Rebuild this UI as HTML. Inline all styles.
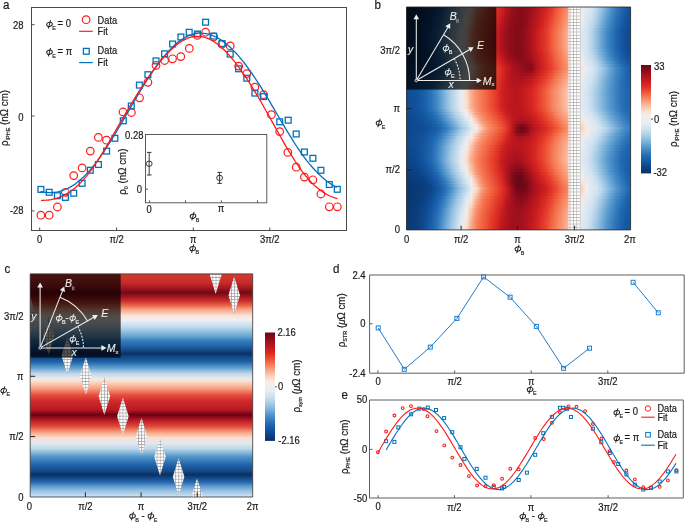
<!DOCTYPE html>
<html><head><meta charset="utf-8"><title>figure</title>
<style>html,body{margin:0;padding:0;background:#fff;overflow:hidden}svg{display:block;transform:translateZ(0)}text{font-family:"Liberation Sans",sans-serif;stroke:#1a1a1a;stroke-width:0.2px}text.w,.w text{stroke:#eeeeee;stroke-width:0.1px}text.s{stroke-width:0.15px}</style>
</head><body>
<svg width="685" height="522" viewBox="0 0 685 522" font-family="Liberation Sans, sans-serif" fill="#1a1a1a">
<defs>
<g id="phi" fill="none" stroke="currentColor" stroke-width="0.95"><ellipse cx="3.3" cy="-2.6" rx="2.85" ry="2.1" transform="rotate(-15 3.3 -2.6)"/><path d="M4.35 -6.9L2.15 1.7"/></g>
<pattern id="hatch" patternUnits="userSpaceOnUse" width="3.4" height="3.2" x="1.8" y="2.8"><rect width="3.4" height="3.2" fill="#fff"/><path d="M0 0.4H3.4M0.4 0V3.2" stroke="#a0a0a0" stroke-width="0.6"/></pattern>
<pattern id="hatchc" patternUnits="userSpaceOnUse" width="3.1" height="3.15" x="1.7" y="3.1"><rect width="3.1" height="3.15" fill="#fff"/><path d="M0 0.4H3.1M0.4 0V3.15" stroke="#9a9a9a" stroke-width="0.65"/></pattern>
</defs>
<text transform="translate(3.0,8.9) scale(0.95,1)" font-size="12.2">a</text>
<g fill="none" stroke="#ff1a1a" stroke-width="1.2"><circle cx="40.9" cy="215.2" r="3.8"/><circle cx="49.2" cy="215.2" r="3.8"/><circle cx="57.4" cy="207.0" r="3.8"/><circle cx="65.4" cy="192.3" r="3.8"/><circle cx="73.7" cy="175.6" r="3.8"/><circle cx="82.1" cy="167.9" r="3.8"/><circle cx="90.3" cy="151.1" r="3.8"/><circle cx="98.4" cy="137.4" r="3.8"/><circle cx="106.5" cy="140.2" r="3.8"/><circle cx="123.0" cy="112.0" r="3.8"/><circle cx="131.4" cy="112.5" r="3.8"/><circle cx="139.5" cy="97.8" r="3.8"/><circle cx="147.9" cy="82.3" r="3.8"/><circle cx="156.0" cy="65.5" r="3.8"/><circle cx="164.6" cy="60.5" r="3.8"/><circle cx="172.5" cy="58.8" r="3.8"/><circle cx="180.8" cy="56.6" r="3.8"/><circle cx="189.3" cy="48.4" r="3.8"/><circle cx="197.4" cy="35.4" r="3.8"/><circle cx="205.6" cy="32.2" r="3.8"/><circle cx="213.7" cy="37.0" r="3.8"/><circle cx="222" cy="44.2" r="3.8"/><circle cx="230.2" cy="45.9" r="3.8"/><circle cx="238.7" cy="66.1" r="3.8"/><circle cx="246.8" cy="73.6" r="3.8"/><circle cx="254.9" cy="87.1" r="3.8"/><circle cx="263.6" cy="94.7" r="3.8"/><circle cx="271.4" cy="114.7" r="3.8"/><circle cx="279.7" cy="131.6" r="3.8"/><circle cx="287.8" cy="152.4" r="3.8"/><circle cx="296.2" cy="167.2" r="3.8"/><circle cx="304.4" cy="177.1" r="3.8"/><circle cx="312.9" cy="179.8" r="3.8"/><circle cx="320.9" cy="194.0" r="3.8"/><circle cx="329.3" cy="206.8" r="3.8"/><circle cx="337.3" cy="206.8" r="3.8"/></g>
<g fill="none" stroke="#0072bd" stroke-width="1.3"><rect x="38.0" y="186.5" width="5.8" height="5.8"/><rect x="46.3" y="189.4" width="5.8" height="5.8"/><rect x="54.5" y="192.8" width="5.8" height="5.8"/><rect x="62.5" y="194.5" width="5.8" height="5.8"/><rect x="70.8" y="190.3" width="5.8" height="5.8"/><rect x="79.2" y="180.4" width="5.8" height="5.8"/><rect x="87.4" y="167.3" width="5.8" height="5.8"/><rect x="95.5" y="161.6" width="5.8" height="5.8"/><rect x="103.7" y="148.2" width="5.8" height="5.8"/><rect x="112.0" y="135.4" width="5.8" height="5.8"/><rect x="120.4" y="117.9" width="5.8" height="5.8"/><rect x="128.4" y="103.1" width="5.8" height="5.8"/><rect x="136.5" y="82.2" width="5.8" height="5.8"/><rect x="145.0" y="71.8" width="5.8" height="5.8"/><rect x="153.1" y="58.0" width="5.8" height="5.8"/><rect x="161.7" y="50.9" width="5.8" height="5.8"/><rect x="169.7" y="41.1" width="5.8" height="5.8"/><rect x="178.0" y="34.1" width="5.8" height="5.8"/><rect x="186.3" y="29.4" width="5.8" height="5.8"/><rect x="194.5" y="31.1" width="5.8" height="5.8"/><rect x="202.7" y="19.3" width="5.8" height="5.8"/><rect x="210.8" y="33.2" width="5.8" height="5.8"/><rect x="219.1" y="40.7" width="5.8" height="5.8"/><rect x="227.3" y="51.2" width="5.8" height="5.8"/><rect x="235.6" y="65.9" width="5.8" height="5.8"/><rect x="243.9" y="75.3" width="5.8" height="5.8"/><rect x="252.0" y="90.2" width="5.8" height="5.8"/><rect x="260.7" y="93.7" width="5.8" height="5.8"/><rect x="276.8" y="118.9" width="5.8" height="5.8"/><rect x="285.3" y="117.3" width="5.8" height="5.8"/><rect x="293.3" y="131.1" width="5.8" height="5.8"/><rect x="301.5" y="149.1" width="5.8" height="5.8"/><rect x="310.0" y="155.4" width="5.8" height="5.8"/><rect x="318.0" y="167.4" width="5.8" height="5.8"/><rect x="326.4" y="181.6" width="5.8" height="5.8"/><rect x="334.4" y="186.4" width="5.8" height="5.8"/></g>
<path d="M40.6 191.5 L43.1 192.0 L45.5 192.3 L48.0 192.5 L50.5 192.6 L52.9 192.5 L55.4 192.2 L57.9 191.8 L60.3 191.2 L62.8 190.4 L65.3 189.5 L67.8 188.4 L70.2 187.1 L72.7 185.6 L75.2 184.0 L77.6 182.1 L80.1 180.1 L82.6 177.8 L85.0 175.4 L87.5 172.9 L90.0 170.1 L92.4 167.2 L94.9 164.1 L97.4 160.8 L99.8 157.4 L102.3 153.9 L104.8 150.3 L107.2 146.5 L109.7 142.6 L112.2 138.6 L114.7 134.6 L117.1 130.5 L119.6 126.3 L122.1 122.1 L124.5 117.9 L127.0 113.6 L129.5 109.4 L131.9 105.1 L134.4 100.9 L136.9 96.7 L139.3 92.6 L141.8 88.5 L144.3 84.5 L146.7 80.6 L149.2 76.8 L151.7 73.1 L154.1 69.4 L156.6 66.0 L159.1 62.6 L161.5 59.4 L164.0 56.3 L166.5 53.4 L169.0 50.7 L171.4 48.1 L173.9 45.8 L176.4 43.6 L178.8 41.6 L181.3 39.8 L183.8 38.3 L186.2 36.9 L188.7 35.7 L191.2 34.8 L193.6 34.1 L196.1 33.5 L198.6 33.2 L201.0 33.2 L203.5 33.3 L206.0 33.6 L208.4 34.2 L210.9 34.9 L213.4 35.9 L215.9 37.0 L218.3 38.3 L220.8 39.9 L223.3 41.6 L225.7 43.5 L228.2 45.5 L230.7 47.7 L233.1 50.1 L235.6 52.7 L238.1 55.4 L240.5 58.3 L243.0 61.3 L245.5 64.5 L247.9 67.8 L250.4 71.2 L252.9 74.8 L255.3 78.5 L257.8 82.3 L260.3 86.1 L262.8 90.1 L265.2 94.1 L267.7 98.2 L270.2 102.4 L272.6 106.6 L275.1 110.8 L277.6 115.0 L280.0 119.2 L282.5 123.4 L285.0 127.6 L287.4 131.7 L289.9 135.7 L292.4 139.7 L294.8 143.5 L297.3 147.3 L299.8 150.9 L302.2 154.5 L304.7 157.8 L307.2 161.1 L309.6 164.1 L312.1 167.0 L314.6 169.8 L317.1 172.4 L319.5 174.8 L322.0 177.1 L324.5 179.2 L326.9 181.2 L329.4 183.0 L331.9 184.6 L334.3 186.1 L336.8 187.4" fill="none" stroke="#0072bd" stroke-width="1.3"/>
<path d="M41.0 200.3 L43.5 200.3 L45.9 200.2 L48.4 200.0 L50.9 199.6 L53.3 199.1 L55.8 198.5 L58.3 197.7 L60.8 196.8 L63.2 195.7 L65.7 194.4 L68.2 192.9 L70.6 191.3 L73.1 189.5 L75.6 187.4 L78.0 185.2 L80.5 182.8 L83.0 180.1 L85.4 177.3 L87.9 174.3 L90.4 171.1 L92.9 167.7 L95.3 164.1 L97.8 160.4 L100.3 156.6 L102.7 152.6 L105.2 148.6 L107.7 144.4 L110.1 140.2 L112.6 136.0 L115.1 131.7 L117.5 127.4 L120.0 123.1 L122.5 118.8 L125.0 114.5 L127.4 110.3 L129.9 106.1 L132.4 102.0 L134.8 98.0 L137.3 94.0 L139.8 90.1 L142.2 86.3 L144.7 82.5 L147.2 78.9 L149.6 75.3 L152.1 71.9 L154.6 68.6 L157.1 65.4 L159.5 62.3 L162.0 59.3 L164.5 56.5 L166.9 53.8 L169.4 51.2 L171.9 48.9 L174.3 46.7 L176.8 44.6 L179.3 42.8 L181.7 41.2 L184.2 39.8 L186.7 38.6 L189.2 37.7 L191.6 37.0 L194.1 36.5 L196.6 36.3 L199.0 36.3 L201.5 36.6 L204.0 37.1 L206.4 37.8 L208.9 38.8 L211.4 40.1 L213.8 41.5 L216.3 43.2 L218.8 45.1 L221.2 47.2 L223.7 49.5 L226.2 52.0 L228.7 54.6 L231.1 57.5 L233.6 60.4 L236.1 63.6 L238.5 66.8 L241.0 70.3 L243.5 73.8 L245.9 77.4 L248.4 81.2 L250.9 85.1 L253.3 89.1 L255.8 93.1 L258.3 97.3 L260.8 101.5 L263.2 105.8 L265.7 110.2 L268.2 114.6 L270.6 119.0 L273.1 123.4 L275.6 127.9 L278.0 132.3 L280.5 136.7 L283.0 141.1 L285.4 145.4 L287.9 149.6 L290.4 153.7 L292.9 157.7 L295.3 161.5 L297.8 165.2 L300.3 168.8 L302.7 172.1 L305.2 175.3 L307.7 178.3 L310.1 181.0 L312.6 183.6 L315.1 186.0 L317.5 188.1 L320.0 190.1 L322.5 191.8 L325.0 193.4 L327.4 194.8 L329.9 196.0 L332.4 197.0 L334.8 197.9 L337.3 198.7" fill="none" stroke="#ff1a1a" stroke-width="1.3"/>
<rect x="31.5" y="7.5" width="315" height="223" fill="none" stroke="#4a4a4a" stroke-width="1"/>
<path d="M31.5 24.7h3M31.5 116h3M31.5 210.9h3M39.7 230.5v-3M116.6 230.5v-3M193.3 230.5v-3M269.8 230.5v-3" stroke="#4a4a4a" stroke-width="1"/>
<text transform="translate(23.6,28.6) scale(0.9,1)" font-size="10.5" text-anchor="end">28</text><text transform="translate(23.6,121) scale(0.9,1)" font-size="10.5" text-anchor="end">0</text><text transform="translate(23.6,214.3) scale(0.9,1)" font-size="10.5" text-anchor="end">-28</text>
<text transform="translate(39.7,243) scale(0.9,1)" font-size="10.5" text-anchor="middle">0</text><text transform="translate(116.6,243) scale(0.9,1)" font-size="10.5" text-anchor="middle">π/2</text><text transform="translate(193.3,243) scale(0.9,1)" font-size="10.5" text-anchor="middle">π</text><text transform="translate(269.8,243) scale(0.9,1)" font-size="10.5" text-anchor="middle">3π/2</text>
<use href="#phi" transform="translate(189.4,251.2)" color="#1a1a1a"/><text x="195.5" y="254.3" font-size="5.4" fill="#1a1a1a" class="s">B</text>
<text transform="translate(8.2,118) rotate(-90) scale(0.92,1)" font-size="10.6" text-anchor="middle">ρ<tspan font-size="6" dy="2">IPHE</tspan><tspan dy="-2"> (nΩ cm)</tspan></text>
<use href="#phi" transform="translate(46.2,27.0)" color="#1a1a1a"/><text x="52.3" y="30.1" font-size="5.4" fill="#1a1a1a" class="s">E</text><text transform="translate(57.6,27) scale(0.9,1)" font-size="10.5">= 0</text>
<use href="#phi" transform="translate(46.2,54.8)" color="#1a1a1a"/><text x="52.3" y="57.9" font-size="5.4" fill="#1a1a1a" class="s">E</text><text transform="translate(57.6,54.8) scale(0.9,1)" font-size="10.5">= π</text>
<circle cx="86.1" cy="19.7" r="3.8" fill="none" stroke="#ff1a1a" stroke-width="1.2"/>
<path d="M79.1 31.3H92.8" stroke="#ff1a1a" stroke-width="1.2"/>
<rect x="83.4" y="48.4" width="5.8" height="5.8" fill="none" stroke="#0072bd" stroke-width="1.3"/>
<path d="M79.1 62.6H92.8" stroke="#0072bd" stroke-width="1.2"/>
<text transform="translate(97.6,23.5) scale(0.88,1)" font-size="10.5">Data</text><text transform="translate(97.6,34.6) scale(0.88,1)" font-size="10.5">Fit</text><text transform="translate(97.6,53.9) scale(0.88,1)" font-size="10.5">Data</text><text transform="translate(97.6,65.9) scale(0.88,1)" font-size="10.5">Fit</text>
<rect x="145.5" y="134.5" width="121.3" height="68.3" fill="#fff" stroke="#4a4a4a" stroke-width="0.9"/>
<path d="M145.5 189.2h2.5M149.6 202.8v-2.5M185.5 202.8v-2.5M221.3 202.8v-2.5M257.5 202.8v-2.5" stroke="#4a4a4a" stroke-width="0.9"/>
<text transform="translate(143.4,138.6) scale(0.9,1)" font-size="10.5" text-anchor="end">0.28</text><text transform="translate(142,192.7) scale(0.9,1)" font-size="10.5" text-anchor="end">0</text>
<text transform="translate(149,212.6) scale(0.9,1)" font-size="10.5" text-anchor="middle">0</text><text transform="translate(221,212.4) scale(0.9,1)" font-size="10.5" text-anchor="middle">π</text>
<use href="#phi" transform="translate(189.7,218.8)" color="#1a1a1a"/><text x="195.8" y="221.9" font-size="5.4" fill="#1a1a1a" class="s">B</text>
<text transform="translate(126.2,171.7) rotate(-90) scale(0.92,1)" font-size="10.6" text-anchor="middle">ρ<tspan font-size="6" dy="2">0</tspan><tspan dy="-2">  (nΩ cm)</tspan></text>
<g stroke="#222" stroke-width="0.9" fill="none"><ellipse cx="149.2" cy="163.7" rx="2.9" ry="2.7"/><path d="M149.2 152.4V175M146.9 152.4h4.6M146.9 175h4.6"/><ellipse cx="219.6" cy="177.9" rx="2.9" ry="2.7"/><path d="M219.6 172.4V183.4M217.3 172.4h4.6M217.3 183.4h4.6"/></g>
<text transform="translate(374.5,8.6) scale(0.95,1)" font-size="12.2">b</text>
<defs><linearGradient id="rb0"><stop offset="0.000" stop-color="#0a3166"/><stop offset="0.022" stop-color="#0a3166"/><stop offset="0.045" stop-color="#0a3166"/><stop offset="0.067" stop-color="#0a346c"/><stop offset="0.089" stop-color="#0b3a77"/><stop offset="0.112" stop-color="#0c4589"/><stop offset="0.134" stop-color="#13539e"/><stop offset="0.156" stop-color="#1e65ae"/><stop offset="0.178" stop-color="#3880c1"/><stop offset="0.201" stop-color="#609fd1"/><stop offset="0.223" stop-color="#90bfe0"/><stop offset="0.245" stop-color="#b7d4ea"/><stop offset="0.268" stop-color="#e2eaf3"/><stop offset="0.290" stop-color="#f9e3d8"/><stop offset="0.312" stop-color="#f9a587"/><stop offset="0.335" stop-color="#f57752"/><stop offset="0.357" stop-color="#f05a3a"/><stop offset="0.379" stop-color="#e8452f"/><stop offset="0.402" stop-color="#dd3026"/><stop offset="0.424" stop-color="#cf2121"/><stop offset="0.446" stop-color="#b5151e"/><stop offset="0.469" stop-color="#9d101c"/><stop offset="0.491" stop-color="#8d0c1a"/><stop offset="0.513" stop-color="#870b1a"/><stop offset="0.535" stop-color="#8e0c1a"/><stop offset="0.558" stop-color="#9c0f1c"/><stop offset="0.580" stop-color="#b0141e"/><stop offset="0.602" stop-color="#c31a1f"/><stop offset="0.625" stop-color="#d52522"/><stop offset="0.647" stop-color="#e23729"/><stop offset="0.669" stop-color="#ee5437"/><stop offset="0.692" stop-color="#f46f4c"/><stop offset="0.714" stop-color="#f78965"/><stop offset="0.736" stop-color="#f9a486"/><stop offset="0.759" stop-color="#fbc7b1"/><stop offset="0.781" stop-color="#f7eae5"/><stop offset="0.803" stop-color="#dfe9f3"/><stop offset="0.826" stop-color="#d5e4f1"/><stop offset="0.848" stop-color="#bcd7eb"/><stop offset="0.870" stop-color="#98c3e2"/><stop offset="0.892" stop-color="#70aad6"/><stop offset="0.915" stop-color="#4d90c9"/><stop offset="0.937" stop-color="#327abd"/><stop offset="0.959" stop-color="#2068b0"/><stop offset="0.982" stop-color="#1659a4"/><stop offset="1.000" stop-color="#114f99"/></linearGradient><linearGradient id="rb1"><stop offset="0.000" stop-color="#0a3166"/><stop offset="0.022" stop-color="#0a3166"/><stop offset="0.045" stop-color="#0a3267"/><stop offset="0.067" stop-color="#0a356d"/><stop offset="0.089" stop-color="#0b3b79"/><stop offset="0.112" stop-color="#0d478c"/><stop offset="0.134" stop-color="#1456a1"/><stop offset="0.156" stop-color="#2068b0"/><stop offset="0.178" stop-color="#3d84c3"/><stop offset="0.201" stop-color="#67a4d3"/><stop offset="0.223" stop-color="#96c2e2"/><stop offset="0.245" stop-color="#bcd7eb"/><stop offset="0.268" stop-color="#e7ecf3"/><stop offset="0.290" stop-color="#fcdccd"/><stop offset="0.312" stop-color="#f99c7c"/><stop offset="0.335" stop-color="#f4724e"/><stop offset="0.357" stop-color="#ef5738"/><stop offset="0.379" stop-color="#e7422e"/><stop offset="0.402" stop-color="#db2d25"/><stop offset="0.424" stop-color="#cd2021"/><stop offset="0.446" stop-color="#b0141e"/><stop offset="0.469" stop-color="#9a0f1c"/><stop offset="0.491" stop-color="#8c0c1a"/><stop offset="0.513" stop-color="#850b1a"/><stop offset="0.535" stop-color="#8f0d1a"/><stop offset="0.558" stop-color="#9f101d"/><stop offset="0.580" stop-color="#b2151e"/><stop offset="0.602" stop-color="#c61b1f"/><stop offset="0.625" stop-color="#d72723"/><stop offset="0.647" stop-color="#e43a2a"/><stop offset="0.669" stop-color="#ef5839"/><stop offset="0.692" stop-color="#f4734f"/><stop offset="0.714" stop-color="#f78d6a"/><stop offset="0.736" stop-color="#faaa8c"/><stop offset="0.759" stop-color="#fbccb7"/><stop offset="0.781" stop-color="#f4ece9"/><stop offset="0.803" stop-color="#dbe7f2"/><stop offset="0.826" stop-color="#d4e4f1"/><stop offset="0.848" stop-color="#b7d4ea"/><stop offset="0.870" stop-color="#92bfe0"/><stop offset="0.892" stop-color="#6aa6d4"/><stop offset="0.915" stop-color="#488dc7"/><stop offset="0.937" stop-color="#2f77bb"/><stop offset="0.959" stop-color="#1e65ae"/><stop offset="0.982" stop-color="#1557a2"/><stop offset="1.000" stop-color="#104e97"/></linearGradient><linearGradient id="rb2"><stop offset="0.000" stop-color="#0a3166"/><stop offset="0.022" stop-color="#0a3166"/><stop offset="0.045" stop-color="#0a3268"/><stop offset="0.067" stop-color="#0a366f"/><stop offset="0.089" stop-color="#0b3c7b"/><stop offset="0.112" stop-color="#0e488f"/><stop offset="0.134" stop-color="#1658a3"/><stop offset="0.156" stop-color="#246cb3"/><stop offset="0.178" stop-color="#4389c5"/><stop offset="0.201" stop-color="#6fa9d6"/><stop offset="0.223" stop-color="#9dc5e3"/><stop offset="0.245" stop-color="#c1daec"/><stop offset="0.268" stop-color="#ebedf1"/><stop offset="0.290" stop-color="#fcd1be"/><stop offset="0.312" stop-color="#f89370"/><stop offset="0.335" stop-color="#f36e4a"/><stop offset="0.357" stop-color="#ee5437"/><stop offset="0.379" stop-color="#e63e2c"/><stop offset="0.402" stop-color="#d92b24"/><stop offset="0.424" stop-color="#ca1e20"/><stop offset="0.446" stop-color="#ac131e"/><stop offset="0.469" stop-color="#960e1b"/><stop offset="0.491" stop-color="#8b0c1a"/><stop offset="0.513" stop-color="#840b19"/><stop offset="0.535" stop-color="#900d1b"/><stop offset="0.558" stop-color="#a1111d"/><stop offset="0.580" stop-color="#b5151e"/><stop offset="0.602" stop-color="#c81d20"/><stop offset="0.625" stop-color="#d92a24"/><stop offset="0.647" stop-color="#e63e2c"/><stop offset="0.669" stop-color="#f05d3c"/><stop offset="0.692" stop-color="#f57752"/><stop offset="0.714" stop-color="#f8916e"/><stop offset="0.736" stop-color="#faaf93"/><stop offset="0.759" stop-color="#fcd1be"/><stop offset="0.781" stop-color="#f1edec"/><stop offset="0.803" stop-color="#dae7f2"/><stop offset="0.826" stop-color="#d1e2f0"/><stop offset="0.848" stop-color="#b3d2e9"/><stop offset="0.870" stop-color="#8cbcdf"/><stop offset="0.892" stop-color="#64a2d2"/><stop offset="0.915" stop-color="#4389c6"/><stop offset="0.937" stop-color="#2d75b9"/><stop offset="0.959" stop-color="#1d63ac"/><stop offset="0.982" stop-color="#1455a1"/><stop offset="1.000" stop-color="#104d95"/></linearGradient><linearGradient id="rb3"><stop offset="0.000" stop-color="#0a3166"/><stop offset="0.022" stop-color="#0a3166"/><stop offset="0.045" stop-color="#0a3268"/><stop offset="0.067" stop-color="#0a3671"/><stop offset="0.089" stop-color="#0b3e7e"/><stop offset="0.112" stop-color="#0f4a91"/><stop offset="0.134" stop-color="#175ba6"/><stop offset="0.156" stop-color="#2870b6"/><stop offset="0.178" stop-color="#498dc8"/><stop offset="0.201" stop-color="#76aed8"/><stop offset="0.223" stop-color="#a3c9e5"/><stop offset="0.245" stop-color="#c6dced"/><stop offset="0.268" stop-color="#eeeeee"/><stop offset="0.290" stop-color="#fbc6b0"/><stop offset="0.312" stop-color="#f78a66"/><stop offset="0.335" stop-color="#f36947"/><stop offset="0.357" stop-color="#ec5035"/><stop offset="0.379" stop-color="#e43b2a"/><stop offset="0.402" stop-color="#d72824"/><stop offset="0.424" stop-color="#c61c1f"/><stop offset="0.446" stop-color="#a8121e"/><stop offset="0.469" stop-color="#930e1b"/><stop offset="0.491" stop-color="#8a0c1a"/><stop offset="0.513" stop-color="#850b1a"/><stop offset="0.535" stop-color="#910d1b"/><stop offset="0.558" stop-color="#a4111d"/><stop offset="0.580" stop-color="#b7161e"/><stop offset="0.602" stop-color="#cb1e20"/><stop offset="0.625" stop-color="#da2d25"/><stop offset="0.647" stop-color="#e7432e"/><stop offset="0.669" stop-color="#f16240"/><stop offset="0.692" stop-color="#f57a55"/><stop offset="0.714" stop-color="#f89573"/><stop offset="0.736" stop-color="#fab49a"/><stop offset="0.759" stop-color="#fcd8c7"/><stop offset="0.781" stop-color="#eeeeee"/><stop offset="0.803" stop-color="#d9e6f2"/><stop offset="0.826" stop-color="#cde0ef"/><stop offset="0.848" stop-color="#aecfe7"/><stop offset="0.870" stop-color="#86b9dd"/><stop offset="0.892" stop-color="#5e9ed0"/><stop offset="0.915" stop-color="#3f86c4"/><stop offset="0.937" stop-color="#2a72b7"/><stop offset="0.959" stop-color="#1b61aa"/><stop offset="0.982" stop-color="#13549f"/><stop offset="1.000" stop-color="#0f4c94"/></linearGradient><linearGradient id="rb4"><stop offset="0.000" stop-color="#0a3166"/><stop offset="0.022" stop-color="#0a3166"/><stop offset="0.045" stop-color="#0a3269"/><stop offset="0.067" stop-color="#0a3772"/><stop offset="0.089" stop-color="#0b4081"/><stop offset="0.112" stop-color="#104c94"/><stop offset="0.134" stop-color="#195da8"/><stop offset="0.156" stop-color="#2c74b8"/><stop offset="0.178" stop-color="#4e92ca"/><stop offset="0.201" stop-color="#7cb2da"/><stop offset="0.223" stop-color="#a8cce6"/><stop offset="0.245" stop-color="#cfe1f0"/><stop offset="0.268" stop-color="#f1edec"/><stop offset="0.290" stop-color="#fbbea5"/><stop offset="0.312" stop-color="#f6835e"/><stop offset="0.335" stop-color="#f26544"/><stop offset="0.357" stop-color="#eb4e34"/><stop offset="0.379" stop-color="#e23829"/><stop offset="0.402" stop-color="#d52623"/><stop offset="0.424" stop-color="#c2191e"/><stop offset="0.446" stop-color="#a6111e"/><stop offset="0.469" stop-color="#900d1b"/><stop offset="0.491" stop-color="#890c1a"/><stop offset="0.513" stop-color="#860b1a"/><stop offset="0.535" stop-color="#920d1b"/><stop offset="0.558" stop-color="#a6121e"/><stop offset="0.580" stop-color="#ba171e"/><stop offset="0.602" stop-color="#cd2021"/><stop offset="0.625" stop-color="#dc2f26"/><stop offset="0.647" stop-color="#e94730"/><stop offset="0.669" stop-color="#f26543"/><stop offset="0.692" stop-color="#f67e58"/><stop offset="0.714" stop-color="#f89977"/><stop offset="0.736" stop-color="#fbb9a0"/><stop offset="0.759" stop-color="#fbdecf"/><stop offset="0.781" stop-color="#ebedf0"/><stop offset="0.803" stop-color="#d8e6f1"/><stop offset="0.826" stop-color="#c9deee"/><stop offset="0.848" stop-color="#a8cce6"/><stop offset="0.870" stop-color="#81b5dc"/><stop offset="0.892" stop-color="#5a9bce"/><stop offset="0.915" stop-color="#3b83c2"/><stop offset="0.937" stop-color="#276fb5"/><stop offset="0.959" stop-color="#1a5fa9"/><stop offset="0.982" stop-color="#12529d"/><stop offset="1.000" stop-color="#0f4b93"/></linearGradient><linearGradient id="rb5"><stop offset="0.000" stop-color="#0a3166"/><stop offset="0.022" stop-color="#0a3166"/><stop offset="0.045" stop-color="#0a336a"/><stop offset="0.067" stop-color="#0a3874"/><stop offset="0.089" stop-color="#0c4183"/><stop offset="0.112" stop-color="#104e97"/><stop offset="0.134" stop-color="#1b60aa"/><stop offset="0.156" stop-color="#3078bb"/><stop offset="0.178" stop-color="#5496cc"/><stop offset="0.201" stop-color="#83b7dc"/><stop offset="0.223" stop-color="#aecfe7"/><stop offset="0.245" stop-color="#d5e4f1"/><stop offset="0.268" stop-color="#f4edea"/><stop offset="0.290" stop-color="#fab69b"/><stop offset="0.312" stop-color="#f67f59"/><stop offset="0.335" stop-color="#f16140"/><stop offset="0.357" stop-color="#ea4b32"/><stop offset="0.379" stop-color="#e13528"/><stop offset="0.402" stop-color="#d32422"/><stop offset="0.424" stop-color="#be181e"/><stop offset="0.446" stop-color="#a3111d"/><stop offset="0.469" stop-color="#8f0d1a"/><stop offset="0.491" stop-color="#870b1a"/><stop offset="0.513" stop-color="#860b1a"/><stop offset="0.535" stop-color="#930d1b"/><stop offset="0.558" stop-color="#a9121e"/><stop offset="0.580" stop-color="#bd171e"/><stop offset="0.602" stop-color="#d02121"/><stop offset="0.625" stop-color="#de3227"/><stop offset="0.647" stop-color="#ea4b32"/><stop offset="0.669" stop-color="#f26946"/><stop offset="0.692" stop-color="#f6815c"/><stop offset="0.714" stop-color="#f99d7c"/><stop offset="0.736" stop-color="#fbbea6"/><stop offset="0.759" stop-color="#fae2d6"/><stop offset="0.781" stop-color="#e9edf2"/><stop offset="0.803" stop-color="#d7e5f1"/><stop offset="0.826" stop-color="#c4dbed"/><stop offset="0.848" stop-color="#a3c9e5"/><stop offset="0.870" stop-color="#7bb1da"/><stop offset="0.892" stop-color="#5597cd"/><stop offset="0.915" stop-color="#3880c0"/><stop offset="0.937" stop-color="#256db3"/><stop offset="0.959" stop-color="#195da7"/><stop offset="0.982" stop-color="#11519b"/><stop offset="1.000" stop-color="#0f4a92"/></linearGradient><linearGradient id="rb6"><stop offset="0.000" stop-color="#0a3166"/><stop offset="0.022" stop-color="#0a3166"/><stop offset="0.045" stop-color="#0a336a"/><stop offset="0.067" stop-color="#0a3976"/><stop offset="0.089" stop-color="#0c4387"/><stop offset="0.112" stop-color="#12519b"/><stop offset="0.134" stop-color="#1d63ac"/><stop offset="0.156" stop-color="#347cbe"/><stop offset="0.178" stop-color="#5b9bcf"/><stop offset="0.201" stop-color="#8bbbdf"/><stop offset="0.223" stop-color="#b3d2e9"/><stop offset="0.245" stop-color="#dce8f2"/><stop offset="0.268" stop-color="#f7e9e2"/><stop offset="0.290" stop-color="#faac90"/><stop offset="0.312" stop-color="#f57a55"/><stop offset="0.335" stop-color="#f05d3c"/><stop offset="0.357" stop-color="#e94731"/><stop offset="0.379" stop-color="#de3227"/><stop offset="0.402" stop-color="#d12221"/><stop offset="0.424" stop-color="#b9161e"/><stop offset="0.446" stop-color="#9f101d"/><stop offset="0.469" stop-color="#8e0c1a"/><stop offset="0.491" stop-color="#860b1a"/><stop offset="0.513" stop-color="#880b1a"/><stop offset="0.535" stop-color="#940e1b"/><stop offset="0.558" stop-color="#ab131e"/><stop offset="0.580" stop-color="#c0181e"/><stop offset="0.602" stop-color="#d32322"/><stop offset="0.625" stop-color="#e03528"/><stop offset="0.647" stop-color="#ec5035"/><stop offset="0.669" stop-color="#f36c49"/><stop offset="0.692" stop-color="#f78561"/><stop offset="0.714" stop-color="#f9a181"/><stop offset="0.736" stop-color="#fbc4ad"/><stop offset="0.759" stop-color="#f8e6de"/><stop offset="0.781" stop-color="#e5ebf4"/><stop offset="0.803" stop-color="#d6e5f1"/><stop offset="0.826" stop-color="#c0d9ec"/><stop offset="0.848" stop-color="#9dc5e3"/><stop offset="0.870" stop-color="#75add8"/><stop offset="0.892" stop-color="#5093cb"/><stop offset="0.915" stop-color="#357dbe"/><stop offset="0.937" stop-color="#226ab1"/><stop offset="0.959" stop-color="#175ba5"/><stop offset="0.982" stop-color="#114f98"/><stop offset="1.000" stop-color="#0e4990"/></linearGradient><linearGradient id="rb7"><stop offset="0.000" stop-color="#0a3166"/><stop offset="0.022" stop-color="#0a3167"/><stop offset="0.045" stop-color="#0a346c"/><stop offset="0.067" stop-color="#0b3b78"/><stop offset="0.089" stop-color="#0d458a"/><stop offset="0.112" stop-color="#1354a0"/><stop offset="0.134" stop-color="#1f66ae"/><stop offset="0.156" stop-color="#3a82c2"/><stop offset="0.178" stop-color="#63a1d2"/><stop offset="0.201" stop-color="#93c0e1"/><stop offset="0.223" stop-color="#b9d5ea"/><stop offset="0.245" stop-color="#e5ebf4"/><stop offset="0.268" stop-color="#fae1d4"/><stop offset="0.290" stop-color="#f9a283"/><stop offset="0.312" stop-color="#f47550"/><stop offset="0.335" stop-color="#ef5939"/><stop offset="0.357" stop-color="#e8442f"/><stop offset="0.379" stop-color="#dc2f26"/><stop offset="0.402" stop-color="#ce2021"/><stop offset="0.424" stop-color="#b3151e"/><stop offset="0.446" stop-color="#9c0f1c"/><stop offset="0.469" stop-color="#8d0c1a"/><stop offset="0.491" stop-color="#850b1a"/><stop offset="0.513" stop-color="#890c1a"/><stop offset="0.535" stop-color="#960e1b"/><stop offset="0.558" stop-color="#ae131e"/><stop offset="0.580" stop-color="#c31a1f"/><stop offset="0.602" stop-color="#d52623"/><stop offset="0.625" stop-color="#e33829"/><stop offset="0.647" stop-color="#ee5538"/><stop offset="0.669" stop-color="#f4714d"/><stop offset="0.692" stop-color="#f78a67"/><stop offset="0.714" stop-color="#f9a688"/><stop offset="0.736" stop-color="#fbc9b4"/><stop offset="0.759" stop-color="#f6ece7"/><stop offset="0.781" stop-color="#dde8f2"/><stop offset="0.803" stop-color="#d5e4f1"/><stop offset="0.826" stop-color="#bad6eb"/><stop offset="0.848" stop-color="#95c1e1"/><stop offset="0.870" stop-color="#6ea8d5"/><stop offset="0.892" stop-color="#4b8fc9"/><stop offset="0.915" stop-color="#3179bc"/><stop offset="0.937" stop-color="#1f67af"/><stop offset="0.959" stop-color="#1658a3"/><stop offset="0.982" stop-color="#104d95"/><stop offset="1.000" stop-color="#0e498f"/></linearGradient><linearGradient id="rb8"><stop offset="0.000" stop-color="#0a3166"/><stop offset="0.022" stop-color="#0a3267"/><stop offset="0.045" stop-color="#0a356e"/><stop offset="0.067" stop-color="#0b3c7a"/><stop offset="0.089" stop-color="#0d478c"/><stop offset="0.112" stop-color="#1456a2"/><stop offset="0.134" stop-color="#2169b0"/><stop offset="0.156" stop-color="#3e85c4"/><stop offset="0.178" stop-color="#69a5d4"/><stop offset="0.201" stop-color="#98c3e2"/><stop offset="0.223" stop-color="#bdd7eb"/><stop offset="0.245" stop-color="#e8edf2"/><stop offset="0.268" stop-color="#fcdaca"/><stop offset="0.290" stop-color="#f89a79"/><stop offset="0.312" stop-color="#f4714d"/><stop offset="0.335" stop-color="#ef5638"/><stop offset="0.357" stop-color="#e7412d"/><stop offset="0.379" stop-color="#da2d25"/><stop offset="0.402" stop-color="#cc1f20"/><stop offset="0.424" stop-color="#af141e"/><stop offset="0.446" stop-color="#990f1c"/><stop offset="0.469" stop-color="#8c0c1a"/><stop offset="0.491" stop-color="#840b19"/><stop offset="0.513" stop-color="#8a0c1a"/><stop offset="0.535" stop-color="#980f1c"/><stop offset="0.558" stop-color="#b0141e"/><stop offset="0.580" stop-color="#c61b1f"/><stop offset="0.602" stop-color="#d72823"/><stop offset="0.625" stop-color="#e43b2a"/><stop offset="0.647" stop-color="#f0593a"/><stop offset="0.669" stop-color="#f47450"/><stop offset="0.692" stop-color="#f78e6b"/><stop offset="0.714" stop-color="#faab8e"/><stop offset="0.736" stop-color="#fbcdb9"/><stop offset="0.759" stop-color="#f4edea"/><stop offset="0.781" stop-color="#dbe7f2"/><stop offset="0.803" stop-color="#d3e3f1"/><stop offset="0.826" stop-color="#b6d4ea"/><stop offset="0.848" stop-color="#90bfe0"/><stop offset="0.870" stop-color="#69a5d4"/><stop offset="0.892" stop-color="#478cc7"/><stop offset="0.915" stop-color="#2f77ba"/><stop offset="0.937" stop-color="#1e65ae"/><stop offset="0.959" stop-color="#1556a2"/><stop offset="0.982" stop-color="#104c94"/><stop offset="1.000" stop-color="#0e488e"/></linearGradient><linearGradient id="rb9"><stop offset="0.000" stop-color="#0a3166"/><stop offset="0.022" stop-color="#0a3267"/><stop offset="0.045" stop-color="#0a356e"/><stop offset="0.067" stop-color="#0b3c7a"/><stop offset="0.089" stop-color="#0d478c"/><stop offset="0.112" stop-color="#1456a2"/><stop offset="0.134" stop-color="#2169b0"/><stop offset="0.156" stop-color="#3e85c4"/><stop offset="0.178" stop-color="#69a5d4"/><stop offset="0.201" stop-color="#98c3e2"/><stop offset="0.223" stop-color="#bdd7eb"/><stop offset="0.245" stop-color="#e8edf2"/><stop offset="0.268" stop-color="#fcdaca"/><stop offset="0.290" stop-color="#f89a79"/><stop offset="0.312" stop-color="#f4714d"/><stop offset="0.335" stop-color="#ef5638"/><stop offset="0.357" stop-color="#e7412d"/><stop offset="0.379" stop-color="#da2d25"/><stop offset="0.402" stop-color="#cc1f20"/><stop offset="0.424" stop-color="#af141e"/><stop offset="0.446" stop-color="#990f1c"/><stop offset="0.469" stop-color="#8c0c1a"/><stop offset="0.491" stop-color="#830b19"/><stop offset="0.513" stop-color="#890c1a"/><stop offset="0.535" stop-color="#970e1c"/><stop offset="0.558" stop-color="#af141e"/><stop offset="0.580" stop-color="#c61b1f"/><stop offset="0.602" stop-color="#d72823"/><stop offset="0.625" stop-color="#e43b2a"/><stop offset="0.647" stop-color="#f0593a"/><stop offset="0.669" stop-color="#f47450"/><stop offset="0.692" stop-color="#f78e6b"/><stop offset="0.714" stop-color="#faab8e"/><stop offset="0.736" stop-color="#fbcdb9"/><stop offset="0.759" stop-color="#f4edea"/><stop offset="0.781" stop-color="#dbe7f2"/><stop offset="0.803" stop-color="#d3e3f1"/><stop offset="0.826" stop-color="#b6d4ea"/><stop offset="0.848" stop-color="#90bfe0"/><stop offset="0.870" stop-color="#69a5d4"/><stop offset="0.892" stop-color="#478cc7"/><stop offset="0.915" stop-color="#2f77ba"/><stop offset="0.937" stop-color="#1e65ae"/><stop offset="0.959" stop-color="#1556a2"/><stop offset="0.982" stop-color="#104c94"/><stop offset="1.000" stop-color="#0e488e"/></linearGradient><linearGradient id="rb10"><stop offset="0.000" stop-color="#0a3166"/><stop offset="0.022" stop-color="#0a3267"/><stop offset="0.045" stop-color="#0a356e"/><stop offset="0.067" stop-color="#0b3c7a"/><stop offset="0.089" stop-color="#0d478c"/><stop offset="0.112" stop-color="#1456a2"/><stop offset="0.134" stop-color="#2169b0"/><stop offset="0.156" stop-color="#3e85c4"/><stop offset="0.178" stop-color="#69a5d4"/><stop offset="0.201" stop-color="#98c3e2"/><stop offset="0.223" stop-color="#bdd7eb"/><stop offset="0.245" stop-color="#e8edf2"/><stop offset="0.268" stop-color="#fcdaca"/><stop offset="0.290" stop-color="#f89a79"/><stop offset="0.312" stop-color="#f4714d"/><stop offset="0.335" stop-color="#ef5638"/><stop offset="0.357" stop-color="#e7412d"/><stop offset="0.379" stop-color="#da2d25"/><stop offset="0.402" stop-color="#cc1f20"/><stop offset="0.424" stop-color="#af141e"/><stop offset="0.446" stop-color="#990f1c"/><stop offset="0.469" stop-color="#8c0c1a"/><stop offset="0.491" stop-color="#830b19"/><stop offset="0.513" stop-color="#890c1a"/><stop offset="0.535" stop-color="#970e1c"/><stop offset="0.558" stop-color="#af141e"/><stop offset="0.580" stop-color="#c61b1f"/><stop offset="0.602" stop-color="#d72823"/><stop offset="0.625" stop-color="#e43b2a"/><stop offset="0.647" stop-color="#f0593a"/><stop offset="0.669" stop-color="#f47450"/><stop offset="0.692" stop-color="#f78e6b"/><stop offset="0.714" stop-color="#faab8e"/><stop offset="0.736" stop-color="#fbcdb9"/><stop offset="0.759" stop-color="#f4edea"/><stop offset="0.781" stop-color="#dbe7f2"/><stop offset="0.803" stop-color="#d3e3f1"/><stop offset="0.826" stop-color="#b6d4ea"/><stop offset="0.848" stop-color="#90bfe0"/><stop offset="0.870" stop-color="#69a5d4"/><stop offset="0.892" stop-color="#478cc7"/><stop offset="0.915" stop-color="#2f77ba"/><stop offset="0.937" stop-color="#1e65ae"/><stop offset="0.959" stop-color="#1556a2"/><stop offset="0.982" stop-color="#104c94"/><stop offset="1.000" stop-color="#0e488e"/></linearGradient><linearGradient id="rb11"><stop offset="0.000" stop-color="#0a3166"/><stop offset="0.022" stop-color="#0a3267"/><stop offset="0.045" stop-color="#0a356e"/><stop offset="0.067" stop-color="#0b3c7a"/><stop offset="0.089" stop-color="#0d478c"/><stop offset="0.112" stop-color="#1456a2"/><stop offset="0.134" stop-color="#2169b0"/><stop offset="0.156" stop-color="#3e85c4"/><stop offset="0.178" stop-color="#69a5d4"/><stop offset="0.201" stop-color="#98c3e2"/><stop offset="0.223" stop-color="#bdd7eb"/><stop offset="0.245" stop-color="#e8edf2"/><stop offset="0.268" stop-color="#fcdaca"/><stop offset="0.290" stop-color="#f89a79"/><stop offset="0.312" stop-color="#f4714d"/><stop offset="0.335" stop-color="#ef5638"/><stop offset="0.357" stop-color="#e7412d"/><stop offset="0.379" stop-color="#da2d25"/><stop offset="0.402" stop-color="#cc1f20"/><stop offset="0.424" stop-color="#af141e"/><stop offset="0.446" stop-color="#990f1c"/><stop offset="0.469" stop-color="#8c0c1a"/><stop offset="0.491" stop-color="#830b19"/><stop offset="0.513" stop-color="#890c1a"/><stop offset="0.535" stop-color="#970e1c"/><stop offset="0.558" stop-color="#af141e"/><stop offset="0.580" stop-color="#c61b1f"/><stop offset="0.602" stop-color="#d72823"/><stop offset="0.625" stop-color="#e43b2a"/><stop offset="0.647" stop-color="#f0593a"/><stop offset="0.669" stop-color="#f47450"/><stop offset="0.692" stop-color="#f78e6b"/><stop offset="0.714" stop-color="#faab8e"/><stop offset="0.736" stop-color="#fbcdb9"/><stop offset="0.759" stop-color="#f4edea"/><stop offset="0.781" stop-color="#dbe7f2"/><stop offset="0.803" stop-color="#d3e3f1"/><stop offset="0.826" stop-color="#b6d4ea"/><stop offset="0.848" stop-color="#90bfe0"/><stop offset="0.870" stop-color="#69a5d4"/><stop offset="0.892" stop-color="#478cc7"/><stop offset="0.915" stop-color="#2f77ba"/><stop offset="0.937" stop-color="#1e65ae"/><stop offset="0.959" stop-color="#1556a2"/><stop offset="0.982" stop-color="#104c94"/><stop offset="1.000" stop-color="#0e488e"/></linearGradient><linearGradient id="rb12"><stop offset="0.000" stop-color="#0a3166"/><stop offset="0.022" stop-color="#0a3267"/><stop offset="0.045" stop-color="#0a356e"/><stop offset="0.067" stop-color="#0b3c7a"/><stop offset="0.089" stop-color="#0d478c"/><stop offset="0.112" stop-color="#1456a2"/><stop offset="0.134" stop-color="#2169b0"/><stop offset="0.156" stop-color="#3e85c4"/><stop offset="0.178" stop-color="#69a5d4"/><stop offset="0.201" stop-color="#98c3e2"/><stop offset="0.223" stop-color="#bdd7eb"/><stop offset="0.245" stop-color="#e8edf2"/><stop offset="0.268" stop-color="#fcdaca"/><stop offset="0.290" stop-color="#f89a79"/><stop offset="0.312" stop-color="#f4714d"/><stop offset="0.335" stop-color="#ef5638"/><stop offset="0.357" stop-color="#e7412d"/><stop offset="0.379" stop-color="#da2d25"/><stop offset="0.402" stop-color="#cc1f20"/><stop offset="0.424" stop-color="#af141e"/><stop offset="0.446" stop-color="#990f1c"/><stop offset="0.469" stop-color="#8c0c1a"/><stop offset="0.491" stop-color="#830b19"/><stop offset="0.513" stop-color="#890c1a"/><stop offset="0.535" stop-color="#970e1c"/><stop offset="0.558" stop-color="#af141e"/><stop offset="0.580" stop-color="#c61b1f"/><stop offset="0.602" stop-color="#d72823"/><stop offset="0.625" stop-color="#e43b2a"/><stop offset="0.647" stop-color="#f0593a"/><stop offset="0.669" stop-color="#f47450"/><stop offset="0.692" stop-color="#f78e6b"/><stop offset="0.714" stop-color="#faab8e"/><stop offset="0.736" stop-color="#fbcdb9"/><stop offset="0.759" stop-color="#f4edea"/><stop offset="0.781" stop-color="#dbe7f2"/><stop offset="0.803" stop-color="#d3e3f1"/><stop offset="0.826" stop-color="#b6d4ea"/><stop offset="0.848" stop-color="#90bfe0"/><stop offset="0.870" stop-color="#69a5d4"/><stop offset="0.892" stop-color="#478cc7"/><stop offset="0.915" stop-color="#2f77ba"/><stop offset="0.937" stop-color="#1e65ae"/><stop offset="0.959" stop-color="#1556a2"/><stop offset="0.982" stop-color="#104c94"/><stop offset="1.000" stop-color="#0e488e"/></linearGradient><linearGradient id="rb13"><stop offset="0.000" stop-color="#0a3166"/><stop offset="0.022" stop-color="#0a3267"/><stop offset="0.045" stop-color="#0a356e"/><stop offset="0.067" stop-color="#0b3c7a"/><stop offset="0.089" stop-color="#0d478c"/><stop offset="0.112" stop-color="#1456a2"/><stop offset="0.134" stop-color="#2169b0"/><stop offset="0.156" stop-color="#3e85c4"/><stop offset="0.178" stop-color="#69a5d4"/><stop offset="0.201" stop-color="#98c3e2"/><stop offset="0.223" stop-color="#bdd7eb"/><stop offset="0.245" stop-color="#e8edf2"/><stop offset="0.268" stop-color="#fcdaca"/><stop offset="0.290" stop-color="#f89a79"/><stop offset="0.312" stop-color="#f4714d"/><stop offset="0.335" stop-color="#ef5638"/><stop offset="0.357" stop-color="#e7412d"/><stop offset="0.379" stop-color="#da2d25"/><stop offset="0.402" stop-color="#cc1f20"/><stop offset="0.424" stop-color="#af141e"/><stop offset="0.446" stop-color="#990f1c"/><stop offset="0.469" stop-color="#8c0c1a"/><stop offset="0.491" stop-color="#840b19"/><stop offset="0.513" stop-color="#8a0c1a"/><stop offset="0.535" stop-color="#980f1c"/><stop offset="0.558" stop-color="#b0141e"/><stop offset="0.580" stop-color="#c61b1f"/><stop offset="0.602" stop-color="#d72823"/><stop offset="0.625" stop-color="#e43b2a"/><stop offset="0.647" stop-color="#f0593a"/><stop offset="0.669" stop-color="#f47450"/><stop offset="0.692" stop-color="#f78e6b"/><stop offset="0.714" stop-color="#faab8e"/><stop offset="0.736" stop-color="#fbcdb9"/><stop offset="0.759" stop-color="#f4edea"/><stop offset="0.781" stop-color="#dbe7f2"/><stop offset="0.803" stop-color="#d3e3f1"/><stop offset="0.826" stop-color="#b6d4ea"/><stop offset="0.848" stop-color="#90bfe0"/><stop offset="0.870" stop-color="#69a5d4"/><stop offset="0.892" stop-color="#478cc7"/><stop offset="0.915" stop-color="#2f77ba"/><stop offset="0.937" stop-color="#1e65ae"/><stop offset="0.959" stop-color="#1556a2"/><stop offset="0.982" stop-color="#104c94"/><stop offset="1.000" stop-color="#0e488e"/></linearGradient><linearGradient id="rb14"><stop offset="0.000" stop-color="#0a3166"/><stop offset="0.022" stop-color="#0a3167"/><stop offset="0.045" stop-color="#0a346c"/><stop offset="0.067" stop-color="#0b3b78"/><stop offset="0.089" stop-color="#0d458a"/><stop offset="0.112" stop-color="#1354a0"/><stop offset="0.134" stop-color="#1f66ae"/><stop offset="0.156" stop-color="#3981c2"/><stop offset="0.178" stop-color="#63a1d2"/><stop offset="0.201" stop-color="#92c0e1"/><stop offset="0.223" stop-color="#b9d5ea"/><stop offset="0.245" stop-color="#e4ebf4"/><stop offset="0.268" stop-color="#fae1d4"/><stop offset="0.290" stop-color="#f9a283"/><stop offset="0.312" stop-color="#f57551"/><stop offset="0.335" stop-color="#f05939"/><stop offset="0.357" stop-color="#e8442f"/><stop offset="0.379" stop-color="#dc2f26"/><stop offset="0.402" stop-color="#ce2021"/><stop offset="0.424" stop-color="#b4151e"/><stop offset="0.446" stop-color="#9c0f1c"/><stop offset="0.469" stop-color="#8d0c1a"/><stop offset="0.491" stop-color="#850b1a"/><stop offset="0.513" stop-color="#890c1a"/><stop offset="0.535" stop-color="#960e1b"/><stop offset="0.558" stop-color="#ae131e"/><stop offset="0.580" stop-color="#c31a1f"/><stop offset="0.602" stop-color="#d52623"/><stop offset="0.625" stop-color="#e33829"/><stop offset="0.647" stop-color="#ee5538"/><stop offset="0.669" stop-color="#f4714d"/><stop offset="0.692" stop-color="#f78a66"/><stop offset="0.714" stop-color="#f9a688"/><stop offset="0.736" stop-color="#fbc9b3"/><stop offset="0.759" stop-color="#f6ece7"/><stop offset="0.781" stop-color="#dde8f2"/><stop offset="0.803" stop-color="#d5e4f1"/><stop offset="0.826" stop-color="#bad6eb"/><stop offset="0.848" stop-color="#96c2e1"/><stop offset="0.870" stop-color="#6ea9d5"/><stop offset="0.892" stop-color="#4b8fc9"/><stop offset="0.915" stop-color="#3179bc"/><stop offset="0.937" stop-color="#1f67af"/><stop offset="0.959" stop-color="#1658a3"/><stop offset="0.982" stop-color="#104d95"/><stop offset="1.000" stop-color="#0e498f"/></linearGradient><linearGradient id="rb15"><stop offset="0.000" stop-color="#0a3166"/><stop offset="0.022" stop-color="#0a3166"/><stop offset="0.045" stop-color="#0a336a"/><stop offset="0.067" stop-color="#0a3976"/><stop offset="0.089" stop-color="#0c4386"/><stop offset="0.112" stop-color="#12519b"/><stop offset="0.134" stop-color="#1d63ac"/><stop offset="0.156" stop-color="#347cbe"/><stop offset="0.178" stop-color="#5a9bcf"/><stop offset="0.201" stop-color="#8abbdf"/><stop offset="0.223" stop-color="#b3d2e9"/><stop offset="0.245" stop-color="#dce8f2"/><stop offset="0.268" stop-color="#f7e9e3"/><stop offset="0.290" stop-color="#faad90"/><stop offset="0.312" stop-color="#f57a55"/><stop offset="0.335" stop-color="#f05d3c"/><stop offset="0.357" stop-color="#e94731"/><stop offset="0.379" stop-color="#df3227"/><stop offset="0.402" stop-color="#d12221"/><stop offset="0.424" stop-color="#b9161e"/><stop offset="0.446" stop-color="#9f101d"/><stop offset="0.469" stop-color="#8e0c1a"/><stop offset="0.491" stop-color="#860b1a"/><stop offset="0.513" stop-color="#870b1a"/><stop offset="0.535" stop-color="#940e1b"/><stop offset="0.558" stop-color="#aa131e"/><stop offset="0.580" stop-color="#c0181e"/><stop offset="0.602" stop-color="#d22322"/><stop offset="0.625" stop-color="#e03528"/><stop offset="0.647" stop-color="#ec5035"/><stop offset="0.669" stop-color="#f36c49"/><stop offset="0.692" stop-color="#f78561"/><stop offset="0.714" stop-color="#f9a181"/><stop offset="0.736" stop-color="#fbc3ac"/><stop offset="0.759" stop-color="#f8e6de"/><stop offset="0.781" stop-color="#e5ebf4"/><stop offset="0.803" stop-color="#d6e5f1"/><stop offset="0.826" stop-color="#c0d9ec"/><stop offset="0.848" stop-color="#9dc5e3"/><stop offset="0.870" stop-color="#75add8"/><stop offset="0.892" stop-color="#5194cb"/><stop offset="0.915" stop-color="#357dbe"/><stop offset="0.937" stop-color="#226ab1"/><stop offset="0.959" stop-color="#175ba5"/><stop offset="0.982" stop-color="#114f98"/><stop offset="1.000" stop-color="#0e4a90"/></linearGradient><linearGradient id="rb16"><stop offset="0.000" stop-color="#0a3166"/><stop offset="0.022" stop-color="#0a3167"/><stop offset="0.045" stop-color="#0a346b"/><stop offset="0.067" stop-color="#0a3976"/><stop offset="0.089" stop-color="#0c4285"/><stop offset="0.112" stop-color="#114f98"/><stop offset="0.134" stop-color="#1b60aa"/><stop offset="0.156" stop-color="#3078bb"/><stop offset="0.178" stop-color="#5496cc"/><stop offset="0.201" stop-color="#83b7dc"/><stop offset="0.223" stop-color="#aecfe7"/><stop offset="0.245" stop-color="#d4e4f1"/><stop offset="0.268" stop-color="#f3edea"/><stop offset="0.290" stop-color="#fbb89e"/><stop offset="0.312" stop-color="#f6815b"/><stop offset="0.335" stop-color="#f26442"/><stop offset="0.357" stop-color="#eb4d33"/><stop offset="0.379" stop-color="#e23729"/><stop offset="0.402" stop-color="#d52522"/><stop offset="0.424" stop-color="#c1181e"/><stop offset="0.446" stop-color="#a5111e"/><stop offset="0.469" stop-color="#910d1b"/><stop offset="0.491" stop-color="#8a0c1a"/><stop offset="0.513" stop-color="#880c1a"/><stop offset="0.535" stop-color="#930e1b"/><stop offset="0.558" stop-color="#a7121e"/><stop offset="0.580" stop-color="#bd171e"/><stop offset="0.602" stop-color="#d02221"/><stop offset="0.625" stop-color="#df3327"/><stop offset="0.647" stop-color="#eb4c33"/><stop offset="0.669" stop-color="#f36947"/><stop offset="0.692" stop-color="#f6825c"/><stop offset="0.714" stop-color="#f99d7c"/><stop offset="0.736" stop-color="#fbbea6"/><stop offset="0.759" stop-color="#fae1d5"/><stop offset="0.781" stop-color="#e9edf2"/><stop offset="0.803" stop-color="#d8e5f1"/><stop offset="0.826" stop-color="#c6dced"/><stop offset="0.848" stop-color="#a5cae5"/><stop offset="0.870" stop-color="#7db3da"/><stop offset="0.892" stop-color="#5799cd"/><stop offset="0.915" stop-color="#3981c1"/><stop offset="0.937" stop-color="#266eb4"/><stop offset="0.959" stop-color="#1a5ea8"/><stop offset="0.982" stop-color="#12529d"/><stop offset="1.000" stop-color="#0f4c93"/></linearGradient><linearGradient id="rb17"><stop offset="0.000" stop-color="#0a3166"/><stop offset="0.022" stop-color="#0a336a"/><stop offset="0.045" stop-color="#0a356e"/><stop offset="0.067" stop-color="#0b3a77"/><stop offset="0.089" stop-color="#0c4285"/><stop offset="0.112" stop-color="#114e98"/><stop offset="0.134" stop-color="#1a5fa9"/><stop offset="0.156" stop-color="#2d75b9"/><stop offset="0.178" stop-color="#4f92ca"/><stop offset="0.201" stop-color="#7cb2da"/><stop offset="0.223" stop-color="#a7cbe6"/><stop offset="0.245" stop-color="#cadfef"/><stop offset="0.268" stop-color="#efeeed"/><stop offset="0.290" stop-color="#fbc4ad"/><stop offset="0.312" stop-color="#f78a66"/><stop offset="0.335" stop-color="#f36c49"/><stop offset="0.357" stop-color="#ee5437"/><stop offset="0.379" stop-color="#e53e2c"/><stop offset="0.402" stop-color="#d92b25"/><stop offset="0.424" stop-color="#c91d20"/><stop offset="0.446" stop-color="#ad131e"/><stop offset="0.469" stop-color="#990f1c"/><stop offset="0.491" stop-color="#900d1b"/><stop offset="0.513" stop-color="#8b0c1a"/><stop offset="0.535" stop-color="#920d1b"/><stop offset="0.558" stop-color="#a1111d"/><stop offset="0.580" stop-color="#bb171e"/><stop offset="0.602" stop-color="#cf2121"/><stop offset="0.625" stop-color="#de3127"/><stop offset="0.647" stop-color="#ea4931"/><stop offset="0.669" stop-color="#f26745"/><stop offset="0.692" stop-color="#f67f59"/><stop offset="0.714" stop-color="#f89978"/><stop offset="0.736" stop-color="#fbb89f"/><stop offset="0.759" stop-color="#fcdccc"/><stop offset="0.781" stop-color="#edeeef"/><stop offset="0.803" stop-color="#dae6f2"/><stop offset="0.826" stop-color="#cde0ef"/><stop offset="0.848" stop-color="#aecfe8"/><stop offset="0.870" stop-color="#87bade"/><stop offset="0.892" stop-color="#61a0d1"/><stop offset="0.915" stop-color="#4288c5"/><stop offset="0.937" stop-color="#2d75b9"/><stop offset="0.959" stop-color="#1d63ac"/><stop offset="0.982" stop-color="#1556a2"/><stop offset="1.000" stop-color="#114f98"/></linearGradient><linearGradient id="rb18"><stop offset="0.000" stop-color="#0a3269"/><stop offset="0.022" stop-color="#0a346d"/><stop offset="0.045" stop-color="#0a3771"/><stop offset="0.067" stop-color="#0b3b78"/><stop offset="0.089" stop-color="#0c4284"/><stop offset="0.112" stop-color="#104e97"/><stop offset="0.134" stop-color="#195da7"/><stop offset="0.156" stop-color="#2971b6"/><stop offset="0.178" stop-color="#488dc8"/><stop offset="0.201" stop-color="#73acd7"/><stop offset="0.223" stop-color="#9fc7e4"/><stop offset="0.245" stop-color="#c2daed"/><stop offset="0.268" stop-color="#eaedf1"/><stop offset="0.290" stop-color="#fcd7c5"/><stop offset="0.312" stop-color="#f99b7a"/><stop offset="0.335" stop-color="#f57651"/><stop offset="0.357" stop-color="#f05c3b"/><stop offset="0.379" stop-color="#e94731"/><stop offset="0.402" stop-color="#de3127"/><stop offset="0.424" stop-color="#d12221"/><stop offset="0.446" stop-color="#b5151e"/><stop offset="0.469" stop-color="#a2111d"/><stop offset="0.491" stop-color="#960e1b"/><stop offset="0.513" stop-color="#8e0c1a"/><stop offset="0.535" stop-color="#8e0c1a"/><stop offset="0.558" stop-color="#950e1b"/><stop offset="0.580" stop-color="#b8161e"/><stop offset="0.602" stop-color="#cd2021"/><stop offset="0.625" stop-color="#dc2f26"/><stop offset="0.647" stop-color="#e8452f"/><stop offset="0.669" stop-color="#f16341"/><stop offset="0.692" stop-color="#f67c56"/><stop offset="0.714" stop-color="#f89573"/><stop offset="0.736" stop-color="#fab296"/><stop offset="0.759" stop-color="#fcd2bf"/><stop offset="0.781" stop-color="#f2edeb"/><stop offset="0.803" stop-color="#dce7f2"/><stop offset="0.826" stop-color="#d3e3f1"/><stop offset="0.848" stop-color="#b7d4ea"/><stop offset="0.870" stop-color="#93c0e1"/><stop offset="0.892" stop-color="#6da8d5"/><stop offset="0.915" stop-color="#4c90c9"/><stop offset="0.937" stop-color="#337bbd"/><stop offset="0.959" stop-color="#2169b1"/><stop offset="0.982" stop-color="#185ba6"/><stop offset="1.000" stop-color="#12529e"/></linearGradient><linearGradient id="rb19"><stop offset="0.000" stop-color="#0a346c"/><stop offset="0.022" stop-color="#0a3670"/><stop offset="0.045" stop-color="#0a3874"/><stop offset="0.067" stop-color="#0b3c7a"/><stop offset="0.089" stop-color="#0c4285"/><stop offset="0.112" stop-color="#104d96"/><stop offset="0.134" stop-color="#185ba6"/><stop offset="0.156" stop-color="#266eb4"/><stop offset="0.178" stop-color="#4288c5"/><stop offset="0.201" stop-color="#6ba6d4"/><stop offset="0.223" stop-color="#98c3e2"/><stop offset="0.245" stop-color="#bcd7eb"/><stop offset="0.268" stop-color="#e4ebf4"/><stop offset="0.290" stop-color="#f9e4d9"/><stop offset="0.312" stop-color="#faaa8d"/><stop offset="0.335" stop-color="#f67f59"/><stop offset="0.357" stop-color="#f26442"/><stop offset="0.379" stop-color="#ec4f34"/><stop offset="0.402" stop-color="#e33829"/><stop offset="0.424" stop-color="#d62723"/><stop offset="0.446" stop-color="#c0181e"/><stop offset="0.469" stop-color="#aa131e"/><stop offset="0.491" stop-color="#9c0f1c"/><stop offset="0.513" stop-color="#940e1b"/><stop offset="0.535" stop-color="#890c1a"/><stop offset="0.558" stop-color="#870b1a"/><stop offset="0.580" stop-color="#b4151e"/><stop offset="0.602" stop-color="#cc1f20"/><stop offset="0.625" stop-color="#db2e26"/><stop offset="0.647" stop-color="#e7412e"/><stop offset="0.669" stop-color="#f15e3e"/><stop offset="0.692" stop-color="#f57954"/><stop offset="0.714" stop-color="#f8916f"/><stop offset="0.736" stop-color="#faab8e"/><stop offset="0.759" stop-color="#fbcbb7"/><stop offset="0.781" stop-color="#f6ebe7"/><stop offset="0.803" stop-color="#e0e9f3"/><stop offset="0.826" stop-color="#d7e5f1"/><stop offset="0.848" stop-color="#bfd9ec"/><stop offset="0.870" stop-color="#9ec6e3"/><stop offset="0.892" stop-color="#78b0d9"/><stop offset="0.915" stop-color="#5698cd"/><stop offset="0.937" stop-color="#3a82c2"/><stop offset="0.959" stop-color="#2870b6"/><stop offset="0.982" stop-color="#1b60aa"/><stop offset="1.000" stop-color="#1557a3"/></linearGradient><linearGradient id="rb20"><stop offset="0.000" stop-color="#0a366f"/><stop offset="0.022" stop-color="#0a3873"/><stop offset="0.045" stop-color="#0b3a77"/><stop offset="0.067" stop-color="#0b3d7c"/><stop offset="0.089" stop-color="#0c4387"/><stop offset="0.112" stop-color="#104d95"/><stop offset="0.134" stop-color="#1659a4"/><stop offset="0.156" stop-color="#236bb2"/><stop offset="0.178" stop-color="#3d84c3"/><stop offset="0.201" stop-color="#63a1d2"/><stop offset="0.223" stop-color="#90bee0"/><stop offset="0.245" stop-color="#b6d3ea"/><stop offset="0.268" stop-color="#dae7f2"/><stop offset="0.290" stop-color="#f5ece9"/><stop offset="0.312" stop-color="#fbb99f"/><stop offset="0.335" stop-color="#f78864"/><stop offset="0.357" stop-color="#f36c49"/><stop offset="0.379" stop-color="#ef5738"/><stop offset="0.402" stop-color="#e6402d"/><stop offset="0.424" stop-color="#db2e25"/><stop offset="0.446" stop-color="#c91d20"/><stop offset="0.469" stop-color="#b2141e"/><stop offset="0.491" stop-color="#a2111d"/><stop offset="0.513" stop-color="#9a0f1c"/><stop offset="0.535" stop-color="#890c1a"/><stop offset="0.558" stop-color="#840b19"/><stop offset="0.580" stop-color="#b3151e"/><stop offset="0.602" stop-color="#ca1e20"/><stop offset="0.625" stop-color="#da2c25"/><stop offset="0.647" stop-color="#e63f2c"/><stop offset="0.669" stop-color="#f05a3a"/><stop offset="0.692" stop-color="#f57652"/><stop offset="0.714" stop-color="#f78e6a"/><stop offset="0.736" stop-color="#f9a788"/><stop offset="0.759" stop-color="#fbc6af"/><stop offset="0.781" stop-color="#f9e5dc"/><stop offset="0.803" stop-color="#e8ecf3"/><stop offset="0.826" stop-color="#d9e6f2"/><stop offset="0.848" stop-color="#c7ddee"/><stop offset="0.870" stop-color="#a9cce6"/><stop offset="0.892" stop-color="#84b7dd"/><stop offset="0.915" stop-color="#5f9fd0"/><stop offset="0.937" stop-color="#4389c5"/><stop offset="0.959" stop-color="#2f77ba"/><stop offset="0.982" stop-color="#1e66ae"/><stop offset="1.000" stop-color="#185ca6"/></linearGradient><linearGradient id="rb21"><stop offset="0.000" stop-color="#0a3874"/><stop offset="0.022" stop-color="#0b3b78"/><stop offset="0.045" stop-color="#0b3d7c"/><stop offset="0.067" stop-color="#0b4082"/><stop offset="0.089" stop-color="#0d478d"/><stop offset="0.112" stop-color="#12529d"/><stop offset="0.134" stop-color="#1a5fa9"/><stop offset="0.156" stop-color="#2b73b7"/><stop offset="0.178" stop-color="#488dc7"/><stop offset="0.201" stop-color="#70aad6"/><stop offset="0.223" stop-color="#9cc5e3"/><stop offset="0.245" stop-color="#bed8eb"/><stop offset="0.268" stop-color="#e4ebf4"/><stop offset="0.290" stop-color="#f9e5db"/><stop offset="0.312" stop-color="#faae92"/><stop offset="0.335" stop-color="#f78460"/><stop offset="0.357" stop-color="#f36a47"/><stop offset="0.379" stop-color="#ee5538"/><stop offset="0.402" stop-color="#e63e2c"/><stop offset="0.424" stop-color="#da2c25"/><stop offset="0.446" stop-color="#c61b1f"/><stop offset="0.469" stop-color="#b2141e"/><stop offset="0.491" stop-color="#a5111e"/><stop offset="0.513" stop-color="#9e101d"/><stop offset="0.535" stop-color="#950e1b"/><stop offset="0.558" stop-color="#940e1b"/><stop offset="0.580" stop-color="#bb171e"/><stop offset="0.602" stop-color="#d12221"/><stop offset="0.625" stop-color="#df3227"/><stop offset="0.647" stop-color="#e94831"/><stop offset="0.669" stop-color="#f26442"/><stop offset="0.692" stop-color="#f67e58"/><stop offset="0.714" stop-color="#f89674"/><stop offset="0.736" stop-color="#faae92"/><stop offset="0.759" stop-color="#fbcdb9"/><stop offset="0.781" stop-color="#f6ece7"/><stop offset="0.803" stop-color="#e1eaf3"/><stop offset="0.826" stop-color="#d8e6f1"/><stop offset="0.848" stop-color="#c2daec"/><stop offset="0.870" stop-color="#a2c8e5"/><stop offset="0.892" stop-color="#7eb3db"/><stop offset="0.915" stop-color="#5b9ccf"/><stop offset="0.937" stop-color="#4087c4"/><stop offset="0.959" stop-color="#2d75b9"/><stop offset="0.982" stop-color="#1e65ad"/><stop offset="1.000" stop-color="#185ca6"/></linearGradient><linearGradient id="rb22"><stop offset="0.000" stop-color="#0b3b79"/><stop offset="0.022" stop-color="#0b3e7d"/><stop offset="0.045" stop-color="#0b4081"/><stop offset="0.067" stop-color="#0c4488"/><stop offset="0.089" stop-color="#0f4b93"/><stop offset="0.112" stop-color="#1557a2"/><stop offset="0.134" stop-color="#1e65ae"/><stop offset="0.156" stop-color="#327abd"/><stop offset="0.178" stop-color="#5396cc"/><stop offset="0.201" stop-color="#7cb2da"/><stop offset="0.223" stop-color="#a6cbe6"/><stop offset="0.245" stop-color="#c6dced"/><stop offset="0.268" stop-color="#eaedf1"/><stop offset="0.290" stop-color="#fcdccc"/><stop offset="0.312" stop-color="#f9a485"/><stop offset="0.335" stop-color="#f6815c"/><stop offset="0.357" stop-color="#f26846"/><stop offset="0.379" stop-color="#ee5437"/><stop offset="0.402" stop-color="#e53c2b"/><stop offset="0.424" stop-color="#d92c25"/><stop offset="0.446" stop-color="#c31a1f"/><stop offset="0.469" stop-color="#b2141e"/><stop offset="0.491" stop-color="#a9121e"/><stop offset="0.513" stop-color="#a2111d"/><stop offset="0.535" stop-color="#a4111d"/><stop offset="0.558" stop-color="#aa131e"/><stop offset="0.580" stop-color="#c41b1f"/><stop offset="0.602" stop-color="#d62723"/><stop offset="0.625" stop-color="#e3392a"/><stop offset="0.647" stop-color="#ec5135"/><stop offset="0.669" stop-color="#f36e4b"/><stop offset="0.692" stop-color="#f78661"/><stop offset="0.714" stop-color="#f99d7d"/><stop offset="0.736" stop-color="#fab79d"/><stop offset="0.759" stop-color="#fcd5c2"/><stop offset="0.781" stop-color="#f2edeb"/><stop offset="0.803" stop-color="#dde8f2"/><stop offset="0.826" stop-color="#d6e5f1"/><stop offset="0.848" stop-color="#bdd7eb"/><stop offset="0.870" stop-color="#9cc5e3"/><stop offset="0.892" stop-color="#78b0d9"/><stop offset="0.915" stop-color="#5899ce"/><stop offset="0.937" stop-color="#3e85c4"/><stop offset="0.959" stop-color="#2c74b8"/><stop offset="0.982" stop-color="#1e64ad"/><stop offset="1.000" stop-color="#185ca6"/></linearGradient><linearGradient id="rb23"><stop offset="0.000" stop-color="#0b3e7e"/><stop offset="0.022" stop-color="#0c4182"/><stop offset="0.045" stop-color="#0c4387"/><stop offset="0.067" stop-color="#0e488f"/><stop offset="0.089" stop-color="#11509a"/><stop offset="0.112" stop-color="#185ca6"/><stop offset="0.134" stop-color="#246cb3"/><stop offset="0.156" stop-color="#3a82c2"/><stop offset="0.178" stop-color="#5e9ed0"/><stop offset="0.201" stop-color="#88bade"/><stop offset="0.223" stop-color="#b0d0e8"/><stop offset="0.245" stop-color="#cde0ef"/><stop offset="0.268" stop-color="#eeeeee"/><stop offset="0.290" stop-color="#fbceb9"/><stop offset="0.312" stop-color="#f89a79"/><stop offset="0.335" stop-color="#f67e58"/><stop offset="0.357" stop-color="#f26745"/><stop offset="0.379" stop-color="#ed5236"/><stop offset="0.402" stop-color="#e43a2a"/><stop offset="0.424" stop-color="#d82924"/><stop offset="0.446" stop-color="#c1191e"/><stop offset="0.469" stop-color="#b2141e"/><stop offset="0.491" stop-color="#ac131e"/><stop offset="0.513" stop-color="#a9121e"/><stop offset="0.535" stop-color="#b0141e"/><stop offset="0.558" stop-color="#ba171e"/><stop offset="0.580" stop-color="#cc1f20"/><stop offset="0.602" stop-color="#db2e26"/><stop offset="0.625" stop-color="#e7412d"/><stop offset="0.647" stop-color="#f05a3a"/><stop offset="0.669" stop-color="#f57752"/><stop offset="0.692" stop-color="#f78d6a"/><stop offset="0.714" stop-color="#f9a586"/><stop offset="0.736" stop-color="#fbc0a8"/><stop offset="0.759" stop-color="#fbddce"/><stop offset="0.781" stop-color="#eeeeee"/><stop offset="0.803" stop-color="#dce8f2"/><stop offset="0.826" stop-color="#d2e3f0"/><stop offset="0.848" stop-color="#b8d4ea"/><stop offset="0.870" stop-color="#96c2e2"/><stop offset="0.892" stop-color="#73acd7"/><stop offset="0.915" stop-color="#5597cc"/><stop offset="0.937" stop-color="#3c84c3"/><stop offset="0.959" stop-color="#2b73b7"/><stop offset="0.982" stop-color="#1e64ad"/><stop offset="1.000" stop-color="#195da7"/></linearGradient><linearGradient id="rb24"><stop offset="0.000" stop-color="#0c4183"/><stop offset="0.022" stop-color="#0c4487"/><stop offset="0.045" stop-color="#0d468c"/><stop offset="0.067" stop-color="#104c95"/><stop offset="0.089" stop-color="#1455a1"/><stop offset="0.112" stop-color="#1b61aa"/><stop offset="0.134" stop-color="#2b73b8"/><stop offset="0.156" stop-color="#458bc6"/><stop offset="0.178" stop-color="#69a5d4"/><stop offset="0.201" stop-color="#93c0e1"/><stop offset="0.223" stop-color="#b7d4ea"/><stop offset="0.245" stop-color="#d7e5f1"/><stop offset="0.268" stop-color="#f2edeb"/><stop offset="0.290" stop-color="#fbc5ae"/><stop offset="0.312" stop-color="#f89573"/><stop offset="0.335" stop-color="#f67b56"/><stop offset="0.357" stop-color="#f26644"/><stop offset="0.379" stop-color="#ec5035"/><stop offset="0.402" stop-color="#e43a2a"/><stop offset="0.424" stop-color="#d62623"/><stop offset="0.446" stop-color="#c2191e"/><stop offset="0.469" stop-color="#b3151e"/><stop offset="0.491" stop-color="#af141e"/><stop offset="0.513" stop-color="#af141e"/><stop offset="0.535" stop-color="#b8161e"/><stop offset="0.558" stop-color="#c41a1f"/><stop offset="0.580" stop-color="#d32322"/><stop offset="0.602" stop-color="#e03428"/><stop offset="0.625" stop-color="#ea4932"/><stop offset="0.647" stop-color="#f16341"/><stop offset="0.669" stop-color="#f67f59"/><stop offset="0.692" stop-color="#f89472"/><stop offset="0.714" stop-color="#faab8e"/><stop offset="0.736" stop-color="#fbc7b1"/><stop offset="0.759" stop-color="#f9e3d9"/><stop offset="0.781" stop-color="#eaedf1"/><stop offset="0.803" stop-color="#dbe7f2"/><stop offset="0.826" stop-color="#cee1f0"/><stop offset="0.848" stop-color="#b3d2e9"/><stop offset="0.870" stop-color="#91bfe0"/><stop offset="0.892" stop-color="#6fa9d6"/><stop offset="0.915" stop-color="#5295cb"/><stop offset="0.937" stop-color="#3b83c2"/><stop offset="0.959" stop-color="#2a72b7"/><stop offset="0.982" stop-color="#1e64ad"/><stop offset="1.000" stop-color="#1a5fa8"/></linearGradient><linearGradient id="rb25"><stop offset="0.000" stop-color="#0c4488"/><stop offset="0.022" stop-color="#0d478c"/><stop offset="0.045" stop-color="#0e4a90"/><stop offset="0.067" stop-color="#11509b"/><stop offset="0.089" stop-color="#175aa5"/><stop offset="0.112" stop-color="#1f66ae"/><stop offset="0.134" stop-color="#327abc"/><stop offset="0.156" stop-color="#4f92ca"/><stop offset="0.178" stop-color="#75add8"/><stop offset="0.201" stop-color="#9ec6e4"/><stop offset="0.223" stop-color="#bed8ec"/><stop offset="0.245" stop-color="#dfe9f3"/><stop offset="0.268" stop-color="#f6ece7"/><stop offset="0.290" stop-color="#fbbda4"/><stop offset="0.312" stop-color="#f89270"/><stop offset="0.335" stop-color="#f57954"/><stop offset="0.357" stop-color="#f26543"/><stop offset="0.379" stop-color="#ec4f34"/><stop offset="0.402" stop-color="#e3392a"/><stop offset="0.424" stop-color="#d42422"/><stop offset="0.446" stop-color="#c2191e"/><stop offset="0.469" stop-color="#b6151e"/><stop offset="0.491" stop-color="#b2141e"/><stop offset="0.513" stop-color="#b5151e"/><stop offset="0.535" stop-color="#be171e"/><stop offset="0.558" stop-color="#ca1e20"/><stop offset="0.580" stop-color="#d82924"/><stop offset="0.602" stop-color="#e43a2a"/><stop offset="0.625" stop-color="#ed5136"/><stop offset="0.647" stop-color="#f36c49"/><stop offset="0.669" stop-color="#f78661"/><stop offset="0.692" stop-color="#f99b7a"/><stop offset="0.714" stop-color="#fab196"/><stop offset="0.736" stop-color="#fbceb9"/><stop offset="0.759" stop-color="#f7e9e2"/><stop offset="0.781" stop-color="#e7ecf3"/><stop offset="0.803" stop-color="#dbe7f2"/><stop offset="0.826" stop-color="#cadeee"/><stop offset="0.848" stop-color="#afcfe8"/><stop offset="0.870" stop-color="#8dbddf"/><stop offset="0.892" stop-color="#6ca7d5"/><stop offset="0.915" stop-color="#5093cb"/><stop offset="0.937" stop-color="#3a82c2"/><stop offset="0.959" stop-color="#2971b6"/><stop offset="0.982" stop-color="#1e65ad"/><stop offset="1.000" stop-color="#1b60aa"/></linearGradient><linearGradient id="rb26"><stop offset="0.000" stop-color="#0e478d"/><stop offset="0.022" stop-color="#0f4a91"/><stop offset="0.045" stop-color="#104e96"/><stop offset="0.067" stop-color="#1354a0"/><stop offset="0.089" stop-color="#1a5ea8"/><stop offset="0.112" stop-color="#246cb3"/><stop offset="0.134" stop-color="#3880c1"/><stop offset="0.156" stop-color="#589ace"/><stop offset="0.178" stop-color="#7fb4db"/><stop offset="0.201" stop-color="#a7cbe6"/><stop offset="0.223" stop-color="#c5dced"/><stop offset="0.245" stop-color="#e6ecf4"/><stop offset="0.268" stop-color="#f9e5dc"/><stop offset="0.290" stop-color="#fab59a"/><stop offset="0.312" stop-color="#f8906d"/><stop offset="0.335" stop-color="#f57853"/><stop offset="0.357" stop-color="#f26443"/><stop offset="0.379" stop-color="#ec4e34"/><stop offset="0.402" stop-color="#e3392a"/><stop offset="0.424" stop-color="#d22322"/><stop offset="0.446" stop-color="#c2191e"/><stop offset="0.469" stop-color="#b9161e"/><stop offset="0.491" stop-color="#b5151e"/><stop offset="0.513" stop-color="#ba171e"/><stop offset="0.535" stop-color="#c31a1f"/><stop offset="0.558" stop-color="#d02121"/><stop offset="0.580" stop-color="#dc2f26"/><stop offset="0.602" stop-color="#e7422e"/><stop offset="0.625" stop-color="#f05939"/><stop offset="0.647" stop-color="#f47550"/><stop offset="0.669" stop-color="#f78c69"/><stop offset="0.692" stop-color="#f9a282"/><stop offset="0.714" stop-color="#fab89e"/><stop offset="0.736" stop-color="#fcd3c1"/><stop offset="0.759" stop-color="#f5ece9"/><stop offset="0.781" stop-color="#e1eaf3"/><stop offset="0.803" stop-color="#dae7f2"/><stop offset="0.826" stop-color="#c6dcee"/><stop offset="0.848" stop-color="#abcde7"/><stop offset="0.870" stop-color="#89bbde"/><stop offset="0.892" stop-color="#69a6d4"/><stop offset="0.915" stop-color="#4f93ca"/><stop offset="0.937" stop-color="#3981c2"/><stop offset="0.959" stop-color="#2971b6"/><stop offset="0.982" stop-color="#1e65ae"/><stop offset="1.000" stop-color="#1c61ab"/></linearGradient><linearGradient id="rb27"><stop offset="0.000" stop-color="#0f4b92"/><stop offset="0.022" stop-color="#104d96"/><stop offset="0.045" stop-color="#12519c"/><stop offset="0.067" stop-color="#1658a3"/><stop offset="0.089" stop-color="#1c63ac"/><stop offset="0.112" stop-color="#2a72b7"/><stop offset="0.134" stop-color="#4086c4"/><stop offset="0.156" stop-color="#61a0d1"/><stop offset="0.178" stop-color="#88bade"/><stop offset="0.201" stop-color="#afcfe8"/><stop offset="0.223" stop-color="#cadfee"/><stop offset="0.245" stop-color="#e9edf1"/><stop offset="0.268" stop-color="#fbe0d2"/><stop offset="0.290" stop-color="#faaf93"/><stop offset="0.312" stop-color="#f88f6c"/><stop offset="0.335" stop-color="#f57853"/><stop offset="0.357" stop-color="#f26543"/><stop offset="0.379" stop-color="#ec4e34"/><stop offset="0.402" stop-color="#e3392a"/><stop offset="0.424" stop-color="#d12221"/><stop offset="0.446" stop-color="#c41a1f"/><stop offset="0.469" stop-color="#bc171e"/><stop offset="0.491" stop-color="#b8161e"/><stop offset="0.513" stop-color="#c0181e"/><stop offset="0.535" stop-color="#c81d20"/><stop offset="0.558" stop-color="#d42422"/><stop offset="0.580" stop-color="#e03428"/><stop offset="0.602" stop-color="#ea4931"/><stop offset="0.625" stop-color="#f1603f"/><stop offset="0.647" stop-color="#f67c56"/><stop offset="0.669" stop-color="#f89270"/><stop offset="0.692" stop-color="#f9a789"/><stop offset="0.714" stop-color="#fbbea6"/><stop offset="0.736" stop-color="#fcd8c7"/><stop offset="0.759" stop-color="#f3edeb"/><stop offset="0.781" stop-color="#e0e9f3"/><stop offset="0.803" stop-color="#d9e6f2"/><stop offset="0.826" stop-color="#c3dbed"/><stop offset="0.848" stop-color="#a7cbe6"/><stop offset="0.870" stop-color="#87b9de"/><stop offset="0.892" stop-color="#68a5d3"/><stop offset="0.915" stop-color="#4f92ca"/><stop offset="0.937" stop-color="#3981c2"/><stop offset="0.959" stop-color="#2a72b7"/><stop offset="0.982" stop-color="#1f67af"/><stop offset="1.000" stop-color="#1d63ac"/></linearGradient><linearGradient id="rb28"><stop offset="0.000" stop-color="#0f4b93"/><stop offset="0.022" stop-color="#104e97"/><stop offset="0.045" stop-color="#12529e"/><stop offset="0.067" stop-color="#1659a4"/><stop offset="0.089" stop-color="#1e64ad"/><stop offset="0.112" stop-color="#2d75b9"/><stop offset="0.134" stop-color="#448ac6"/><stop offset="0.156" stop-color="#66a3d3"/><stop offset="0.178" stop-color="#8dbddf"/><stop offset="0.201" stop-color="#b2d1e9"/><stop offset="0.223" stop-color="#cde0ef"/><stop offset="0.245" stop-color="#ecedf0"/><stop offset="0.268" stop-color="#fcdbca"/><stop offset="0.290" stop-color="#faaa8c"/><stop offset="0.312" stop-color="#f78d69"/><stop offset="0.335" stop-color="#f57652"/><stop offset="0.357" stop-color="#f26342"/><stop offset="0.379" stop-color="#eb4c33"/><stop offset="0.402" stop-color="#e23829"/><stop offset="0.424" stop-color="#cf2121"/><stop offset="0.446" stop-color="#c31a1f"/><stop offset="0.469" stop-color="#bc171e"/><stop offset="0.491" stop-color="#b9161e"/><stop offset="0.513" stop-color="#c1191e"/><stop offset="0.535" stop-color="#ca1e20"/><stop offset="0.558" stop-color="#d62723"/><stop offset="0.580" stop-color="#e23729"/><stop offset="0.602" stop-color="#eb4c33"/><stop offset="0.625" stop-color="#f26442"/><stop offset="0.647" stop-color="#f6805a"/><stop offset="0.669" stop-color="#f89573"/><stop offset="0.692" stop-color="#faaa8c"/><stop offset="0.714" stop-color="#fbc2aa"/><stop offset="0.736" stop-color="#fcdccc"/><stop offset="0.759" stop-color="#f0edec"/><stop offset="0.781" stop-color="#dfe9f3"/><stop offset="0.803" stop-color="#d7e5f1"/><stop offset="0.826" stop-color="#c1d9ec"/><stop offset="0.848" stop-color="#a4c9e5"/><stop offset="0.870" stop-color="#84b7dd"/><stop offset="0.892" stop-color="#65a3d2"/><stop offset="0.915" stop-color="#4d91c9"/><stop offset="0.937" stop-color="#3880c1"/><stop offset="0.959" stop-color="#2971b6"/><stop offset="0.982" stop-color="#1f67af"/><stop offset="1.000" stop-color="#1d63ac"/></linearGradient><linearGradient id="rb29"><stop offset="0.000" stop-color="#0f4b93"/><stop offset="0.022" stop-color="#104e97"/><stop offset="0.045" stop-color="#12529d"/><stop offset="0.067" stop-color="#1659a4"/><stop offset="0.089" stop-color="#1d64ad"/><stop offset="0.112" stop-color="#2c74b9"/><stop offset="0.134" stop-color="#4389c6"/><stop offset="0.156" stop-color="#65a3d2"/><stop offset="0.178" stop-color="#8cbcdf"/><stop offset="0.201" stop-color="#b2d1e8"/><stop offset="0.223" stop-color="#cde0ef"/><stop offset="0.245" stop-color="#ebedf0"/><stop offset="0.268" stop-color="#fcdccc"/><stop offset="0.290" stop-color="#faab8e"/><stop offset="0.312" stop-color="#f78d6a"/><stop offset="0.335" stop-color="#f57752"/><stop offset="0.357" stop-color="#f26442"/><stop offset="0.379" stop-color="#eb4d33"/><stop offset="0.402" stop-color="#e33829"/><stop offset="0.424" stop-color="#d02121"/><stop offset="0.446" stop-color="#c31a1f"/><stop offset="0.469" stop-color="#bc171e"/><stop offset="0.491" stop-color="#b8161e"/><stop offset="0.513" stop-color="#c1191e"/><stop offset="0.535" stop-color="#ca1e20"/><stop offset="0.558" stop-color="#d62623"/><stop offset="0.580" stop-color="#e13629"/><stop offset="0.602" stop-color="#eb4c33"/><stop offset="0.625" stop-color="#f26342"/><stop offset="0.647" stop-color="#f67f59"/><stop offset="0.669" stop-color="#f89472"/><stop offset="0.692" stop-color="#faa98c"/><stop offset="0.714" stop-color="#fbc1aa"/><stop offset="0.736" stop-color="#fcdbcb"/><stop offset="0.759" stop-color="#f1edec"/><stop offset="0.781" stop-color="#dfe9f3"/><stop offset="0.803" stop-color="#d7e5f1"/><stop offset="0.826" stop-color="#c1daec"/><stop offset="0.848" stop-color="#a5cae5"/><stop offset="0.870" stop-color="#84b8dd"/><stop offset="0.892" stop-color="#66a3d3"/><stop offset="0.915" stop-color="#4e91ca"/><stop offset="0.937" stop-color="#3880c1"/><stop offset="0.959" stop-color="#2971b6"/><stop offset="0.982" stop-color="#1f67af"/><stop offset="1.000" stop-color="#1d63ac"/></linearGradient><linearGradient id="rb30"><stop offset="0.000" stop-color="#0f4b93"/><stop offset="0.022" stop-color="#104e97"/><stop offset="0.045" stop-color="#12529d"/><stop offset="0.067" stop-color="#1659a4"/><stop offset="0.089" stop-color="#1d64ad"/><stop offset="0.112" stop-color="#2c74b8"/><stop offset="0.134" stop-color="#4288c5"/><stop offset="0.156" stop-color="#64a2d2"/><stop offset="0.178" stop-color="#8bbcdf"/><stop offset="0.201" stop-color="#b1d1e8"/><stop offset="0.223" stop-color="#cce0ef"/><stop offset="0.245" stop-color="#ebedf1"/><stop offset="0.268" stop-color="#fcddce"/><stop offset="0.290" stop-color="#faac90"/><stop offset="0.312" stop-color="#f78e6b"/><stop offset="0.335" stop-color="#f57753"/><stop offset="0.357" stop-color="#f26442"/><stop offset="0.379" stop-color="#eb4d34"/><stop offset="0.402" stop-color="#e33929"/><stop offset="0.424" stop-color="#d02221"/><stop offset="0.446" stop-color="#c31a1f"/><stop offset="0.469" stop-color="#bc171e"/><stop offset="0.491" stop-color="#b8161e"/><stop offset="0.513" stop-color="#c1181e"/><stop offset="0.535" stop-color="#ca1e20"/><stop offset="0.558" stop-color="#d52623"/><stop offset="0.580" stop-color="#e13628"/><stop offset="0.602" stop-color="#ea4b33"/><stop offset="0.625" stop-color="#f16241"/><stop offset="0.647" stop-color="#f67e58"/><stop offset="0.669" stop-color="#f89472"/><stop offset="0.692" stop-color="#faa98b"/><stop offset="0.714" stop-color="#fbc1a9"/><stop offset="0.736" stop-color="#fcdaca"/><stop offset="0.759" stop-color="#f1edec"/><stop offset="0.781" stop-color="#dfe9f3"/><stop offset="0.803" stop-color="#d8e6f1"/><stop offset="0.826" stop-color="#c2daec"/><stop offset="0.848" stop-color="#a5cae5"/><stop offset="0.870" stop-color="#85b8dd"/><stop offset="0.892" stop-color="#67a4d3"/><stop offset="0.915" stop-color="#4e92ca"/><stop offset="0.937" stop-color="#3981c1"/><stop offset="0.959" stop-color="#2971b7"/><stop offset="0.982" stop-color="#1f67af"/><stop offset="1.000" stop-color="#1d63ac"/></linearGradient><linearGradient id="rb31"><stop offset="0.000" stop-color="#0f4b93"/><stop offset="0.022" stop-color="#104e97"/><stop offset="0.045" stop-color="#12529d"/><stop offset="0.067" stop-color="#1659a4"/><stop offset="0.089" stop-color="#1d63ac"/><stop offset="0.112" stop-color="#2b73b8"/><stop offset="0.134" stop-color="#4288c5"/><stop offset="0.156" stop-color="#63a1d2"/><stop offset="0.178" stop-color="#8abbdf"/><stop offset="0.201" stop-color="#b0d0e8"/><stop offset="0.223" stop-color="#cbdfef"/><stop offset="0.245" stop-color="#eaedf1"/><stop offset="0.268" stop-color="#fbdecf"/><stop offset="0.290" stop-color="#faae91"/><stop offset="0.312" stop-color="#f78e6b"/><stop offset="0.335" stop-color="#f57853"/><stop offset="0.357" stop-color="#f26543"/><stop offset="0.379" stop-color="#eb4e34"/><stop offset="0.402" stop-color="#e3392a"/><stop offset="0.424" stop-color="#d12221"/><stop offset="0.446" stop-color="#c31a1f"/><stop offset="0.469" stop-color="#bc171e"/><stop offset="0.491" stop-color="#b9161e"/><stop offset="0.513" stop-color="#c1181e"/><stop offset="0.535" stop-color="#c91e20"/><stop offset="0.558" stop-color="#d52623"/><stop offset="0.580" stop-color="#e13528"/><stop offset="0.602" stop-color="#ea4b32"/><stop offset="0.625" stop-color="#f16240"/><stop offset="0.647" stop-color="#f67e58"/><stop offset="0.669" stop-color="#f89371"/><stop offset="0.692" stop-color="#faa88a"/><stop offset="0.714" stop-color="#fbc0a8"/><stop offset="0.736" stop-color="#fcdac9"/><stop offset="0.759" stop-color="#f2edeb"/><stop offset="0.781" stop-color="#dfe9f3"/><stop offset="0.803" stop-color="#d8e6f1"/><stop offset="0.826" stop-color="#c2daed"/><stop offset="0.848" stop-color="#a6cbe6"/><stop offset="0.870" stop-color="#86b9dd"/><stop offset="0.892" stop-color="#67a4d3"/><stop offset="0.915" stop-color="#4f92ca"/><stop offset="0.937" stop-color="#3981c1"/><stop offset="0.959" stop-color="#2a72b7"/><stop offset="0.982" stop-color="#1f67af"/><stop offset="1.000" stop-color="#1d63ac"/></linearGradient><linearGradient id="rb32"><stop offset="0.000" stop-color="#0f4b93"/><stop offset="0.022" stop-color="#104e97"/><stop offset="0.045" stop-color="#12529d"/><stop offset="0.067" stop-color="#1659a4"/><stop offset="0.089" stop-color="#1d63ac"/><stop offset="0.112" stop-color="#2b73b7"/><stop offset="0.134" stop-color="#4187c5"/><stop offset="0.156" stop-color="#62a1d1"/><stop offset="0.178" stop-color="#89bbde"/><stop offset="0.201" stop-color="#b0d0e8"/><stop offset="0.223" stop-color="#cbdfef"/><stop offset="0.245" stop-color="#eaedf1"/><stop offset="0.268" stop-color="#fbdfd1"/><stop offset="0.290" stop-color="#faaf93"/><stop offset="0.312" stop-color="#f88f6c"/><stop offset="0.335" stop-color="#f57853"/><stop offset="0.357" stop-color="#f26543"/><stop offset="0.379" stop-color="#ec4e34"/><stop offset="0.402" stop-color="#e4392a"/><stop offset="0.424" stop-color="#d12221"/><stop offset="0.446" stop-color="#c41a1f"/><stop offset="0.469" stop-color="#bc171e"/><stop offset="0.491" stop-color="#b9161e"/><stop offset="0.513" stop-color="#c0181e"/><stop offset="0.535" stop-color="#c91d20"/><stop offset="0.558" stop-color="#d52522"/><stop offset="0.580" stop-color="#e03528"/><stop offset="0.602" stop-color="#ea4a32"/><stop offset="0.625" stop-color="#f16140"/><stop offset="0.647" stop-color="#f67d57"/><stop offset="0.669" stop-color="#f89370"/><stop offset="0.692" stop-color="#f9a88a"/><stop offset="0.714" stop-color="#fbbfa7"/><stop offset="0.736" stop-color="#fcd9c8"/><stop offset="0.759" stop-color="#f2edeb"/><stop offset="0.781" stop-color="#e0e9f3"/><stop offset="0.803" stop-color="#d9e6f2"/><stop offset="0.826" stop-color="#c3dbed"/><stop offset="0.848" stop-color="#a7cbe6"/><stop offset="0.870" stop-color="#87b9de"/><stop offset="0.892" stop-color="#68a5d3"/><stop offset="0.915" stop-color="#4f93ca"/><stop offset="0.937" stop-color="#3a82c2"/><stop offset="0.959" stop-color="#2a72b7"/><stop offset="0.982" stop-color="#1f67af"/><stop offset="1.000" stop-color="#1d63ac"/></linearGradient><linearGradient id="rb33"><stop offset="0.000" stop-color="#0f4b93"/><stop offset="0.022" stop-color="#104e96"/><stop offset="0.045" stop-color="#12529c"/><stop offset="0.067" stop-color="#1658a3"/><stop offset="0.089" stop-color="#1d63ac"/><stop offset="0.112" stop-color="#2a72b7"/><stop offset="0.134" stop-color="#4087c4"/><stop offset="0.156" stop-color="#61a0d1"/><stop offset="0.178" stop-color="#88bade"/><stop offset="0.201" stop-color="#afcfe8"/><stop offset="0.223" stop-color="#cadfee"/><stop offset="0.245" stop-color="#e9edf2"/><stop offset="0.268" stop-color="#fbe0d3"/><stop offset="0.290" stop-color="#fab094"/><stop offset="0.312" stop-color="#f8906d"/><stop offset="0.335" stop-color="#f57954"/><stop offset="0.357" stop-color="#f26644"/><stop offset="0.379" stop-color="#ec4f34"/><stop offset="0.402" stop-color="#e43a2a"/><stop offset="0.424" stop-color="#d22322"/><stop offset="0.446" stop-color="#c41a1f"/><stop offset="0.469" stop-color="#bd171e"/><stop offset="0.491" stop-color="#b9161e"/><stop offset="0.513" stop-color="#c0181e"/><stop offset="0.535" stop-color="#c91d20"/><stop offset="0.558" stop-color="#d52522"/><stop offset="0.580" stop-color="#e03528"/><stop offset="0.602" stop-color="#ea4932"/><stop offset="0.625" stop-color="#f1603f"/><stop offset="0.647" stop-color="#f67c56"/><stop offset="0.669" stop-color="#f89270"/><stop offset="0.692" stop-color="#f9a789"/><stop offset="0.714" stop-color="#fbbea6"/><stop offset="0.736" stop-color="#fcd8c7"/><stop offset="0.759" stop-color="#f3edeb"/><stop offset="0.781" stop-color="#e0e9f3"/><stop offset="0.803" stop-color="#d9e6f2"/><stop offset="0.826" stop-color="#c4dbed"/><stop offset="0.848" stop-color="#a8cce6"/><stop offset="0.870" stop-color="#88bade"/><stop offset="0.892" stop-color="#69a5d4"/><stop offset="0.915" stop-color="#5093ca"/><stop offset="0.937" stop-color="#3a82c2"/><stop offset="0.959" stop-color="#2a72b7"/><stop offset="0.982" stop-color="#2067af"/><stop offset="1.000" stop-color="#1d64ac"/></linearGradient><linearGradient id="rb34"><stop offset="0.000" stop-color="#0f4a92"/><stop offset="0.022" stop-color="#104d96"/><stop offset="0.045" stop-color="#11509a"/><stop offset="0.067" stop-color="#1557a2"/><stop offset="0.089" stop-color="#1b60aa"/><stop offset="0.112" stop-color="#266eb4"/><stop offset="0.134" stop-color="#3981c2"/><stop offset="0.156" stop-color="#599ace"/><stop offset="0.178" stop-color="#7fb4db"/><stop offset="0.201" stop-color="#a7cbe6"/><stop offset="0.223" stop-color="#c4dbed"/><stop offset="0.245" stop-color="#e4ebf4"/><stop offset="0.268" stop-color="#f7e9e2"/><stop offset="0.290" stop-color="#fbbba2"/><stop offset="0.312" stop-color="#f89573"/><stop offset="0.335" stop-color="#f67d57"/><stop offset="0.357" stop-color="#f36a47"/><stop offset="0.379" stop-color="#ee5437"/><stop offset="0.402" stop-color="#e63e2c"/><stop offset="0.424" stop-color="#d72823"/><stop offset="0.446" stop-color="#c71c1f"/><stop offset="0.469" stop-color="#bd171e"/><stop offset="0.491" stop-color="#ba161e"/><stop offset="0.513" stop-color="#be181e"/><stop offset="0.535" stop-color="#c61b1f"/><stop offset="0.558" stop-color="#d22322"/><stop offset="0.580" stop-color="#dd3127"/><stop offset="0.602" stop-color="#e8442f"/><stop offset="0.625" stop-color="#f05b3a"/><stop offset="0.647" stop-color="#f57651"/><stop offset="0.669" stop-color="#f78e6a"/><stop offset="0.692" stop-color="#f9a283"/><stop offset="0.714" stop-color="#fab79d"/><stop offset="0.736" stop-color="#fcd2c0"/><stop offset="0.759" stop-color="#f6ece8"/><stop offset="0.781" stop-color="#e5ebf4"/><stop offset="0.803" stop-color="#dbe7f2"/><stop offset="0.826" stop-color="#cadeee"/><stop offset="0.848" stop-color="#b0d0e8"/><stop offset="0.870" stop-color="#8fbee0"/><stop offset="0.892" stop-color="#70aad6"/><stop offset="0.915" stop-color="#5597cc"/><stop offset="0.937" stop-color="#3f86c4"/><stop offset="0.959" stop-color="#2e76ba"/><stop offset="0.982" stop-color="#2169b1"/><stop offset="1.000" stop-color="#1e65ad"/></linearGradient><linearGradient id="rb35"><stop offset="0.000" stop-color="#0e4a90"/><stop offset="0.022" stop-color="#104c94"/><stop offset="0.045" stop-color="#114f98"/><stop offset="0.067" stop-color="#1354a0"/><stop offset="0.089" stop-color="#185ca7"/><stop offset="0.112" stop-color="#2067af"/><stop offset="0.134" stop-color="#327abd"/><stop offset="0.156" stop-color="#4d91c9"/><stop offset="0.178" stop-color="#70aad6"/><stop offset="0.201" stop-color="#98c3e2"/><stop offset="0.223" stop-color="#bad6ea"/><stop offset="0.245" stop-color="#d6e5f1"/><stop offset="0.268" stop-color="#f1edec"/><stop offset="0.290" stop-color="#fbcbb7"/><stop offset="0.312" stop-color="#f99e7e"/><stop offset="0.335" stop-color="#f78661"/><stop offset="0.357" stop-color="#f4714d"/><stop offset="0.379" stop-color="#f05c3c"/><stop offset="0.402" stop-color="#e94630"/><stop offset="0.424" stop-color="#dd3127"/><stop offset="0.446" stop-color="#cb1f20"/><stop offset="0.469" stop-color="#bf181e"/><stop offset="0.491" stop-color="#bb171e"/><stop offset="0.513" stop-color="#bb171e"/><stop offset="0.535" stop-color="#c31a1f"/><stop offset="0.558" stop-color="#cd2021"/><stop offset="0.580" stop-color="#d92b24"/><stop offset="0.602" stop-color="#e53c2b"/><stop offset="0.625" stop-color="#ed5236"/><stop offset="0.647" stop-color="#f36b49"/><stop offset="0.669" stop-color="#f78662"/><stop offset="0.692" stop-color="#f99a79"/><stop offset="0.714" stop-color="#fab094"/><stop offset="0.736" stop-color="#fbc9b4"/><stop offset="0.759" stop-color="#f9e3d8"/><stop offset="0.781" stop-color="#ecedf0"/><stop offset="0.803" stop-color="#dde8f2"/><stop offset="0.826" stop-color="#d2e3f0"/><stop offset="0.848" stop-color="#b9d5ea"/><stop offset="0.870" stop-color="#9bc4e3"/><stop offset="0.892" stop-color="#7ab1d9"/><stop offset="0.915" stop-color="#5d9dd0"/><stop offset="0.937" stop-color="#478cc7"/><stop offset="0.959" stop-color="#347cbe"/><stop offset="0.982" stop-color="#256db4"/><stop offset="1.000" stop-color="#1f66af"/></linearGradient><linearGradient id="rb36"><stop offset="0.000" stop-color="#0e498f"/><stop offset="0.022" stop-color="#0f4b93"/><stop offset="0.045" stop-color="#104e97"/><stop offset="0.067" stop-color="#12529d"/><stop offset="0.089" stop-color="#1659a4"/><stop offset="0.112" stop-color="#1d63ac"/><stop offset="0.134" stop-color="#2b73b7"/><stop offset="0.156" stop-color="#4187c5"/><stop offset="0.178" stop-color="#62a1d1"/><stop offset="0.201" stop-color="#89bbde"/><stop offset="0.223" stop-color="#b0d0e8"/><stop offset="0.245" stop-color="#cbdfef"/><stop offset="0.268" stop-color="#eaedf1"/><stop offset="0.290" stop-color="#fbdfd1"/><stop offset="0.312" stop-color="#faaf93"/><stop offset="0.335" stop-color="#f88f6c"/><stop offset="0.357" stop-color="#f57853"/><stop offset="0.379" stop-color="#f26543"/><stop offset="0.402" stop-color="#ec4e34"/><stop offset="0.424" stop-color="#e3392a"/><stop offset="0.446" stop-color="#d12221"/><stop offset="0.469" stop-color="#c31a1f"/><stop offset="0.491" stop-color="#ba171e"/><stop offset="0.513" stop-color="#b6151e"/><stop offset="0.535" stop-color="#be181e"/><stop offset="0.558" stop-color="#c81d20"/><stop offset="0.580" stop-color="#d52522"/><stop offset="0.602" stop-color="#e03528"/><stop offset="0.625" stop-color="#ea4a32"/><stop offset="0.647" stop-color="#f16140"/><stop offset="0.669" stop-color="#f67d57"/><stop offset="0.692" stop-color="#f89370"/><stop offset="0.714" stop-color="#f9a88a"/><stop offset="0.736" stop-color="#fbbfa7"/><stop offset="0.759" stop-color="#fcd9c8"/><stop offset="0.781" stop-color="#f2edeb"/><stop offset="0.803" stop-color="#e0e9f3"/><stop offset="0.826" stop-color="#d9e6f2"/><stop offset="0.848" stop-color="#c3dbed"/><stop offset="0.870" stop-color="#a7cbe6"/><stop offset="0.892" stop-color="#87b9de"/><stop offset="0.915" stop-color="#68a5d3"/><stop offset="0.937" stop-color="#4f93ca"/><stop offset="0.959" stop-color="#3a82c2"/><stop offset="0.982" stop-color="#2a72b7"/><stop offset="1.000" stop-color="#2068b0"/></linearGradient><linearGradient id="rb37"><stop offset="0.000" stop-color="#0e488e"/><stop offset="0.022" stop-color="#0f4a91"/><stop offset="0.045" stop-color="#104d95"/><stop offset="0.067" stop-color="#114f99"/><stop offset="0.089" stop-color="#1456a1"/><stop offset="0.112" stop-color="#1a5fa9"/><stop offset="0.134" stop-color="#236bb2"/><stop offset="0.156" stop-color="#377fc0"/><stop offset="0.178" stop-color="#5597cc"/><stop offset="0.201" stop-color="#7ab0d9"/><stop offset="0.223" stop-color="#a1c8e4"/><stop offset="0.245" stop-color="#c0d9ec"/><stop offset="0.268" stop-color="#dfe9f3"/><stop offset="0.290" stop-color="#f5ece9"/><stop offset="0.312" stop-color="#fbc2aa"/><stop offset="0.335" stop-color="#f89977"/><stop offset="0.357" stop-color="#f6805b"/><stop offset="0.379" stop-color="#f36d49"/><stop offset="0.402" stop-color="#ef5738"/><stop offset="0.424" stop-color="#e7412e"/><stop offset="0.446" stop-color="#d82a24"/><stop offset="0.469" stop-color="#c51b1f"/><stop offset="0.491" stop-color="#b5151e"/><stop offset="0.513" stop-color="#ae141e"/><stop offset="0.535" stop-color="#b5151e"/><stop offset="0.558" stop-color="#c2191e"/><stop offset="0.580" stop-color="#d02221"/><stop offset="0.602" stop-color="#dc2f26"/><stop offset="0.625" stop-color="#e7412e"/><stop offset="0.647" stop-color="#ef5839"/><stop offset="0.669" stop-color="#f4724e"/><stop offset="0.692" stop-color="#f78b67"/><stop offset="0.714" stop-color="#f99f7f"/><stop offset="0.736" stop-color="#fab59a"/><stop offset="0.759" stop-color="#fccfbb"/><stop offset="0.781" stop-color="#f7e9e2"/><stop offset="0.803" stop-color="#e8ecf3"/><stop offset="0.826" stop-color="#dce7f2"/><stop offset="0.848" stop-color="#cde0ef"/><stop offset="0.870" stop-color="#b3d2e9"/><stop offset="0.892" stop-color="#93c0e1"/><stop offset="0.915" stop-color="#73acd7"/><stop offset="0.937" stop-color="#5899ce"/><stop offset="0.959" stop-color="#4288c5"/><stop offset="0.982" stop-color="#3078bb"/><stop offset="1.000" stop-color="#256db3"/></linearGradient><linearGradient id="rb38"><stop offset="0.000" stop-color="#0e488e"/><stop offset="0.022" stop-color="#0e4990"/><stop offset="0.045" stop-color="#0f4c93"/><stop offset="0.067" stop-color="#114e97"/><stop offset="0.089" stop-color="#13539f"/><stop offset="0.112" stop-color="#175ba5"/><stop offset="0.134" stop-color="#1e66ae"/><stop offset="0.156" stop-color="#2f77ba"/><stop offset="0.178" stop-color="#488dc7"/><stop offset="0.201" stop-color="#6aa6d4"/><stop offset="0.223" stop-color="#92bfe0"/><stop offset="0.245" stop-color="#b6d3e9"/><stop offset="0.268" stop-color="#d0e2f0"/><stop offset="0.290" stop-color="#eeeeee"/><stop offset="0.312" stop-color="#fcd3c0"/><stop offset="0.335" stop-color="#f9a485"/><stop offset="0.357" stop-color="#f78a66"/><stop offset="0.379" stop-color="#f47450"/><stop offset="0.402" stop-color="#f1603f"/><stop offset="0.424" stop-color="#ea4932"/><stop offset="0.446" stop-color="#de3227"/><stop offset="0.469" stop-color="#c51b1f"/><stop offset="0.491" stop-color="#a8121e"/><stop offset="0.513" stop-color="#9a0f1c"/><stop offset="0.535" stop-color="#a3111d"/><stop offset="0.558" stop-color="#ba171e"/><stop offset="0.580" stop-color="#ca1e20"/><stop offset="0.602" stop-color="#d72823"/><stop offset="0.625" stop-color="#e33929"/><stop offset="0.647" stop-color="#ec4f34"/><stop offset="0.669" stop-color="#f26745"/><stop offset="0.692" stop-color="#f6835e"/><stop offset="0.714" stop-color="#f89776"/><stop offset="0.736" stop-color="#faac8f"/><stop offset="0.759" stop-color="#fbc5ae"/><stop offset="0.781" stop-color="#fbdfd1"/><stop offset="0.803" stop-color="#eeeeee"/><stop offset="0.826" stop-color="#dee8f3"/><stop offset="0.848" stop-color="#d5e4f1"/><stop offset="0.870" stop-color="#bdd8eb"/><stop offset="0.892" stop-color="#a0c7e4"/><stop offset="0.915" stop-color="#80b4db"/><stop offset="0.937" stop-color="#62a0d1"/><stop offset="0.959" stop-color="#4a8fc8"/><stop offset="0.982" stop-color="#367ebf"/><stop offset="1.000" stop-color="#2a72b7"/></linearGradient><linearGradient id="rb39"><stop offset="0.000" stop-color="#0e488e"/><stop offset="0.022" stop-color="#0e488e"/><stop offset="0.045" stop-color="#0f4b92"/><stop offset="0.067" stop-color="#104d96"/><stop offset="0.089" stop-color="#12519b"/><stop offset="0.112" stop-color="#1557a3"/><stop offset="0.134" stop-color="#1c61ab"/><stop offset="0.156" stop-color="#276fb5"/><stop offset="0.178" stop-color="#3c83c3"/><stop offset="0.201" stop-color="#5c9ccf"/><stop offset="0.223" stop-color="#83b6dc"/><stop offset="0.245" stop-color="#aacde6"/><stop offset="0.268" stop-color="#c6dced"/><stop offset="0.290" stop-color="#e7ecf4"/><stop offset="0.312" stop-color="#f8e5dc"/><stop offset="0.335" stop-color="#fab79d"/><stop offset="0.357" stop-color="#f89371"/><stop offset="0.379" stop-color="#f67c56"/><stop offset="0.402" stop-color="#f26846"/><stop offset="0.424" stop-color="#ed5136"/><stop offset="0.446" stop-color="#e23829"/><stop offset="0.469" stop-color="#c51b1f"/><stop offset="0.491" stop-color="#960e1b"/><stop offset="0.513" stop-color="#7b0a19"/><stop offset="0.535" stop-color="#8d0c1a"/><stop offset="0.558" stop-color="#b0141e"/><stop offset="0.580" stop-color="#c41b1f"/><stop offset="0.602" stop-color="#d32322"/><stop offset="0.625" stop-color="#de3227"/><stop offset="0.647" stop-color="#e94630"/><stop offset="0.669" stop-color="#f05d3c"/><stop offset="0.692" stop-color="#f57853"/><stop offset="0.714" stop-color="#f88f6c"/><stop offset="0.736" stop-color="#f9a485"/><stop offset="0.759" stop-color="#fbbaa0"/><stop offset="0.781" stop-color="#fcd5c2"/><stop offset="0.803" stop-color="#f5ece9"/><stop offset="0.826" stop-color="#e2eaf3"/><stop offset="0.848" stop-color="#dbe7f2"/><stop offset="0.870" stop-color="#c7ddee"/><stop offset="0.892" stop-color="#adcee7"/><stop offset="0.915" stop-color="#8cbcdf"/><stop offset="0.937" stop-color="#6da8d5"/><stop offset="0.959" stop-color="#5395cc"/><stop offset="0.982" stop-color="#3d84c3"/><stop offset="1.000" stop-color="#2f77bb"/></linearGradient><linearGradient id="rb40"><stop offset="0.000" stop-color="#0e488e"/><stop offset="0.022" stop-color="#0e488e"/><stop offset="0.045" stop-color="#0f4a91"/><stop offset="0.067" stop-color="#104c95"/><stop offset="0.089" stop-color="#114f99"/><stop offset="0.112" stop-color="#1455a1"/><stop offset="0.134" stop-color="#1a5ea8"/><stop offset="0.156" stop-color="#226ab1"/><stop offset="0.178" stop-color="#357dbf"/><stop offset="0.201" stop-color="#5295cb"/><stop offset="0.223" stop-color="#77aed8"/><stop offset="0.245" stop-color="#9ec6e4"/><stop offset="0.268" stop-color="#bed8ec"/><stop offset="0.290" stop-color="#dce7f2"/><stop offset="0.312" stop-color="#f4edea"/><stop offset="0.335" stop-color="#fbc5ae"/><stop offset="0.357" stop-color="#f99a79"/><stop offset="0.379" stop-color="#f6825d"/><stop offset="0.402" stop-color="#f36e4b"/><stop offset="0.424" stop-color="#ef5839"/><stop offset="0.446" stop-color="#e43b2b"/><stop offset="0.469" stop-color="#c71c1f"/><stop offset="0.491" stop-color="#8d0c1a"/><stop offset="0.513" stop-color="#6b0818"/><stop offset="0.535" stop-color="#800a19"/><stop offset="0.558" stop-color="#a9121e"/><stop offset="0.580" stop-color="#c1191e"/><stop offset="0.602" stop-color="#cf2121"/><stop offset="0.625" stop-color="#db2d25"/><stop offset="0.647" stop-color="#e63f2d"/><stop offset="0.669" stop-color="#ee5638"/><stop offset="0.692" stop-color="#f4704c"/><stop offset="0.714" stop-color="#f78965"/><stop offset="0.736" stop-color="#f99e7d"/><stop offset="0.759" stop-color="#fab398"/><stop offset="0.781" stop-color="#fbcdb9"/><stop offset="0.803" stop-color="#f8e7df"/><stop offset="0.826" stop-color="#e9edf2"/><stop offset="0.848" stop-color="#dce8f2"/><stop offset="0.870" stop-color="#cfe1f0"/><stop offset="0.892" stop-color="#b5d3e9"/><stop offset="0.915" stop-color="#96c2e1"/><stop offset="0.937" stop-color="#76aed8"/><stop offset="0.959" stop-color="#599ace"/><stop offset="0.982" stop-color="#4489c6"/><stop offset="1.000" stop-color="#347cbe"/></linearGradient><linearGradient id="rb41"><stop offset="0.000" stop-color="#0e488e"/><stop offset="0.022" stop-color="#0e488f"/><stop offset="0.045" stop-color="#0f4b92"/><stop offset="0.067" stop-color="#104e96"/><stop offset="0.089" stop-color="#12519c"/><stop offset="0.112" stop-color="#1658a3"/><stop offset="0.134" stop-color="#1c63ac"/><stop offset="0.156" stop-color="#2a72b7"/><stop offset="0.178" stop-color="#3f86c4"/><stop offset="0.201" stop-color="#609fd1"/><stop offset="0.223" stop-color="#87b9de"/><stop offset="0.245" stop-color="#aecfe7"/><stop offset="0.268" stop-color="#c9deee"/><stop offset="0.290" stop-color="#e9edf2"/><stop offset="0.312" stop-color="#fae1d5"/><stop offset="0.335" stop-color="#fab296"/><stop offset="0.357" stop-color="#f8906e"/><stop offset="0.379" stop-color="#f57954"/><stop offset="0.402" stop-color="#f26644"/><stop offset="0.424" stop-color="#ec4f34"/><stop offset="0.446" stop-color="#e13628"/><stop offset="0.469" stop-color="#c0181e"/><stop offset="0.491" stop-color="#8d0c1a"/><stop offset="0.513" stop-color="#710818"/><stop offset="0.535" stop-color="#860b1a"/><stop offset="0.558" stop-color="#af141e"/><stop offset="0.580" stop-color="#c51b1f"/><stop offset="0.602" stop-color="#d42422"/><stop offset="0.625" stop-color="#e03428"/><stop offset="0.647" stop-color="#ea4931"/><stop offset="0.669" stop-color="#f15f3f"/><stop offset="0.692" stop-color="#f67b56"/><stop offset="0.714" stop-color="#f8926f"/><stop offset="0.736" stop-color="#f9a788"/><stop offset="0.759" stop-color="#fbbda5"/><stop offset="0.781" stop-color="#fcd8c6"/><stop offset="0.803" stop-color="#f3edea"/><stop offset="0.826" stop-color="#e0e9f3"/><stop offset="0.848" stop-color="#dae6f2"/><stop offset="0.870" stop-color="#c4dced"/><stop offset="0.892" stop-color="#a9cce6"/><stop offset="0.915" stop-color="#89bade"/><stop offset="0.937" stop-color="#6aa6d4"/><stop offset="0.959" stop-color="#5093cb"/><stop offset="0.982" stop-color="#3b83c2"/><stop offset="1.000" stop-color="#2d75b9"/></linearGradient><linearGradient id="rb42"><stop offset="0.000" stop-color="#0e488e"/><stop offset="0.022" stop-color="#0e4990"/><stop offset="0.045" stop-color="#0f4c94"/><stop offset="0.067" stop-color="#114f98"/><stop offset="0.089" stop-color="#1354a0"/><stop offset="0.112" stop-color="#185ca6"/><stop offset="0.134" stop-color="#1f67af"/><stop offset="0.156" stop-color="#327abc"/><stop offset="0.178" stop-color="#4c90c9"/><stop offset="0.201" stop-color="#6faad6"/><stop offset="0.223" stop-color="#97c2e2"/><stop offset="0.245" stop-color="#b9d5ea"/><stop offset="0.268" stop-color="#d5e4f1"/><stop offset="0.290" stop-color="#f0edec"/><stop offset="0.312" stop-color="#fbccb8"/><stop offset="0.335" stop-color="#f99f7f"/><stop offset="0.357" stop-color="#f78662"/><stop offset="0.379" stop-color="#f4724e"/><stop offset="0.402" stop-color="#f05d3c"/><stop offset="0.424" stop-color="#e94630"/><stop offset="0.446" stop-color="#dc2e26"/><stop offset="0.469" stop-color="#c1181e"/><stop offset="0.491" stop-color="#9e101d"/><stop offset="0.513" stop-color="#8f0d1a"/><stop offset="0.535" stop-color="#9d101c"/><stop offset="0.558" stop-color="#b9161e"/><stop offset="0.580" stop-color="#cc1f20"/><stop offset="0.602" stop-color="#d92a24"/><stop offset="0.625" stop-color="#e43b2b"/><stop offset="0.647" stop-color="#ed5236"/><stop offset="0.669" stop-color="#f36b48"/><stop offset="0.692" stop-color="#f78661"/><stop offset="0.714" stop-color="#f89a79"/><stop offset="0.736" stop-color="#faaf93"/><stop offset="0.759" stop-color="#fbc8b3"/><stop offset="0.781" stop-color="#fae2d7"/><stop offset="0.803" stop-color="#eceeef"/><stop offset="0.826" stop-color="#dde8f2"/><stop offset="0.848" stop-color="#d2e3f0"/><stop offset="0.870" stop-color="#bad6ea"/><stop offset="0.892" stop-color="#9cc5e3"/><stop offset="0.915" stop-color="#7bb1da"/><stop offset="0.937" stop-color="#5e9ed0"/><stop offset="0.959" stop-color="#488dc7"/><stop offset="0.982" stop-color="#347cbe"/><stop offset="1.000" stop-color="#2870b5"/></linearGradient><linearGradient id="rb43"><stop offset="0.000" stop-color="#0e488e"/><stop offset="0.022" stop-color="#0f4a92"/><stop offset="0.045" stop-color="#104d95"/><stop offset="0.067" stop-color="#11509a"/><stop offset="0.089" stop-color="#1557a2"/><stop offset="0.112" stop-color="#1b60aa"/><stop offset="0.134" stop-color="#256db4"/><stop offset="0.156" stop-color="#3981c1"/><stop offset="0.178" stop-color="#5899ce"/><stop offset="0.201" stop-color="#7eb3db"/><stop offset="0.223" stop-color="#a5cae5"/><stop offset="0.245" stop-color="#c3dbed"/><stop offset="0.268" stop-color="#e3ebf3"/><stop offset="0.290" stop-color="#f7eae4"/><stop offset="0.312" stop-color="#fbbda4"/><stop offset="0.335" stop-color="#f89674"/><stop offset="0.357" stop-color="#f67e58"/><stop offset="0.379" stop-color="#f36b48"/><stop offset="0.402" stop-color="#ee5537"/><stop offset="0.424" stop-color="#e63f2c"/><stop offset="0.446" stop-color="#d62723"/><stop offset="0.469" stop-color="#c31a1f"/><stop offset="0.491" stop-color="#b0141e"/><stop offset="0.513" stop-color="#a8121e"/><stop offset="0.535" stop-color="#b2151e"/><stop offset="0.558" stop-color="#c2191e"/><stop offset="0.580" stop-color="#d12221"/><stop offset="0.602" stop-color="#dd3026"/><stop offset="0.625" stop-color="#e8442f"/><stop offset="0.647" stop-color="#f05a3a"/><stop offset="0.669" stop-color="#f47550"/><stop offset="0.692" stop-color="#f78d6a"/><stop offset="0.714" stop-color="#f9a282"/><stop offset="0.736" stop-color="#fab79c"/><stop offset="0.759" stop-color="#fcd2bf"/><stop offset="0.781" stop-color="#f6ebe6"/><stop offset="0.803" stop-color="#e6ecf4"/><stop offset="0.826" stop-color="#dbe7f2"/><stop offset="0.848" stop-color="#cadfef"/><stop offset="0.870" stop-color="#b1d0e8"/><stop offset="0.892" stop-color="#90bee0"/><stop offset="0.915" stop-color="#70aad6"/><stop offset="0.937" stop-color="#5597cd"/><stop offset="0.959" stop-color="#4086c4"/><stop offset="0.982" stop-color="#2e76ba"/><stop offset="1.000" stop-color="#246cb2"/></linearGradient><linearGradient id="rb44"><stop offset="0.000" stop-color="#0e488f"/><stop offset="0.022" stop-color="#0f4b92"/><stop offset="0.045" stop-color="#104e96"/><stop offset="0.067" stop-color="#12529c"/><stop offset="0.089" stop-color="#1658a4"/><stop offset="0.112" stop-color="#1d63ac"/><stop offset="0.134" stop-color="#2b73b7"/><stop offset="0.156" stop-color="#4187c5"/><stop offset="0.178" stop-color="#62a1d1"/><stop offset="0.201" stop-color="#8abbde"/><stop offset="0.223" stop-color="#b0d0e8"/><stop offset="0.245" stop-color="#cbdfef"/><stop offset="0.268" stop-color="#eaedf1"/><stop offset="0.290" stop-color="#fbded0"/><stop offset="0.312" stop-color="#faae92"/><stop offset="0.335" stop-color="#f78f6c"/><stop offset="0.357" stop-color="#f57853"/><stop offset="0.379" stop-color="#f26543"/><stop offset="0.402" stop-color="#eb4e34"/><stop offset="0.424" stop-color="#e3392a"/><stop offset="0.446" stop-color="#d12221"/><stop offset="0.469" stop-color="#c2191e"/><stop offset="0.491" stop-color="#b8161e"/><stop offset="0.513" stop-color="#b3151e"/><stop offset="0.535" stop-color="#bd171e"/><stop offset="0.558" stop-color="#c81d20"/><stop offset="0.580" stop-color="#d52522"/><stop offset="0.602" stop-color="#e03528"/><stop offset="0.625" stop-color="#ea4a32"/><stop offset="0.647" stop-color="#f16140"/><stop offset="0.669" stop-color="#f67d57"/><stop offset="0.692" stop-color="#f89370"/><stop offset="0.714" stop-color="#f9a88a"/><stop offset="0.736" stop-color="#fbbfa7"/><stop offset="0.759" stop-color="#fcd9c8"/><stop offset="0.781" stop-color="#f2edeb"/><stop offset="0.803" stop-color="#dfe9f3"/><stop offset="0.826" stop-color="#d8e6f2"/><stop offset="0.848" stop-color="#c3dbed"/><stop offset="0.870" stop-color="#a7cbe6"/><stop offset="0.892" stop-color="#86b9dd"/><stop offset="0.915" stop-color="#68a4d3"/><stop offset="0.937" stop-color="#4f92ca"/><stop offset="0.959" stop-color="#3981c1"/><stop offset="0.982" stop-color="#2a72b7"/><stop offset="1.000" stop-color="#2068b0"/></linearGradient><linearGradient id="rb45"><stop offset="0.000" stop-color="#0e488e"/><stop offset="0.022" stop-color="#0f4a92"/><stop offset="0.045" stop-color="#104d96"/><stop offset="0.067" stop-color="#12529e"/><stop offset="0.089" stop-color="#175aa5"/><stop offset="0.112" stop-color="#1e65ae"/><stop offset="0.134" stop-color="#2f77bb"/><stop offset="0.156" stop-color="#498ec8"/><stop offset="0.178" stop-color="#6ca7d5"/><stop offset="0.201" stop-color="#94c1e1"/><stop offset="0.223" stop-color="#b7d4ea"/><stop offset="0.245" stop-color="#d3e3f1"/><stop offset="0.268" stop-color="#efeeed"/><stop offset="0.290" stop-color="#fbceba"/><stop offset="0.312" stop-color="#f99f7e"/><stop offset="0.335" stop-color="#f78661"/><stop offset="0.357" stop-color="#f4714d"/><stop offset="0.379" stop-color="#f05c3c"/><stop offset="0.402" stop-color="#e84630"/><stop offset="0.424" stop-color="#dd3127"/><stop offset="0.446" stop-color="#cb1e20"/><stop offset="0.469" stop-color="#be171e"/><stop offset="0.491" stop-color="#b8161e"/><stop offset="0.513" stop-color="#b7161e"/><stop offset="0.535" stop-color="#c0181e"/><stop offset="0.558" stop-color="#cb1f20"/><stop offset="0.580" stop-color="#d72823"/><stop offset="0.602" stop-color="#e33929"/><stop offset="0.625" stop-color="#ec4f34"/><stop offset="0.647" stop-color="#f26845"/><stop offset="0.669" stop-color="#f6835e"/><stop offset="0.692" stop-color="#f89876"/><stop offset="0.714" stop-color="#faad90"/><stop offset="0.736" stop-color="#fbc6b0"/><stop offset="0.759" stop-color="#fae1d5"/><stop offset="0.781" stop-color="#edeeef"/><stop offset="0.803" stop-color="#dde8f2"/><stop offset="0.826" stop-color="#d3e3f1"/><stop offset="0.848" stop-color="#bad6eb"/><stop offset="0.870" stop-color="#9cc5e3"/><stop offset="0.892" stop-color="#7bb1da"/><stop offset="0.915" stop-color="#5d9ed0"/><stop offset="0.937" stop-color="#478cc7"/><stop offset="0.959" stop-color="#337bbd"/><stop offset="0.982" stop-color="#256db3"/><stop offset="1.000" stop-color="#1e65ae"/></linearGradient><linearGradient id="rb46"><stop offset="0.000" stop-color="#0d478d"/><stop offset="0.022" stop-color="#0f4a91"/><stop offset="0.045" stop-color="#104d95"/><stop offset="0.067" stop-color="#13539e"/><stop offset="0.089" stop-color="#185ca6"/><stop offset="0.112" stop-color="#2067b0"/><stop offset="0.134" stop-color="#337bbd"/><stop offset="0.156" stop-color="#5093cb"/><stop offset="0.178" stop-color="#75add8"/><stop offset="0.201" stop-color="#9dc6e3"/><stop offset="0.223" stop-color="#bed8eb"/><stop offset="0.245" stop-color="#dde8f2"/><stop offset="0.268" stop-color="#f4ece9"/><stop offset="0.290" stop-color="#fbc2ab"/><stop offset="0.312" stop-color="#f89776"/><stop offset="0.335" stop-color="#f67e58"/><stop offset="0.357" stop-color="#f36a47"/><stop offset="0.379" stop-color="#ee5537"/><stop offset="0.402" stop-color="#e63e2c"/><stop offset="0.424" stop-color="#d82924"/><stop offset="0.446" stop-color="#c61c1f"/><stop offset="0.469" stop-color="#ba171e"/><stop offset="0.491" stop-color="#b6151e"/><stop offset="0.513" stop-color="#b8161e"/><stop offset="0.535" stop-color="#c1191e"/><stop offset="0.558" stop-color="#cd2021"/><stop offset="0.580" stop-color="#d92b25"/><stop offset="0.602" stop-color="#e53c2b"/><stop offset="0.625" stop-color="#ed5337"/><stop offset="0.647" stop-color="#f36e4a"/><stop offset="0.669" stop-color="#f78763"/><stop offset="0.692" stop-color="#f99c7b"/><stop offset="0.714" stop-color="#fab296"/><stop offset="0.736" stop-color="#fbcdb8"/><stop offset="0.759" stop-color="#f8e7e0"/><stop offset="0.781" stop-color="#e8edf2"/><stop offset="0.803" stop-color="#dce7f2"/><stop offset="0.826" stop-color="#cde0ef"/><stop offset="0.848" stop-color="#b3d2e9"/><stop offset="0.870" stop-color="#92c0e1"/><stop offset="0.892" stop-color="#72abd7"/><stop offset="0.915" stop-color="#5697cd"/><stop offset="0.937" stop-color="#3f86c4"/><stop offset="0.959" stop-color="#2e76ba"/><stop offset="0.982" stop-color="#2068b0"/><stop offset="1.000" stop-color="#1d63ac"/></linearGradient><linearGradient id="rb47"><stop offset="0.000" stop-color="#0d468b"/><stop offset="0.022" stop-color="#0e498f"/><stop offset="0.045" stop-color="#0f4c94"/><stop offset="0.067" stop-color="#12529e"/><stop offset="0.089" stop-color="#185ca6"/><stop offset="0.112" stop-color="#2068b0"/><stop offset="0.134" stop-color="#347cbe"/><stop offset="0.156" stop-color="#5395cc"/><stop offset="0.178" stop-color="#78b0d9"/><stop offset="0.201" stop-color="#a1c8e4"/><stop offset="0.223" stop-color="#c0d9ec"/><stop offset="0.245" stop-color="#e1eaf3"/><stop offset="0.268" stop-color="#f7ebe5"/><stop offset="0.290" stop-color="#fbbca3"/><stop offset="0.312" stop-color="#f89371"/><stop offset="0.335" stop-color="#f57a55"/><stop offset="0.357" stop-color="#f26644"/><stop offset="0.379" stop-color="#ec5035"/><stop offset="0.402" stop-color="#e43a2a"/><stop offset="0.424" stop-color="#d52522"/><stop offset="0.446" stop-color="#c31a1f"/><stop offset="0.469" stop-color="#b8161e"/><stop offset="0.491" stop-color="#b3151e"/><stop offset="0.513" stop-color="#b7161e"/><stop offset="0.535" stop-color="#c1181e"/><stop offset="0.558" stop-color="#cd2021"/><stop offset="0.580" stop-color="#d92c25"/><stop offset="0.602" stop-color="#e53d2c"/><stop offset="0.625" stop-color="#ee5437"/><stop offset="0.647" stop-color="#f46f4c"/><stop offset="0.669" stop-color="#f78864"/><stop offset="0.692" stop-color="#f99e7d"/><stop offset="0.714" stop-color="#fab398"/><stop offset="0.736" stop-color="#fccfbc"/><stop offset="0.759" stop-color="#f7eae4"/><stop offset="0.781" stop-color="#e6ecf4"/><stop offset="0.803" stop-color="#dbe7f2"/><stop offset="0.826" stop-color="#cadeee"/><stop offset="0.848" stop-color="#afcfe8"/><stop offset="0.870" stop-color="#8dbddf"/><stop offset="0.892" stop-color="#6da8d5"/><stop offset="0.915" stop-color="#5294cb"/><stop offset="0.937" stop-color="#3b83c3"/><stop offset="0.959" stop-color="#2b73b7"/><stop offset="0.982" stop-color="#1f66ae"/><stop offset="1.000" stop-color="#1c61ab"/></linearGradient><linearGradient id="rb48"><stop offset="0.000" stop-color="#0d458a"/><stop offset="0.022" stop-color="#0e488e"/><stop offset="0.045" stop-color="#0f4b93"/><stop offset="0.067" stop-color="#12529d"/><stop offset="0.089" stop-color="#185ca7"/><stop offset="0.112" stop-color="#2169b1"/><stop offset="0.134" stop-color="#357dbf"/><stop offset="0.156" stop-color="#5597cc"/><stop offset="0.178" stop-color="#7cb2da"/><stop offset="0.201" stop-color="#a5cae5"/><stop offset="0.223" stop-color="#c3dbed"/><stop offset="0.245" stop-color="#e5ecf4"/><stop offset="0.268" stop-color="#f8e6dd"/><stop offset="0.290" stop-color="#fab69b"/><stop offset="0.312" stop-color="#f88f6c"/><stop offset="0.335" stop-color="#f57752"/><stop offset="0.357" stop-color="#f16341"/><stop offset="0.379" stop-color="#eb4c33"/><stop offset="0.402" stop-color="#e23729"/><stop offset="0.424" stop-color="#d12221"/><stop offset="0.446" stop-color="#c0181e"/><stop offset="0.469" stop-color="#b5151e"/><stop offset="0.491" stop-color="#b0141e"/><stop offset="0.513" stop-color="#b6151e"/><stop offset="0.535" stop-color="#c0181e"/><stop offset="0.558" stop-color="#cd2021"/><stop offset="0.580" stop-color="#da2c25"/><stop offset="0.602" stop-color="#e63e2c"/><stop offset="0.625" stop-color="#ee5538"/><stop offset="0.647" stop-color="#f4714d"/><stop offset="0.669" stop-color="#f78966"/><stop offset="0.692" stop-color="#f99f7f"/><stop offset="0.714" stop-color="#fab69b"/><stop offset="0.736" stop-color="#fcd2bf"/><stop offset="0.759" stop-color="#f6ece8"/><stop offset="0.781" stop-color="#e2eaf3"/><stop offset="0.803" stop-color="#dae6f2"/><stop offset="0.826" stop-color="#c6dcee"/><stop offset="0.848" stop-color="#aacde7"/><stop offset="0.870" stop-color="#89bade"/><stop offset="0.892" stop-color="#68a5d3"/><stop offset="0.915" stop-color="#4e91ca"/><stop offset="0.937" stop-color="#3880c1"/><stop offset="0.959" stop-color="#276fb5"/><stop offset="0.982" stop-color="#1d64ad"/><stop offset="1.000" stop-color="#1b60a9"/></linearGradient><linearGradient id="rb49"><stop offset="0.000" stop-color="#0c4488"/><stop offset="0.022" stop-color="#0d478c"/><stop offset="0.045" stop-color="#0f4b92"/><stop offset="0.067" stop-color="#12529d"/><stop offset="0.089" stop-color="#185ca7"/><stop offset="0.112" stop-color="#226ab1"/><stop offset="0.134" stop-color="#377fc0"/><stop offset="0.156" stop-color="#5799cd"/><stop offset="0.178" stop-color="#7fb4db"/><stop offset="0.201" stop-color="#a8cbe6"/><stop offset="0.223" stop-color="#c5dced"/><stop offset="0.245" stop-color="#e8ecf3"/><stop offset="0.268" stop-color="#fae1d5"/><stop offset="0.290" stop-color="#faaf93"/><stop offset="0.312" stop-color="#f78b67"/><stop offset="0.335" stop-color="#f4734f"/><stop offset="0.357" stop-color="#f15f3e"/><stop offset="0.379" stop-color="#e94831"/><stop offset="0.402" stop-color="#e03428"/><stop offset="0.424" stop-color="#cd2021"/><stop offset="0.446" stop-color="#bc171e"/><stop offset="0.469" stop-color="#b1141e"/><stop offset="0.491" stop-color="#ac131e"/><stop offset="0.513" stop-color="#b3151e"/><stop offset="0.535" stop-color="#bf181e"/><stop offset="0.558" stop-color="#cd2021"/><stop offset="0.580" stop-color="#da2d25"/><stop offset="0.602" stop-color="#e63f2d"/><stop offset="0.625" stop-color="#ef5738"/><stop offset="0.647" stop-color="#f4734f"/><stop offset="0.669" stop-color="#f78b67"/><stop offset="0.692" stop-color="#f9a181"/><stop offset="0.714" stop-color="#fbb89e"/><stop offset="0.736" stop-color="#fcd4c2"/><stop offset="0.759" stop-color="#f4edea"/><stop offset="0.781" stop-color="#dfe9f3"/><stop offset="0.803" stop-color="#d9e6f2"/><stop offset="0.826" stop-color="#c3daed"/><stop offset="0.848" stop-color="#a5cae5"/><stop offset="0.870" stop-color="#83b7dc"/><stop offset="0.892" stop-color="#63a1d2"/><stop offset="0.915" stop-color="#4a8ec8"/><stop offset="0.937" stop-color="#357dbe"/><stop offset="0.959" stop-color="#246cb3"/><stop offset="0.982" stop-color="#1c62ab"/><stop offset="1.000" stop-color="#1a5ea8"/></linearGradient><linearGradient id="rb50"><stop offset="0.000" stop-color="#0c4387"/><stop offset="0.022" stop-color="#0d468b"/><stop offset="0.045" stop-color="#0f4a91"/><stop offset="0.067" stop-color="#12519b"/><stop offset="0.089" stop-color="#185ca6"/><stop offset="0.112" stop-color="#226ab1"/><stop offset="0.134" stop-color="#377fc0"/><stop offset="0.156" stop-color="#5899ce"/><stop offset="0.178" stop-color="#80b5db"/><stop offset="0.201" stop-color="#a9cce6"/><stop offset="0.223" stop-color="#c7ddee"/><stop offset="0.245" stop-color="#e9edf2"/><stop offset="0.268" stop-color="#fbdfd1"/><stop offset="0.290" stop-color="#faab8e"/><stop offset="0.312" stop-color="#f78864"/><stop offset="0.335" stop-color="#f4704d"/><stop offset="0.357" stop-color="#f05c3c"/><stop offset="0.379" stop-color="#e84530"/><stop offset="0.402" stop-color="#de3227"/><stop offset="0.424" stop-color="#ca1e20"/><stop offset="0.446" stop-color="#b9161e"/><stop offset="0.469" stop-color="#ad131e"/><stop offset="0.491" stop-color="#a7121e"/><stop offset="0.513" stop-color="#af141e"/><stop offset="0.535" stop-color="#bc171e"/><stop offset="0.558" stop-color="#cc1f20"/><stop offset="0.580" stop-color="#da2c25"/><stop offset="0.602" stop-color="#e63f2c"/><stop offset="0.625" stop-color="#ef5638"/><stop offset="0.647" stop-color="#f4734f"/><stop offset="0.669" stop-color="#f78b67"/><stop offset="0.692" stop-color="#f9a181"/><stop offset="0.714" stop-color="#fbb9a0"/><stop offset="0.736" stop-color="#fcd5c3"/><stop offset="0.759" stop-color="#f3edea"/><stop offset="0.781" stop-color="#dfe9f3"/><stop offset="0.803" stop-color="#d8e6f1"/><stop offset="0.826" stop-color="#c1d9ec"/><stop offset="0.848" stop-color="#a2c9e5"/><stop offset="0.870" stop-color="#80b5db"/><stop offset="0.892" stop-color="#609fd1"/><stop offset="0.915" stop-color="#478cc7"/><stop offset="0.937" stop-color="#337bbd"/><stop offset="0.959" stop-color="#226ab2"/><stop offset="0.982" stop-color="#1b61aa"/><stop offset="1.000" stop-color="#195da7"/></linearGradient><linearGradient id="rb51"><stop offset="0.000" stop-color="#0c4284"/><stop offset="0.022" stop-color="#0c4489"/><stop offset="0.045" stop-color="#0e498f"/><stop offset="0.067" stop-color="#115099"/><stop offset="0.089" stop-color="#175aa5"/><stop offset="0.112" stop-color="#2068b0"/><stop offset="0.134" stop-color="#357dbe"/><stop offset="0.156" stop-color="#5698cd"/><stop offset="0.178" stop-color="#7eb3db"/><stop offset="0.201" stop-color="#a7cbe6"/><stop offset="0.223" stop-color="#c5dced"/><stop offset="0.245" stop-color="#e8edf2"/><stop offset="0.268" stop-color="#fbe0d3"/><stop offset="0.290" stop-color="#faac8f"/><stop offset="0.312" stop-color="#f78864"/><stop offset="0.335" stop-color="#f46f4c"/><stop offset="0.357" stop-color="#f05b3b"/><stop offset="0.379" stop-color="#e8442f"/><stop offset="0.402" stop-color="#de3127"/><stop offset="0.424" stop-color="#c91d20"/><stop offset="0.446" stop-color="#b6161e"/><stop offset="0.469" stop-color="#a9121e"/><stop offset="0.491" stop-color="#a0101d"/><stop offset="0.513" stop-color="#a9121e"/><stop offset="0.535" stop-color="#b7161e"/><stop offset="0.558" stop-color="#c91d20"/><stop offset="0.580" stop-color="#d82a24"/><stop offset="0.602" stop-color="#e53d2b"/><stop offset="0.625" stop-color="#ee5437"/><stop offset="0.647" stop-color="#f4714d"/><stop offset="0.669" stop-color="#f78965"/><stop offset="0.692" stop-color="#f9a07f"/><stop offset="0.714" stop-color="#fab89e"/><stop offset="0.736" stop-color="#fcd4c2"/><stop offset="0.759" stop-color="#f4edea"/><stop offset="0.781" stop-color="#dfe9f3"/><stop offset="0.803" stop-color="#d8e6f1"/><stop offset="0.826" stop-color="#c1d9ec"/><stop offset="0.848" stop-color="#a2c9e5"/><stop offset="0.870" stop-color="#80b5db"/><stop offset="0.892" stop-color="#5f9fd0"/><stop offset="0.915" stop-color="#468bc7"/><stop offset="0.937" stop-color="#327abc"/><stop offset="0.959" stop-color="#2169b1"/><stop offset="0.982" stop-color="#1b60a9"/><stop offset="1.000" stop-color="#185ca6"/></linearGradient><linearGradient id="rb52"><stop offset="0.000" stop-color="#0b4082"/><stop offset="0.022" stop-color="#0c4386"/><stop offset="0.045" stop-color="#0d468b"/><stop offset="0.067" stop-color="#104d96"/><stop offset="0.089" stop-color="#1557a3"/><stop offset="0.112" stop-color="#1e64ad"/><stop offset="0.134" stop-color="#3078bb"/><stop offset="0.156" stop-color="#4f92ca"/><stop offset="0.178" stop-color="#76aed8"/><stop offset="0.201" stop-color="#a0c7e4"/><stop offset="0.223" stop-color="#c0d9ec"/><stop offset="0.245" stop-color="#e4ebf4"/><stop offset="0.268" stop-color="#f8e6dd"/><stop offset="0.290" stop-color="#fab398"/><stop offset="0.312" stop-color="#f78b67"/><stop offset="0.335" stop-color="#f4714d"/><stop offset="0.357" stop-color="#f05d3c"/><stop offset="0.379" stop-color="#e94630"/><stop offset="0.402" stop-color="#de3227"/><stop offset="0.424" stop-color="#cb1e20"/><stop offset="0.446" stop-color="#b5151e"/><stop offset="0.469" stop-color="#a3111d"/><stop offset="0.491" stop-color="#980e1c"/><stop offset="0.513" stop-color="#9f101d"/><stop offset="0.535" stop-color="#b0141e"/><stop offset="0.558" stop-color="#c41b1f"/><stop offset="0.580" stop-color="#d52623"/><stop offset="0.602" stop-color="#e33829"/><stop offset="0.625" stop-color="#ec4f35"/><stop offset="0.647" stop-color="#f36b48"/><stop offset="0.669" stop-color="#f7845f"/><stop offset="0.692" stop-color="#f99b7a"/><stop offset="0.714" stop-color="#fab296"/><stop offset="0.736" stop-color="#fccfbc"/><stop offset="0.759" stop-color="#f6ece8"/><stop offset="0.781" stop-color="#e2eaf3"/><stop offset="0.803" stop-color="#d9e6f2"/><stop offset="0.826" stop-color="#c4dbed"/><stop offset="0.848" stop-color="#a7cbe6"/><stop offset="0.870" stop-color="#84b7dd"/><stop offset="0.892" stop-color="#63a1d2"/><stop offset="0.915" stop-color="#488dc7"/><stop offset="0.937" stop-color="#337bbd"/><stop offset="0.959" stop-color="#226ab2"/><stop offset="0.982" stop-color="#1a60a9"/><stop offset="1.000" stop-color="#185ba6"/></linearGradient><linearGradient id="rb53"><stop offset="0.000" stop-color="#0b3f7f"/><stop offset="0.022" stop-color="#0c4183"/><stop offset="0.045" stop-color="#0c4488"/><stop offset="0.067" stop-color="#0f4b92"/><stop offset="0.089" stop-color="#1354a0"/><stop offset="0.112" stop-color="#1b61aa"/><stop offset="0.134" stop-color="#2c74b8"/><stop offset="0.156" stop-color="#488dc7"/><stop offset="0.178" stop-color="#6ea9d5"/><stop offset="0.201" stop-color="#99c3e2"/><stop offset="0.223" stop-color="#bbd6eb"/><stop offset="0.245" stop-color="#dee8f3"/><stop offset="0.268" stop-color="#f6ece8"/><stop offset="0.290" stop-color="#fbbaa1"/><stop offset="0.312" stop-color="#f78e6a"/><stop offset="0.335" stop-color="#f4734f"/><stop offset="0.357" stop-color="#f15e3e"/><stop offset="0.379" stop-color="#e94831"/><stop offset="0.402" stop-color="#df3328"/><stop offset="0.424" stop-color="#cd2021"/><stop offset="0.446" stop-color="#b3151e"/><stop offset="0.469" stop-color="#9b0f1c"/><stop offset="0.491" stop-color="#8d0c1a"/><stop offset="0.513" stop-color="#920d1b"/><stop offset="0.535" stop-color="#a7121e"/><stop offset="0.558" stop-color="#bf181e"/><stop offset="0.580" stop-color="#d12221"/><stop offset="0.602" stop-color="#e03428"/><stop offset="0.625" stop-color="#ea4a32"/><stop offset="0.647" stop-color="#f26543"/><stop offset="0.669" stop-color="#f6805a"/><stop offset="0.692" stop-color="#f89674"/><stop offset="0.714" stop-color="#faad91"/><stop offset="0.736" stop-color="#fbcbb6"/><stop offset="0.759" stop-color="#f8e8e0"/><stop offset="0.781" stop-color="#e7ecf3"/><stop offset="0.803" stop-color="#dae6f2"/><stop offset="0.826" stop-color="#c8deee"/><stop offset="0.848" stop-color="#accee7"/><stop offset="0.870" stop-color="#89bade"/><stop offset="0.892" stop-color="#66a3d3"/><stop offset="0.915" stop-color="#4a8fc8"/><stop offset="0.937" stop-color="#357dbe"/><stop offset="0.959" stop-color="#246cb3"/><stop offset="0.982" stop-color="#1b60aa"/><stop offset="1.000" stop-color="#185ba6"/></linearGradient><linearGradient id="rb54"><stop offset="0.000" stop-color="#0b3d7d"/><stop offset="0.022" stop-color="#0b4081"/><stop offset="0.045" stop-color="#0c4285"/><stop offset="0.067" stop-color="#0e498f"/><stop offset="0.089" stop-color="#12519c"/><stop offset="0.112" stop-color="#195da7"/><stop offset="0.134" stop-color="#276fb5"/><stop offset="0.156" stop-color="#4187c5"/><stop offset="0.178" stop-color="#66a3d3"/><stop offset="0.201" stop-color="#91bfe0"/><stop offset="0.223" stop-color="#b6d3ea"/><stop offset="0.245" stop-color="#d7e5f1"/><stop offset="0.268" stop-color="#f3edeb"/><stop offset="0.290" stop-color="#fbc2aa"/><stop offset="0.312" stop-color="#f8916e"/><stop offset="0.335" stop-color="#f57651"/><stop offset="0.357" stop-color="#f1603f"/><stop offset="0.379" stop-color="#ea4a32"/><stop offset="0.402" stop-color="#e03528"/><stop offset="0.424" stop-color="#cf2121"/><stop offset="0.446" stop-color="#b1141e"/><stop offset="0.469" stop-color="#930d1b"/><stop offset="0.491" stop-color="#810b19"/><stop offset="0.513" stop-color="#840b19"/><stop offset="0.535" stop-color="#9d101c"/><stop offset="0.558" stop-color="#b9161e"/><stop offset="0.580" stop-color="#cd2021"/><stop offset="0.602" stop-color="#dd3026"/><stop offset="0.625" stop-color="#e8442f"/><stop offset="0.647" stop-color="#f15f3e"/><stop offset="0.669" stop-color="#f57b55"/><stop offset="0.692" stop-color="#f8916e"/><stop offset="0.714" stop-color="#faa98b"/><stop offset="0.736" stop-color="#fbc6af"/><stop offset="0.759" stop-color="#f9e3d9"/><stop offset="0.781" stop-color="#eaedf1"/><stop offset="0.803" stop-color="#dbe7f2"/><stop offset="0.826" stop-color="#cce0ef"/><stop offset="0.848" stop-color="#b0d0e8"/><stop offset="0.870" stop-color="#8dbddf"/><stop offset="0.892" stop-color="#6aa6d4"/><stop offset="0.915" stop-color="#4d90c9"/><stop offset="0.937" stop-color="#367ebf"/><stop offset="0.959" stop-color="#256db4"/><stop offset="0.982" stop-color="#1b61aa"/><stop offset="1.000" stop-color="#175ba5"/></linearGradient><linearGradient id="rb55"><stop offset="0.000" stop-color="#0b3c7a"/><stop offset="0.022" stop-color="#0b3e7e"/><stop offset="0.045" stop-color="#0c4182"/><stop offset="0.067" stop-color="#0d468b"/><stop offset="0.089" stop-color="#104e96"/><stop offset="0.112" stop-color="#1759a4"/><stop offset="0.134" stop-color="#2169b1"/><stop offset="0.156" stop-color="#3880c0"/><stop offset="0.178" stop-color="#5b9bcf"/><stop offset="0.201" stop-color="#86b9dd"/><stop offset="0.223" stop-color="#aecfe8"/><stop offset="0.245" stop-color="#cce0ef"/><stop offset="0.268" stop-color="#eeeeee"/><stop offset="0.290" stop-color="#fbcdb8"/><stop offset="0.312" stop-color="#f89877"/><stop offset="0.335" stop-color="#f67b56"/><stop offset="0.357" stop-color="#f26442"/><stop offset="0.379" stop-color="#ec4f34"/><stop offset="0.402" stop-color="#e23729"/><stop offset="0.424" stop-color="#d32322"/><stop offset="0.446" stop-color="#b1141e"/><stop offset="0.469" stop-color="#8d0c1a"/><stop offset="0.491" stop-color="#750918"/><stop offset="0.513" stop-color="#750918"/><stop offset="0.535" stop-color="#930d1b"/><stop offset="0.558" stop-color="#b1141e"/><stop offset="0.580" stop-color="#c81d20"/><stop offset="0.602" stop-color="#d92a24"/><stop offset="0.625" stop-color="#e53d2c"/><stop offset="0.647" stop-color="#ef5638"/><stop offset="0.669" stop-color="#f47450"/><stop offset="0.692" stop-color="#f78a67"/><stop offset="0.714" stop-color="#f9a383"/><stop offset="0.736" stop-color="#fbbea6"/><stop offset="0.759" stop-color="#fcddce"/><stop offset="0.781" stop-color="#eeeeee"/><stop offset="0.803" stop-color="#dce7f2"/><stop offset="0.826" stop-color="#d1e3f0"/><stop offset="0.848" stop-color="#b6d4ea"/><stop offset="0.870" stop-color="#94c1e1"/><stop offset="0.892" stop-color="#70aad6"/><stop offset="0.915" stop-color="#5294cb"/><stop offset="0.937" stop-color="#3981c2"/><stop offset="0.959" stop-color="#2870b6"/><stop offset="0.982" stop-color="#1c62ab"/><stop offset="1.000" stop-color="#175ba5"/></linearGradient><linearGradient id="rb56"><stop offset="0.000" stop-color="#0b3a76"/><stop offset="0.022" stop-color="#0b3c7b"/><stop offset="0.045" stop-color="#0b3f7f"/><stop offset="0.067" stop-color="#0c4385"/><stop offset="0.089" stop-color="#0e4a90"/><stop offset="0.112" stop-color="#1355a1"/><stop offset="0.134" stop-color="#1d63ac"/><stop offset="0.156" stop-color="#2f77ba"/><stop offset="0.178" stop-color="#4f92ca"/><stop offset="0.201" stop-color="#78afd9"/><stop offset="0.223" stop-color="#a2c8e5"/><stop offset="0.245" stop-color="#c3dbed"/><stop offset="0.268" stop-color="#e8edf2"/><stop offset="0.290" stop-color="#fbdfd1"/><stop offset="0.312" stop-color="#f9a789"/><stop offset="0.335" stop-color="#f6825c"/><stop offset="0.357" stop-color="#f26846"/><stop offset="0.379" stop-color="#ee5437"/><stop offset="0.402" stop-color="#e43b2a"/><stop offset="0.424" stop-color="#d62723"/><stop offset="0.446" stop-color="#b4151e"/><stop offset="0.469" stop-color="#8a0c1a"/><stop offset="0.491" stop-color="#6c0818"/><stop offset="0.513" stop-color="#6b0818"/><stop offset="0.535" stop-color="#880b1a"/><stop offset="0.558" stop-color="#a9121e"/><stop offset="0.580" stop-color="#c2191e"/><stop offset="0.602" stop-color="#d42422"/><stop offset="0.625" stop-color="#e13629"/><stop offset="0.647" stop-color="#eb4d33"/><stop offset="0.669" stop-color="#f36a47"/><stop offset="0.692" stop-color="#f6835e"/><stop offset="0.714" stop-color="#f99a79"/><stop offset="0.736" stop-color="#fab499"/><stop offset="0.759" stop-color="#fcd2bf"/><stop offset="0.781" stop-color="#f4edea"/><stop offset="0.803" stop-color="#dee8f2"/><stop offset="0.826" stop-color="#d7e5f1"/><stop offset="0.848" stop-color="#bed8ec"/><stop offset="0.870" stop-color="#9ec6e3"/><stop offset="0.892" stop-color="#7ab1d9"/><stop offset="0.915" stop-color="#599ace"/><stop offset="0.937" stop-color="#3e85c4"/><stop offset="0.959" stop-color="#2c74b8"/><stop offset="0.982" stop-color="#1d64ad"/><stop offset="1.000" stop-color="#185ba6"/></linearGradient><linearGradient id="rb57"><stop offset="0.000" stop-color="#0a3873"/><stop offset="0.022" stop-color="#0b3a77"/><stop offset="0.045" stop-color="#0b3d7c"/><stop offset="0.067" stop-color="#0b3f80"/><stop offset="0.089" stop-color="#0d468b"/><stop offset="0.112" stop-color="#11509a"/><stop offset="0.134" stop-color="#195da7"/><stop offset="0.156" stop-color="#276fb5"/><stop offset="0.178" stop-color="#4389c5"/><stop offset="0.201" stop-color="#69a6d4"/><stop offset="0.223" stop-color="#96c1e1"/><stop offset="0.245" stop-color="#bad5ea"/><stop offset="0.268" stop-color="#dee8f3"/><stop offset="0.290" stop-color="#f6ebe6"/><stop offset="0.312" stop-color="#fab69c"/><stop offset="0.335" stop-color="#f78864"/><stop offset="0.357" stop-color="#f36d4a"/><stop offset="0.379" stop-color="#ef5839"/><stop offset="0.402" stop-color="#e6402d"/><stop offset="0.424" stop-color="#d82a24"/><stop offset="0.446" stop-color="#ba161e"/><stop offset="0.469" stop-color="#8a0c1a"/><stop offset="0.491" stop-color="#6a0818"/><stop offset="0.513" stop-color="#6a0818"/><stop offset="0.535" stop-color="#7f0a19"/><stop offset="0.558" stop-color="#a1111d"/><stop offset="0.580" stop-color="#bc171e"/><stop offset="0.602" stop-color="#ce2021"/><stop offset="0.625" stop-color="#dd3026"/><stop offset="0.647" stop-color="#e8442f"/><stop offset="0.669" stop-color="#f1603f"/><stop offset="0.692" stop-color="#f67b56"/><stop offset="0.714" stop-color="#f8926f"/><stop offset="0.736" stop-color="#faaa8d"/><stop offset="0.759" stop-color="#fbc9b4"/><stop offset="0.781" stop-color="#f8e8e0"/><stop offset="0.803" stop-color="#e6ecf4"/><stop offset="0.826" stop-color="#d9e6f2"/><stop offset="0.848" stop-color="#c6dced"/><stop offset="0.870" stop-color="#a8cbe6"/><stop offset="0.892" stop-color="#83b7dc"/><stop offset="0.915" stop-color="#609fd1"/><stop offset="0.937" stop-color="#448ac6"/><stop offset="0.959" stop-color="#3078bb"/><stop offset="0.982" stop-color="#1f67af"/><stop offset="1.000" stop-color="#195da8"/></linearGradient><linearGradient id="rb58"><stop offset="0.000" stop-color="#0a3771"/><stop offset="0.022" stop-color="#0a3974"/><stop offset="0.045" stop-color="#0b3b79"/><stop offset="0.067" stop-color="#0b3e7d"/><stop offset="0.089" stop-color="#0c4387"/><stop offset="0.112" stop-color="#104c94"/><stop offset="0.134" stop-color="#1658a3"/><stop offset="0.156" stop-color="#2169b1"/><stop offset="0.178" stop-color="#3981c1"/><stop offset="0.201" stop-color="#5d9dd0"/><stop offset="0.223" stop-color="#8abbdf"/><stop offset="0.245" stop-color="#b2d1e8"/><stop offset="0.268" stop-color="#d4e4f1"/><stop offset="0.290" stop-color="#f1edeb"/><stop offset="0.312" stop-color="#fbc2ab"/><stop offset="0.335" stop-color="#f78e6b"/><stop offset="0.357" stop-color="#f4734e"/><stop offset="0.379" stop-color="#f05b3b"/><stop offset="0.402" stop-color="#e8452f"/><stop offset="0.424" stop-color="#da2d25"/><stop offset="0.446" stop-color="#bf181e"/><stop offset="0.469" stop-color="#8c0c1a"/><stop offset="0.491" stop-color="#6a0818"/><stop offset="0.513" stop-color="#6a0818"/><stop offset="0.535" stop-color="#790919"/><stop offset="0.558" stop-color="#9c0f1c"/><stop offset="0.580" stop-color="#b6161e"/><stop offset="0.602" stop-color="#c91d20"/><stop offset="0.625" stop-color="#d92a24"/><stop offset="0.647" stop-color="#e53d2b"/><stop offset="0.669" stop-color="#ef5739"/><stop offset="0.692" stop-color="#f47450"/><stop offset="0.714" stop-color="#f78b67"/><stop offset="0.736" stop-color="#f9a485"/><stop offset="0.759" stop-color="#fbc2aa"/><stop offset="0.781" stop-color="#fae1d5"/><stop offset="0.803" stop-color="#ebedf0"/><stop offset="0.826" stop-color="#dae7f2"/><stop offset="0.848" stop-color="#cce0ef"/><stop offset="0.870" stop-color="#b0d0e8"/><stop offset="0.892" stop-color="#8bbcdf"/><stop offset="0.915" stop-color="#66a3d3"/><stop offset="0.937" stop-color="#498dc8"/><stop offset="0.959" stop-color="#337bbd"/><stop offset="0.982" stop-color="#2169b1"/><stop offset="1.000" stop-color="#1a5fa9"/></linearGradient><linearGradient id="rb59"><stop offset="0.000" stop-color="#0a3670"/><stop offset="0.022" stop-color="#0a3772"/><stop offset="0.045" stop-color="#0b3a76"/><stop offset="0.067" stop-color="#0b3c7b"/><stop offset="0.089" stop-color="#0c4183"/><stop offset="0.112" stop-color="#0e488f"/><stop offset="0.134" stop-color="#1355a0"/><stop offset="0.156" stop-color="#1d64ad"/><stop offset="0.178" stop-color="#327abd"/><stop offset="0.201" stop-color="#5496cc"/><stop offset="0.223" stop-color="#7fb4db"/><stop offset="0.245" stop-color="#a9cce6"/><stop offset="0.268" stop-color="#c9deee"/><stop offset="0.290" stop-color="#edeeef"/><stop offset="0.312" stop-color="#fccebb"/><stop offset="0.335" stop-color="#f89775"/><stop offset="0.357" stop-color="#f57853"/><stop offset="0.379" stop-color="#f15f3e"/><stop offset="0.402" stop-color="#ea4932"/><stop offset="0.424" stop-color="#dc3026"/><stop offset="0.446" stop-color="#c51b1f"/><stop offset="0.469" stop-color="#900d1b"/><stop offset="0.491" stop-color="#6b0818"/><stop offset="0.513" stop-color="#6a0818"/><stop offset="0.535" stop-color="#760919"/><stop offset="0.558" stop-color="#990f1c"/><stop offset="0.580" stop-color="#b1141e"/><stop offset="0.602" stop-color="#c41a1f"/><stop offset="0.625" stop-color="#d52522"/><stop offset="0.647" stop-color="#e23729"/><stop offset="0.669" stop-color="#ec4f35"/><stop offset="0.692" stop-color="#f36e4a"/><stop offset="0.714" stop-color="#f78560"/><stop offset="0.736" stop-color="#f99e7d"/><stop offset="0.759" stop-color="#fbbaa0"/><stop offset="0.781" stop-color="#fcdac9"/><stop offset="0.803" stop-color="#efeeed"/><stop offset="0.826" stop-color="#dce7f2"/><stop offset="0.848" stop-color="#d1e3f0"/><stop offset="0.870" stop-color="#b6d3e9"/><stop offset="0.892" stop-color="#92bfe0"/><stop offset="0.915" stop-color="#6da8d5"/><stop offset="0.937" stop-color="#4e92ca"/><stop offset="0.959" stop-color="#367ebf"/><stop offset="0.982" stop-color="#246cb3"/><stop offset="1.000" stop-color="#1b60aa"/></linearGradient><linearGradient id="rb60"><stop offset="0.000" stop-color="#0a3670"/><stop offset="0.022" stop-color="#0a3771"/><stop offset="0.045" stop-color="#0a3975"/><stop offset="0.067" stop-color="#0b3c7a"/><stop offset="0.089" stop-color="#0b4080"/><stop offset="0.112" stop-color="#0d468c"/><stop offset="0.134" stop-color="#12529d"/><stop offset="0.156" stop-color="#1b60aa"/><stop offset="0.178" stop-color="#2c74b8"/><stop offset="0.201" stop-color="#4c90c9"/><stop offset="0.223" stop-color="#75add8"/><stop offset="0.245" stop-color="#a0c7e4"/><stop offset="0.268" stop-color="#c2daec"/><stop offset="0.290" stop-color="#e8edf2"/><stop offset="0.312" stop-color="#fbdecf"/><stop offset="0.335" stop-color="#f9a485"/><stop offset="0.357" stop-color="#f67e58"/><stop offset="0.379" stop-color="#f26442"/><stop offset="0.402" stop-color="#ec4e34"/><stop offset="0.424" stop-color="#e03428"/><stop offset="0.446" stop-color="#cb1e20"/><stop offset="0.469" stop-color="#9c101c"/><stop offset="0.491" stop-color="#740918"/><stop offset="0.513" stop-color="#6c0818"/><stop offset="0.535" stop-color="#7a0a19"/><stop offset="0.558" stop-color="#980f1c"/><stop offset="0.580" stop-color="#ae141e"/><stop offset="0.602" stop-color="#c1191e"/><stop offset="0.625" stop-color="#d12221"/><stop offset="0.647" stop-color="#df3328"/><stop offset="0.669" stop-color="#ea4932"/><stop offset="0.692" stop-color="#f26745"/><stop offset="0.714" stop-color="#f6805a"/><stop offset="0.736" stop-color="#f89876"/><stop offset="0.759" stop-color="#fab297"/><stop offset="0.781" stop-color="#fcd1be"/><stop offset="0.803" stop-color="#f4edea"/><stop offset="0.826" stop-color="#dde8f2"/><stop offset="0.848" stop-color="#d6e5f1"/><stop offset="0.870" stop-color="#bcd7eb"/><stop offset="0.892" stop-color="#9ac4e3"/><stop offset="0.915" stop-color="#76aed8"/><stop offset="0.937" stop-color="#5497cc"/><stop offset="0.959" stop-color="#3a82c2"/><stop offset="0.982" stop-color="#2870b6"/><stop offset="1.000" stop-color="#1d63ac"/></linearGradient><linearGradient id="rb61"><stop offset="0.000" stop-color="#0a3670"/><stop offset="0.022" stop-color="#0a3771"/><stop offset="0.045" stop-color="#0a3976"/><stop offset="0.067" stop-color="#0b3c7a"/><stop offset="0.089" stop-color="#0b4082"/><stop offset="0.112" stop-color="#0e478d"/><stop offset="0.134" stop-color="#13539f"/><stop offset="0.156" stop-color="#1c63ac"/><stop offset="0.178" stop-color="#3078bb"/><stop offset="0.201" stop-color="#5194cb"/><stop offset="0.223" stop-color="#7bb1da"/><stop offset="0.245" stop-color="#a6cae5"/><stop offset="0.268" stop-color="#c6dcee"/><stop offset="0.290" stop-color="#ebedf0"/><stop offset="0.312" stop-color="#fcd5c2"/><stop offset="0.335" stop-color="#f99c7b"/><stop offset="0.357" stop-color="#f57a55"/><stop offset="0.379" stop-color="#f16140"/><stop offset="0.402" stop-color="#eb4c33"/><stop offset="0.424" stop-color="#de3227"/><stop offset="0.446" stop-color="#cb1e20"/><stop offset="0.469" stop-color="#9e101d"/><stop offset="0.491" stop-color="#7b0a19"/><stop offset="0.513" stop-color="#730918"/><stop offset="0.535" stop-color="#800a19"/><stop offset="0.558" stop-color="#9c0f1c"/><stop offset="0.580" stop-color="#b1141e"/><stop offset="0.602" stop-color="#c31a1f"/><stop offset="0.625" stop-color="#d42422"/><stop offset="0.647" stop-color="#e13628"/><stop offset="0.669" stop-color="#eb4d34"/><stop offset="0.692" stop-color="#f36b48"/><stop offset="0.714" stop-color="#f6835e"/><stop offset="0.736" stop-color="#f99b7b"/><stop offset="0.759" stop-color="#fab79d"/><stop offset="0.781" stop-color="#fcd6c4"/><stop offset="0.803" stop-color="#f1edec"/><stop offset="0.826" stop-color="#dce8f2"/><stop offset="0.848" stop-color="#d3e3f1"/><stop offset="0.870" stop-color="#b8d5ea"/><stop offset="0.892" stop-color="#95c1e1"/><stop offset="0.915" stop-color="#70aad6"/><stop offset="0.937" stop-color="#5093cb"/><stop offset="0.959" stop-color="#377fc0"/><stop offset="0.982" stop-color="#266eb4"/><stop offset="1.000" stop-color="#1c61ab"/></linearGradient><linearGradient id="rb62"><stop offset="0.000" stop-color="#0a3670"/><stop offset="0.022" stop-color="#0a3772"/><stop offset="0.045" stop-color="#0b3a77"/><stop offset="0.067" stop-color="#0b3d7b"/><stop offset="0.089" stop-color="#0c4285"/><stop offset="0.112" stop-color="#0f4a92"/><stop offset="0.134" stop-color="#1557a2"/><stop offset="0.156" stop-color="#1f67af"/><stop offset="0.178" stop-color="#367ebf"/><stop offset="0.201" stop-color="#5a9bce"/><stop offset="0.223" stop-color="#86b9dd"/><stop offset="0.245" stop-color="#afd0e8"/><stop offset="0.268" stop-color="#d1e2f0"/><stop offset="0.290" stop-color="#f0edec"/><stop offset="0.312" stop-color="#fbc5ae"/><stop offset="0.335" stop-color="#f78f6c"/><stop offset="0.357" stop-color="#f4734f"/><stop offset="0.379" stop-color="#f05c3b"/><stop offset="0.402" stop-color="#e84630"/><stop offset="0.424" stop-color="#dc2f26"/><stop offset="0.446" stop-color="#c71c1f"/><stop offset="0.469" stop-color="#a0101d"/><stop offset="0.491" stop-color="#810b19"/><stop offset="0.513" stop-color="#7d0a19"/><stop offset="0.535" stop-color="#890c1a"/><stop offset="0.558" stop-color="#a1111d"/><stop offset="0.580" stop-color="#b6151e"/><stop offset="0.602" stop-color="#c71c1f"/><stop offset="0.625" stop-color="#d72824"/><stop offset="0.647" stop-color="#e43a2a"/><stop offset="0.669" stop-color="#ee5437"/><stop offset="0.692" stop-color="#f4724e"/><stop offset="0.714" stop-color="#f78864"/><stop offset="0.736" stop-color="#f9a282"/><stop offset="0.759" stop-color="#fbbfa7"/><stop offset="0.781" stop-color="#fbdfd1"/><stop offset="0.803" stop-color="#eceeef"/><stop offset="0.826" stop-color="#dae7f2"/><stop offset="0.848" stop-color="#cde1ef"/><stop offset="0.870" stop-color="#b1d1e8"/><stop offset="0.892" stop-color="#8cbcdf"/><stop offset="0.915" stop-color="#67a4d3"/><stop offset="0.937" stop-color="#498ec8"/><stop offset="0.959" stop-color="#337bbd"/><stop offset="0.982" stop-color="#2169b1"/><stop offset="1.000" stop-color="#1a5fa9"/></linearGradient><linearGradient id="rb63"><stop offset="0.000" stop-color="#0a3670"/><stop offset="0.022" stop-color="#0a3874"/><stop offset="0.045" stop-color="#0b3b78"/><stop offset="0.067" stop-color="#0b3d7c"/><stop offset="0.089" stop-color="#0c4487"/><stop offset="0.112" stop-color="#104d96"/><stop offset="0.134" stop-color="#175aa5"/><stop offset="0.156" stop-color="#246cb3"/><stop offset="0.178" stop-color="#3e85c4"/><stop offset="0.201" stop-color="#64a2d2"/><stop offset="0.223" stop-color="#91bfe0"/><stop offset="0.245" stop-color="#b7d4ea"/><stop offset="0.268" stop-color="#dbe7f2"/><stop offset="0.290" stop-color="#f5ece8"/><stop offset="0.312" stop-color="#fbb89e"/><stop offset="0.335" stop-color="#f78864"/><stop offset="0.357" stop-color="#f36c49"/><stop offset="0.379" stop-color="#ef5738"/><stop offset="0.402" stop-color="#e6402d"/><stop offset="0.424" stop-color="#da2c25"/><stop offset="0.446" stop-color="#c31a1f"/><stop offset="0.469" stop-color="#a2111d"/><stop offset="0.491" stop-color="#8a0c1a"/><stop offset="0.513" stop-color="#850b1a"/><stop offset="0.535" stop-color="#920d1b"/><stop offset="0.558" stop-color="#a7121e"/><stop offset="0.580" stop-color="#ba171e"/><stop offset="0.602" stop-color="#cb1f20"/><stop offset="0.625" stop-color="#da2d25"/><stop offset="0.647" stop-color="#e6402d"/><stop offset="0.669" stop-color="#f05b3b"/><stop offset="0.692" stop-color="#f57752"/><stop offset="0.714" stop-color="#f78e6b"/><stop offset="0.736" stop-color="#f9a789"/><stop offset="0.759" stop-color="#fbc6b0"/><stop offset="0.781" stop-color="#f8e6dd"/><stop offset="0.803" stop-color="#e7ecf3"/><stop offset="0.826" stop-color="#d9e6f2"/><stop offset="0.848" stop-color="#c7ddee"/><stop offset="0.870" stop-color="#a8cce6"/><stop offset="0.892" stop-color="#83b7dc"/><stop offset="0.915" stop-color="#5f9fd0"/><stop offset="0.937" stop-color="#4389c5"/><stop offset="0.959" stop-color="#2f77ba"/><stop offset="0.982" stop-color="#1f66ae"/><stop offset="1.000" stop-color="#185ca6"/></linearGradient><linearGradient id="rb64"><stop offset="0.000" stop-color="#0a3670"/><stop offset="0.022" stop-color="#0a3974"/><stop offset="0.045" stop-color="#0b3b79"/><stop offset="0.067" stop-color="#0b3e7f"/><stop offset="0.089" stop-color="#0d458a"/><stop offset="0.112" stop-color="#11509a"/><stop offset="0.134" stop-color="#195ea8"/><stop offset="0.156" stop-color="#2971b6"/><stop offset="0.178" stop-color="#468bc7"/><stop offset="0.201" stop-color="#6ea9d5"/><stop offset="0.223" stop-color="#9ac4e3"/><stop offset="0.245" stop-color="#bdd7eb"/><stop offset="0.268" stop-color="#e4ebf4"/><stop offset="0.290" stop-color="#f9e4da"/><stop offset="0.312" stop-color="#faac90"/><stop offset="0.335" stop-color="#f6825d"/><stop offset="0.357" stop-color="#f26745"/><stop offset="0.379" stop-color="#ed5236"/><stop offset="0.402" stop-color="#e43b2a"/><stop offset="0.424" stop-color="#d82924"/><stop offset="0.446" stop-color="#bf181e"/><stop offset="0.469" stop-color="#a4111d"/><stop offset="0.491" stop-color="#910d1b"/><stop offset="0.513" stop-color="#8d0c1a"/><stop offset="0.535" stop-color="#9a0f1c"/><stop offset="0.558" stop-color="#ab131e"/><stop offset="0.580" stop-color="#be181e"/><stop offset="0.602" stop-color="#cf2121"/><stop offset="0.625" stop-color="#dd3127"/><stop offset="0.647" stop-color="#e84530"/><stop offset="0.669" stop-color="#f16241"/><stop offset="0.692" stop-color="#f67c57"/><stop offset="0.714" stop-color="#f89472"/><stop offset="0.736" stop-color="#faad90"/><stop offset="0.759" stop-color="#fbcdb8"/><stop offset="0.781" stop-color="#f6ece7"/><stop offset="0.803" stop-color="#e0e9f3"/><stop offset="0.826" stop-color="#d7e5f1"/><stop offset="0.848" stop-color="#c0d9ec"/><stop offset="0.870" stop-color="#a0c7e4"/><stop offset="0.892" stop-color="#7bb2da"/><stop offset="0.915" stop-color="#599ace"/><stop offset="0.937" stop-color="#3e85c3"/><stop offset="0.959" stop-color="#2b73b8"/><stop offset="0.982" stop-color="#1d63ac"/><stop offset="1.000" stop-color="#175aa5"/></linearGradient><linearGradient id="rb65"><stop offset="0.000" stop-color="#0a3771"/><stop offset="0.022" stop-color="#0a3975"/><stop offset="0.045" stop-color="#0b3c7a"/><stop offset="0.067" stop-color="#0b4081"/><stop offset="0.089" stop-color="#0d478c"/><stop offset="0.112" stop-color="#12529d"/><stop offset="0.134" stop-color="#1b61aa"/><stop offset="0.156" stop-color="#2d75b9"/><stop offset="0.178" stop-color="#4c90c9"/><stop offset="0.201" stop-color="#76aed8"/><stop offset="0.223" stop-color="#a1c8e4"/><stop offset="0.245" stop-color="#c3daed"/><stop offset="0.268" stop-color="#e9edf2"/><stop offset="0.290" stop-color="#fcdccd"/><stop offset="0.312" stop-color="#f9a383"/><stop offset="0.335" stop-color="#f67d57"/><stop offset="0.357" stop-color="#f26342"/><stop offset="0.379" stop-color="#ec4f34"/><stop offset="0.402" stop-color="#e23729"/><stop offset="0.424" stop-color="#d62623"/><stop offset="0.446" stop-color="#bb171e"/><stop offset="0.469" stop-color="#a5111e"/><stop offset="0.491" stop-color="#970e1c"/><stop offset="0.513" stop-color="#920d1b"/><stop offset="0.535" stop-color="#a0101d"/><stop offset="0.558" stop-color="#b0141e"/><stop offset="0.580" stop-color="#c1191e"/><stop offset="0.602" stop-color="#d22322"/><stop offset="0.625" stop-color="#df3428"/><stop offset="0.647" stop-color="#ea4a32"/><stop offset="0.669" stop-color="#f26745"/><stop offset="0.692" stop-color="#f6805b"/><stop offset="0.714" stop-color="#f89877"/><stop offset="0.736" stop-color="#fab398"/><stop offset="0.759" stop-color="#fcd2bf"/><stop offset="0.781" stop-color="#f3edea"/><stop offset="0.803" stop-color="#dde8f2"/><stop offset="0.826" stop-color="#d5e4f1"/><stop offset="0.848" stop-color="#bbd6eb"/><stop offset="0.870" stop-color="#99c4e2"/><stop offset="0.892" stop-color="#75add8"/><stop offset="0.915" stop-color="#5496cc"/><stop offset="0.937" stop-color="#3981c2"/><stop offset="0.959" stop-color="#2870b5"/><stop offset="0.982" stop-color="#1b61aa"/><stop offset="1.000" stop-color="#1658a3"/></linearGradient><linearGradient id="rb66"><stop offset="0.000" stop-color="#0a3772"/><stop offset="0.022" stop-color="#0a3976"/><stop offset="0.045" stop-color="#0b3c7b"/><stop offset="0.067" stop-color="#0c4183"/><stop offset="0.089" stop-color="#0e488e"/><stop offset="0.112" stop-color="#1354a0"/><stop offset="0.134" stop-color="#1d64ad"/><stop offset="0.156" stop-color="#327abc"/><stop offset="0.178" stop-color="#5395cc"/><stop offset="0.201" stop-color="#7eb3db"/><stop offset="0.223" stop-color="#a8cce6"/><stop offset="0.245" stop-color="#c8deee"/><stop offset="0.268" stop-color="#eceeef"/><stop offset="0.290" stop-color="#fcd0bc"/><stop offset="0.312" stop-color="#f89877"/><stop offset="0.335" stop-color="#f57853"/><stop offset="0.357" stop-color="#f1603f"/><stop offset="0.379" stop-color="#ea4b32"/><stop offset="0.402" stop-color="#e03528"/><stop offset="0.424" stop-color="#d32322"/><stop offset="0.446" stop-color="#b8161e"/><stop offset="0.469" stop-color="#a4111d"/><stop offset="0.491" stop-color="#9a0f1c"/><stop offset="0.513" stop-color="#970e1c"/><stop offset="0.535" stop-color="#a5111e"/><stop offset="0.558" stop-color="#b4151e"/><stop offset="0.580" stop-color="#c41a1f"/><stop offset="0.602" stop-color="#d52522"/><stop offset="0.625" stop-color="#e23729"/><stop offset="0.647" stop-color="#ec4f34"/><stop offset="0.669" stop-color="#f36d4a"/><stop offset="0.692" stop-color="#f78460"/><stop offset="0.714" stop-color="#f99d7d"/><stop offset="0.736" stop-color="#fbb99f"/><stop offset="0.759" stop-color="#fcd9c8"/><stop offset="0.781" stop-color="#f0eeed"/><stop offset="0.803" stop-color="#dce7f2"/><stop offset="0.826" stop-color="#d2e3f0"/><stop offset="0.848" stop-color="#b6d4ea"/><stop offset="0.870" stop-color="#93c0e1"/><stop offset="0.892" stop-color="#6ea9d5"/><stop offset="0.915" stop-color="#4f92ca"/><stop offset="0.937" stop-color="#367ebf"/><stop offset="0.959" stop-color="#256db3"/><stop offset="0.982" stop-color="#1a5fa9"/><stop offset="1.000" stop-color="#1557a2"/></linearGradient><linearGradient id="rb67"><stop offset="0.000" stop-color="#0a3772"/><stop offset="0.022" stop-color="#0b3a77"/><stop offset="0.045" stop-color="#0b3d7b"/><stop offset="0.067" stop-color="#0c4285"/><stop offset="0.089" stop-color="#0f4a92"/><stop offset="0.112" stop-color="#1556a2"/><stop offset="0.134" stop-color="#1f67af"/><stop offset="0.156" stop-color="#367ebf"/><stop offset="0.178" stop-color="#5a9bce"/><stop offset="0.201" stop-color="#86b9dd"/><stop offset="0.223" stop-color="#afd0e8"/><stop offset="0.245" stop-color="#d1e2f0"/><stop offset="0.268" stop-color="#f0edec"/><stop offset="0.290" stop-color="#fbc5ae"/><stop offset="0.312" stop-color="#f78f6c"/><stop offset="0.335" stop-color="#f4734f"/><stop offset="0.357" stop-color="#f05c3b"/><stop offset="0.379" stop-color="#e94730"/><stop offset="0.402" stop-color="#de3227"/><stop offset="0.424" stop-color="#cf2121"/><stop offset="0.446" stop-color="#b5151e"/><stop offset="0.469" stop-color="#a3111d"/><stop offset="0.491" stop-color="#9c0f1c"/><stop offset="0.513" stop-color="#9c0f1c"/><stop offset="0.535" stop-color="#a8121e"/><stop offset="0.558" stop-color="#b7161e"/><stop offset="0.580" stop-color="#c71c1f"/><stop offset="0.602" stop-color="#d72824"/><stop offset="0.625" stop-color="#e43a2a"/><stop offset="0.647" stop-color="#ee5437"/><stop offset="0.669" stop-color="#f4724e"/><stop offset="0.692" stop-color="#f78864"/><stop offset="0.714" stop-color="#f9a282"/><stop offset="0.736" stop-color="#fbbfa7"/><stop offset="0.759" stop-color="#fbdfd1"/><stop offset="0.781" stop-color="#eceeef"/><stop offset="0.803" stop-color="#dae7f2"/><stop offset="0.826" stop-color="#cee1ef"/><stop offset="0.848" stop-color="#b1d1e8"/><stop offset="0.870" stop-color="#8cbcdf"/><stop offset="0.892" stop-color="#67a4d3"/><stop offset="0.915" stop-color="#498ec8"/><stop offset="0.937" stop-color="#337bbd"/><stop offset="0.959" stop-color="#2169b1"/><stop offset="0.982" stop-color="#195da7"/><stop offset="1.000" stop-color="#1456a2"/></linearGradient><linearGradient id="rb68"><stop offset="0.000" stop-color="#0a3873"/><stop offset="0.022" stop-color="#0b3a77"/><stop offset="0.045" stop-color="#0b3d7c"/><stop offset="0.067" stop-color="#0c4386"/><stop offset="0.089" stop-color="#104c94"/><stop offset="0.112" stop-color="#1658a3"/><stop offset="0.134" stop-color="#2169b1"/><stop offset="0.156" stop-color="#3a82c2"/><stop offset="0.178" stop-color="#5f9fd0"/><stop offset="0.201" stop-color="#8cbcdf"/><stop offset="0.223" stop-color="#b4d2e9"/><stop offset="0.245" stop-color="#d6e5f1"/><stop offset="0.268" stop-color="#f3edea"/><stop offset="0.290" stop-color="#fbbea6"/><stop offset="0.312" stop-color="#f78b67"/><stop offset="0.335" stop-color="#f46f4c"/><stop offset="0.357" stop-color="#f05939"/><stop offset="0.379" stop-color="#e7432f"/><stop offset="0.402" stop-color="#dc2f26"/><stop offset="0.424" stop-color="#cb1f20"/><stop offset="0.446" stop-color="#b4151e"/><stop offset="0.469" stop-color="#a3111d"/><stop offset="0.491" stop-color="#9d101c"/><stop offset="0.513" stop-color="#9f101d"/><stop offset="0.535" stop-color="#ab131e"/><stop offset="0.558" stop-color="#ba161e"/><stop offset="0.580" stop-color="#c91e20"/><stop offset="0.602" stop-color="#d92b24"/><stop offset="0.625" stop-color="#e53d2c"/><stop offset="0.647" stop-color="#ef5839"/><stop offset="0.669" stop-color="#f47550"/><stop offset="0.692" stop-color="#f78c68"/><stop offset="0.714" stop-color="#f9a586"/><stop offset="0.736" stop-color="#fbc3ac"/><stop offset="0.759" stop-color="#f9e3d8"/><stop offset="0.781" stop-color="#e9edf1"/><stop offset="0.803" stop-color="#dae6f2"/><stop offset="0.826" stop-color="#cadeee"/><stop offset="0.848" stop-color="#accee7"/><stop offset="0.870" stop-color="#87b9de"/><stop offset="0.892" stop-color="#63a1d2"/><stop offset="0.915" stop-color="#458bc6"/><stop offset="0.937" stop-color="#3179bc"/><stop offset="0.959" stop-color="#1f67af"/><stop offset="0.982" stop-color="#185ba6"/><stop offset="1.000" stop-color="#1455a1"/></linearGradient><linearGradient id="rb69"><stop offset="0.000" stop-color="#0a3874"/><stop offset="0.022" stop-color="#0b3b78"/><stop offset="0.045" stop-color="#0b3d7d"/><stop offset="0.067" stop-color="#0c4488"/><stop offset="0.089" stop-color="#104d96"/><stop offset="0.112" stop-color="#175aa5"/><stop offset="0.134" stop-color="#246cb3"/><stop offset="0.156" stop-color="#3e85c4"/><stop offset="0.178" stop-color="#65a2d2"/><stop offset="0.201" stop-color="#92bfe0"/><stop offset="0.223" stop-color="#b7d4ea"/><stop offset="0.245" stop-color="#dbe7f2"/><stop offset="0.268" stop-color="#f6ece8"/><stop offset="0.290" stop-color="#fab89e"/><stop offset="0.312" stop-color="#f78863"/><stop offset="0.335" stop-color="#f36c49"/><stop offset="0.357" stop-color="#ef5638"/><stop offset="0.379" stop-color="#e6402d"/><stop offset="0.402" stop-color="#db2e25"/><stop offset="0.424" stop-color="#c81d20"/><stop offset="0.446" stop-color="#b2141e"/><stop offset="0.469" stop-color="#a3111d"/><stop offset="0.491" stop-color="#9e101d"/><stop offset="0.513" stop-color="#a1111d"/><stop offset="0.535" stop-color="#ac131e"/><stop offset="0.558" stop-color="#bc171e"/><stop offset="0.580" stop-color="#cb1f20"/><stop offset="0.602" stop-color="#da2d25"/><stop offset="0.625" stop-color="#e6402d"/><stop offset="0.647" stop-color="#f05b3b"/><stop offset="0.669" stop-color="#f57853"/><stop offset="0.692" stop-color="#f78f6c"/><stop offset="0.714" stop-color="#f9a88a"/><stop offset="0.736" stop-color="#fbc7b1"/><stop offset="0.759" stop-color="#f8e6dd"/><stop offset="0.781" stop-color="#e7ecf3"/><stop offset="0.803" stop-color="#d9e6f2"/><stop offset="0.826" stop-color="#c6ddee"/><stop offset="0.848" stop-color="#a8cbe6"/><stop offset="0.870" stop-color="#83b7dc"/><stop offset="0.892" stop-color="#5f9fd0"/><stop offset="0.915" stop-color="#4389c5"/><stop offset="0.937" stop-color="#2f77ba"/><stop offset="0.959" stop-color="#1e66ae"/><stop offset="0.982" stop-color="#175aa5"/><stop offset="1.000" stop-color="#1355a1"/></linearGradient><linearGradient id="rb70"><stop offset="0.000" stop-color="#0a3874"/><stop offset="0.022" stop-color="#0b3b78"/><stop offset="0.045" stop-color="#0b3e7e"/><stop offset="0.067" stop-color="#0c4589"/><stop offset="0.089" stop-color="#114f98"/><stop offset="0.112" stop-color="#185ca6"/><stop offset="0.134" stop-color="#276fb5"/><stop offset="0.156" stop-color="#4389c5"/><stop offset="0.178" stop-color="#6aa6d4"/><stop offset="0.201" stop-color="#97c2e2"/><stop offset="0.223" stop-color="#bbd6eb"/><stop offset="0.245" stop-color="#e0e9f3"/><stop offset="0.268" stop-color="#f8e8e0"/><stop offset="0.290" stop-color="#fab196"/><stop offset="0.312" stop-color="#f78460"/><stop offset="0.335" stop-color="#f36947"/><stop offset="0.357" stop-color="#ee5437"/><stop offset="0.379" stop-color="#e53d2c"/><stop offset="0.402" stop-color="#da2c25"/><stop offset="0.424" stop-color="#c51b1f"/><stop offset="0.446" stop-color="#b0141e"/><stop offset="0.469" stop-color="#a3111d"/><stop offset="0.491" stop-color="#9d101c"/><stop offset="0.513" stop-color="#a3111d"/><stop offset="0.535" stop-color="#ae131e"/><stop offset="0.558" stop-color="#be171e"/><stop offset="0.580" stop-color="#cd2021"/><stop offset="0.602" stop-color="#dc2f26"/><stop offset="0.625" stop-color="#e7432f"/><stop offset="0.647" stop-color="#f15f3e"/><stop offset="0.669" stop-color="#f57a55"/><stop offset="0.692" stop-color="#f8926f"/><stop offset="0.714" stop-color="#faaa8d"/><stop offset="0.736" stop-color="#fbcab5"/><stop offset="0.759" stop-color="#f7e9e3"/><stop offset="0.781" stop-color="#e4ebf4"/><stop offset="0.803" stop-color="#d8e6f1"/><stop offset="0.826" stop-color="#c3dbed"/><stop offset="0.848" stop-color="#a3c9e5"/><stop offset="0.870" stop-color="#7fb4db"/><stop offset="0.892" stop-color="#5b9ccf"/><stop offset="0.915" stop-color="#4086c4"/><stop offset="0.937" stop-color="#2d75b9"/><stop offset="0.959" stop-color="#1d64ad"/><stop offset="0.982" stop-color="#1659a4"/><stop offset="1.000" stop-color="#1354a0"/></linearGradient><linearGradient id="rb71"><stop offset="0.000" stop-color="#0a3975"/><stop offset="0.022" stop-color="#0b3b79"/><stop offset="0.045" stop-color="#0b3f7f"/><stop offset="0.067" stop-color="#0d458a"/><stop offset="0.089" stop-color="#11509a"/><stop offset="0.112" stop-color="#1a5ea8"/><stop offset="0.134" stop-color="#2971b6"/><stop offset="0.156" stop-color="#478cc7"/><stop offset="0.178" stop-color="#6fa9d6"/><stop offset="0.201" stop-color="#9bc5e3"/><stop offset="0.223" stop-color="#bed8ec"/><stop offset="0.245" stop-color="#e5ecf4"/><stop offset="0.268" stop-color="#f9e3d8"/><stop offset="0.290" stop-color="#faab8e"/><stop offset="0.312" stop-color="#f6815c"/><stop offset="0.335" stop-color="#f26745"/><stop offset="0.357" stop-color="#ed5236"/><stop offset="0.379" stop-color="#e43a2a"/><stop offset="0.402" stop-color="#d82a24"/><stop offset="0.424" stop-color="#c2191e"/><stop offset="0.446" stop-color="#ae141e"/><stop offset="0.469" stop-color="#a2111d"/><stop offset="0.491" stop-color="#9d101c"/><stop offset="0.513" stop-color="#a5111e"/><stop offset="0.535" stop-color="#af141e"/><stop offset="0.558" stop-color="#c0181e"/><stop offset="0.580" stop-color="#cf2121"/><stop offset="0.602" stop-color="#dd3127"/><stop offset="0.625" stop-color="#e84630"/><stop offset="0.647" stop-color="#f16341"/><stop offset="0.669" stop-color="#f67d57"/><stop offset="0.692" stop-color="#f89573"/><stop offset="0.714" stop-color="#faae91"/><stop offset="0.736" stop-color="#fbcdb9"/><stop offset="0.759" stop-color="#f6ece8"/><stop offset="0.781" stop-color="#dfe9f3"/><stop offset="0.803" stop-color="#d7e5f1"/><stop offset="0.826" stop-color="#c0d9ec"/><stop offset="0.848" stop-color="#9fc7e4"/><stop offset="0.870" stop-color="#7ab1d9"/><stop offset="0.892" stop-color="#5899ce"/><stop offset="0.915" stop-color="#3d84c3"/><stop offset="0.937" stop-color="#2a72b7"/><stop offset="0.959" stop-color="#1c62ac"/><stop offset="0.982" stop-color="#1558a3"/><stop offset="1.000" stop-color="#13539f"/></linearGradient><linearGradient id="rb72"><stop offset="0.000" stop-color="#0a3975"/><stop offset="0.022" stop-color="#0b3b79"/><stop offset="0.045" stop-color="#0b3f7f"/><stop offset="0.067" stop-color="#0d468b"/><stop offset="0.089" stop-color="#12519b"/><stop offset="0.112" stop-color="#1a5fa9"/><stop offset="0.134" stop-color="#2a72b7"/><stop offset="0.156" stop-color="#498ec8"/><stop offset="0.178" stop-color="#71abd6"/><stop offset="0.201" stop-color="#9dc6e3"/><stop offset="0.223" stop-color="#c0d9ec"/><stop offset="0.245" stop-color="#e7ecf3"/><stop offset="0.268" stop-color="#fae1d4"/><stop offset="0.290" stop-color="#faa88a"/><stop offset="0.312" stop-color="#f6805a"/><stop offset="0.335" stop-color="#f26644"/><stop offset="0.357" stop-color="#ed5135"/><stop offset="0.379" stop-color="#e4392a"/><stop offset="0.402" stop-color="#d82924"/><stop offset="0.424" stop-color="#c1191e"/><stop offset="0.446" stop-color="#ad131e"/><stop offset="0.469" stop-color="#a2111d"/><stop offset="0.491" stop-color="#9d101c"/><stop offset="0.513" stop-color="#a5111e"/><stop offset="0.535" stop-color="#b0141e"/><stop offset="0.558" stop-color="#c1181e"/><stop offset="0.580" stop-color="#d02221"/><stop offset="0.602" stop-color="#de3227"/><stop offset="0.625" stop-color="#e94731"/><stop offset="0.647" stop-color="#f26443"/><stop offset="0.669" stop-color="#f67e58"/><stop offset="0.692" stop-color="#f89674"/><stop offset="0.714" stop-color="#fab094"/><stop offset="0.736" stop-color="#fccfbb"/><stop offset="0.759" stop-color="#f5ece9"/><stop offset="0.781" stop-color="#dee8f2"/><stop offset="0.803" stop-color="#d7e5f1"/><stop offset="0.826" stop-color="#bed8ec"/><stop offset="0.848" stop-color="#9dc6e3"/><stop offset="0.870" stop-color="#78b0d9"/><stop offset="0.892" stop-color="#5798cd"/><stop offset="0.915" stop-color="#3c83c3"/><stop offset="0.937" stop-color="#2a72b7"/><stop offset="0.959" stop-color="#1c62ab"/><stop offset="0.982" stop-color="#1557a3"/><stop offset="1.000" stop-color="#13539f"/></linearGradient><linearGradient id="rb73"><stop offset="0.000" stop-color="#0a3975"/><stop offset="0.022" stop-color="#0b3c79"/><stop offset="0.045" stop-color="#0b3f80"/><stop offset="0.067" stop-color="#0d468b"/><stop offset="0.089" stop-color="#12529c"/><stop offset="0.112" stop-color="#1b60a9"/><stop offset="0.134" stop-color="#2c74b8"/><stop offset="0.156" stop-color="#4b8fc8"/><stop offset="0.178" stop-color="#74add7"/><stop offset="0.201" stop-color="#9fc7e4"/><stop offset="0.223" stop-color="#c1daec"/><stop offset="0.245" stop-color="#e8ecf3"/><stop offset="0.268" stop-color="#fbded0"/><stop offset="0.290" stop-color="#f9a587"/><stop offset="0.312" stop-color="#f67e59"/><stop offset="0.335" stop-color="#f26543"/><stop offset="0.357" stop-color="#ec5035"/><stop offset="0.379" stop-color="#e33829"/><stop offset="0.402" stop-color="#d72823"/><stop offset="0.424" stop-color="#c0181e"/><stop offset="0.446" stop-color="#ad131e"/><stop offset="0.469" stop-color="#a2111d"/><stop offset="0.491" stop-color="#9d101c"/><stop offset="0.513" stop-color="#a6121e"/><stop offset="0.535" stop-color="#b1141e"/><stop offset="0.558" stop-color="#c1191e"/><stop offset="0.580" stop-color="#d12221"/><stop offset="0.602" stop-color="#df3327"/><stop offset="0.625" stop-color="#e94931"/><stop offset="0.647" stop-color="#f26644"/><stop offset="0.669" stop-color="#f67f59"/><stop offset="0.692" stop-color="#f89776"/><stop offset="0.714" stop-color="#fab196"/><stop offset="0.736" stop-color="#fcd0bd"/><stop offset="0.759" stop-color="#f4edea"/><stop offset="0.781" stop-color="#dde8f2"/><stop offset="0.803" stop-color="#d6e5f1"/><stop offset="0.826" stop-color="#bdd7eb"/><stop offset="0.848" stop-color="#9bc5e3"/><stop offset="0.870" stop-color="#76aed8"/><stop offset="0.892" stop-color="#5597cd"/><stop offset="0.915" stop-color="#3a82c2"/><stop offset="0.937" stop-color="#2971b6"/><stop offset="0.959" stop-color="#1b61aa"/><stop offset="0.982" stop-color="#1557a2"/><stop offset="1.000" stop-color="#13539e"/></linearGradient><linearGradient id="rb74"><stop offset="0.000" stop-color="#0a3975"/><stop offset="0.022" stop-color="#0b3c7a"/><stop offset="0.045" stop-color="#0b4080"/><stop offset="0.067" stop-color="#0d468c"/><stop offset="0.089" stop-color="#12529d"/><stop offset="0.112" stop-color="#1b60aa"/><stop offset="0.134" stop-color="#2c74b9"/><stop offset="0.156" stop-color="#4c90c9"/><stop offset="0.178" stop-color="#75aed8"/><stop offset="0.201" stop-color="#a1c8e4"/><stop offset="0.223" stop-color="#c2daed"/><stop offset="0.245" stop-color="#e8edf2"/><stop offset="0.268" stop-color="#fcddce"/><stop offset="0.290" stop-color="#f9a384"/><stop offset="0.312" stop-color="#f67e58"/><stop offset="0.335" stop-color="#f26442"/><stop offset="0.357" stop-color="#ec4f35"/><stop offset="0.379" stop-color="#e23829"/><stop offset="0.402" stop-color="#d72823"/><stop offset="0.424" stop-color="#bf181e"/><stop offset="0.446" stop-color="#ac131e"/><stop offset="0.469" stop-color="#a2111d"/><stop offset="0.491" stop-color="#9d101c"/><stop offset="0.513" stop-color="#a6121e"/><stop offset="0.535" stop-color="#b2141e"/><stop offset="0.558" stop-color="#c2191e"/><stop offset="0.580" stop-color="#d22322"/><stop offset="0.602" stop-color="#df3328"/><stop offset="0.625" stop-color="#ea4932"/><stop offset="0.647" stop-color="#f26745"/><stop offset="0.669" stop-color="#f6805a"/><stop offset="0.692" stop-color="#f89877"/><stop offset="0.714" stop-color="#fab397"/><stop offset="0.736" stop-color="#fcd1be"/><stop offset="0.759" stop-color="#f3edea"/><stop offset="0.781" stop-color="#dde8f2"/><stop offset="0.803" stop-color="#d6e5f1"/><stop offset="0.826" stop-color="#bcd7eb"/><stop offset="0.848" stop-color="#9ac4e3"/><stop offset="0.870" stop-color="#75aed8"/><stop offset="0.892" stop-color="#5496cc"/><stop offset="0.915" stop-color="#3a82c2"/><stop offset="0.937" stop-color="#2870b6"/><stop offset="0.959" stop-color="#1b61aa"/><stop offset="0.982" stop-color="#1557a2"/><stop offset="1.000" stop-color="#12539e"/></linearGradient></defs>
<g><rect x="406.5" y="7.0" width="224.1" height="3.4" fill="url(#rb0)"/><rect x="406.5" y="10.0" width="224.1" height="3.4" fill="url(#rb1)"/><rect x="406.5" y="13.0" width="224.1" height="3.4" fill="url(#rb2)"/><rect x="406.5" y="16.0" width="224.1" height="3.4" fill="url(#rb3)"/><rect x="406.5" y="19.0" width="224.1" height="3.4" fill="url(#rb4)"/><rect x="406.5" y="22.0" width="224.1" height="3.4" fill="url(#rb5)"/><rect x="406.5" y="25.0" width="224.1" height="3.4" fill="url(#rb6)"/><rect x="406.5" y="28.0" width="224.1" height="3.4" fill="url(#rb7)"/><rect x="406.5" y="31.0" width="224.1" height="3.4" fill="url(#rb8)"/><rect x="406.5" y="34.0" width="224.1" height="3.4" fill="url(#rb9)"/><rect x="406.5" y="37.0" width="224.1" height="3.4" fill="url(#rb10)"/><rect x="406.5" y="40.0" width="224.1" height="3.4" fill="url(#rb11)"/><rect x="406.5" y="43.0" width="224.1" height="3.4" fill="url(#rb12)"/><rect x="406.5" y="46.0" width="224.1" height="3.4" fill="url(#rb13)"/><rect x="406.5" y="49.0" width="224.1" height="3.4" fill="url(#rb14)"/><rect x="406.5" y="52.0" width="224.1" height="3.4" fill="url(#rb15)"/><rect x="406.5" y="55.0" width="224.1" height="3.4" fill="url(#rb16)"/><rect x="406.5" y="58.0" width="224.1" height="3.4" fill="url(#rb17)"/><rect x="406.5" y="61.0" width="224.1" height="3.4" fill="url(#rb18)"/><rect x="406.5" y="64.0" width="224.1" height="3.4" fill="url(#rb19)"/><rect x="406.5" y="67.0" width="224.1" height="3.4" fill="url(#rb20)"/><rect x="406.5" y="70.0" width="224.1" height="3.4" fill="url(#rb21)"/><rect x="406.5" y="73.0" width="224.1" height="3.4" fill="url(#rb22)"/><rect x="406.5" y="76.0" width="224.1" height="3.4" fill="url(#rb23)"/><rect x="406.5" y="79.0" width="224.1" height="3.4" fill="url(#rb24)"/><rect x="406.5" y="82.0" width="224.1" height="3.4" fill="url(#rb25)"/><rect x="406.5" y="85.0" width="224.1" height="3.4" fill="url(#rb26)"/><rect x="406.5" y="88.0" width="224.1" height="3.4" fill="url(#rb27)"/><rect x="406.5" y="91.0" width="224.1" height="3.4" fill="url(#rb28)"/><rect x="406.5" y="94.0" width="224.1" height="3.4" fill="url(#rb29)"/><rect x="406.5" y="97.0" width="224.1" height="3.4" fill="url(#rb30)"/><rect x="406.5" y="100.0" width="224.1" height="3.4" fill="url(#rb31)"/><rect x="406.5" y="103.0" width="224.1" height="3.4" fill="url(#rb32)"/><rect x="406.5" y="106.0" width="224.1" height="3.4" fill="url(#rb33)"/><rect x="406.5" y="109.0" width="224.1" height="3.4" fill="url(#rb34)"/><rect x="406.5" y="112.0" width="224.1" height="3.4" fill="url(#rb35)"/><rect x="406.5" y="115.0" width="224.1" height="3.4" fill="url(#rb36)"/><rect x="406.5" y="118.0" width="224.1" height="3.4" fill="url(#rb37)"/><rect x="406.5" y="121.0" width="224.1" height="3.4" fill="url(#rb38)"/><rect x="406.5" y="124.0" width="224.1" height="3.4" fill="url(#rb39)"/><rect x="406.5" y="127.0" width="224.1" height="3.4" fill="url(#rb40)"/><rect x="406.5" y="130.0" width="224.1" height="3.4" fill="url(#rb41)"/><rect x="406.5" y="133.0" width="224.1" height="3.4" fill="url(#rb42)"/><rect x="406.5" y="136.0" width="224.1" height="3.4" fill="url(#rb43)"/><rect x="406.5" y="139.0" width="224.1" height="3.4" fill="url(#rb44)"/><rect x="406.5" y="142.0" width="224.1" height="3.4" fill="url(#rb45)"/><rect x="406.5" y="145.0" width="224.1" height="3.4" fill="url(#rb46)"/><rect x="406.5" y="148.0" width="224.1" height="3.4" fill="url(#rb47)"/><rect x="406.5" y="151.0" width="224.1" height="3.4" fill="url(#rb48)"/><rect x="406.5" y="154.0" width="224.1" height="3.4" fill="url(#rb49)"/><rect x="406.5" y="157.0" width="224.1" height="3.4" fill="url(#rb50)"/><rect x="406.5" y="160.0" width="224.1" height="3.4" fill="url(#rb51)"/><rect x="406.5" y="163.0" width="224.1" height="3.4" fill="url(#rb52)"/><rect x="406.5" y="166.0" width="224.1" height="3.4" fill="url(#rb53)"/><rect x="406.5" y="169.0" width="224.1" height="3.4" fill="url(#rb54)"/><rect x="406.5" y="172.0" width="224.1" height="3.4" fill="url(#rb55)"/><rect x="406.5" y="175.0" width="224.1" height="3.4" fill="url(#rb56)"/><rect x="406.5" y="178.0" width="224.1" height="3.4" fill="url(#rb57)"/><rect x="406.5" y="181.0" width="224.1" height="3.4" fill="url(#rb58)"/><rect x="406.5" y="184.0" width="224.1" height="3.4" fill="url(#rb59)"/><rect x="406.5" y="187.0" width="224.1" height="3.4" fill="url(#rb60)"/><rect x="406.5" y="190.0" width="224.1" height="3.4" fill="url(#rb61)"/><rect x="406.5" y="193.0" width="224.1" height="3.4" fill="url(#rb62)"/><rect x="406.5" y="196.0" width="224.1" height="3.4" fill="url(#rb63)"/><rect x="406.5" y="199.0" width="224.1" height="3.4" fill="url(#rb64)"/><rect x="406.5" y="202.0" width="224.1" height="3.4" fill="url(#rb65)"/><rect x="406.5" y="205.0" width="224.1" height="3.4" fill="url(#rb66)"/><rect x="406.5" y="208.0" width="224.1" height="3.4" fill="url(#rb67)"/><rect x="406.5" y="211.0" width="224.1" height="3.4" fill="url(#rb68)"/><rect x="406.5" y="214.0" width="224.1" height="3.4" fill="url(#rb69)"/><rect x="406.5" y="217.0" width="224.1" height="3.4" fill="url(#rb70)"/><rect x="406.5" y="220.0" width="224.1" height="3.4" fill="url(#rb71)"/><rect x="406.5" y="223.0" width="224.1" height="3.4" fill="url(#rb72)"/><rect x="406.5" y="226.0" width="224.1" height="3.4" fill="url(#rb73)"/><rect x="406.5" y="229.0" width="224.1" height="0.9" fill="url(#rb74)"/></g>
<rect x="568.5" y="7.0" width="12.2" height="222.9" fill="url(#hatch)"/>
<rect x="406.5" y="7.0" width="89.8" height="82.6" fill="#000" fill-opacity="0.72"/>
<path d="M406.5 7.0V229.9H630.6V7.0H406.5" fill="none" stroke="#222" stroke-width="0.8"/>
<path d="M406.5 169.9h5M406.5 108.7h5M406.5 48.8h5M461.1 229.9v-4.2M517.6 229.9v-4.2M574.6 229.9v-4.2" stroke="#222" stroke-width="1"/>
<text transform="translate(400,233) scale(0.9,1)" font-size="10.5" text-anchor="end">0</text><text transform="translate(400,173.3) scale(0.9,1)" font-size="10.5" text-anchor="end">π/2</text><text transform="translate(400,112.1) scale(0.9,1)" font-size="10.5" text-anchor="end">π</text><text transform="translate(400,54) scale(0.9,1)" font-size="10.5" text-anchor="end">3π/2</text>
<text transform="translate(406.5,242.5) scale(0.9,1)" font-size="10.5" text-anchor="middle">0</text><text transform="translate(461.1,242.5) scale(0.9,1)" font-size="10.5" text-anchor="middle">π/2</text><text transform="translate(517.6,242.5) scale(0.9,1)" font-size="10.5" text-anchor="middle">π</text><text transform="translate(574.6,242.5) scale(0.9,1)" font-size="10.5" text-anchor="middle">3π/2</text><text transform="translate(629.8,242.5) scale(0.9,1)" font-size="10.5" text-anchor="middle">2π</text>
<use href="#phi" transform="translate(514.6,251.6)" color="#1a1a1a"/><text x="520.7" y="254.7" font-size="5.4" fill="#1a1a1a" class="s">B</text>
<use href="#phi" transform="translate(375.7,125.6)" color="#1a1a1a"/><text x="381.8" y="128.7" font-size="5.4" fill="#1a1a1a" class="s">E</text>
<defs><linearGradient id="cbar" x1="0" y1="0" x2="0" y2="1"><stop offset="0.000" stop-color="#6a0818"/><stop offset="0.010" stop-color="#6e0818"/><stop offset="0.052" stop-color="#8c0c1a"/><stop offset="0.093" stop-color="#a8121e"/><stop offset="0.134" stop-color="#c0181e"/><stop offset="0.175" stop-color="#d42422"/><stop offset="0.216" stop-color="#e43a2a"/><stop offset="0.257" stop-color="#f05a3a"/><stop offset="0.299" stop-color="#f67e58"/><stop offset="0.339" stop-color="#f9a080"/><stop offset="0.380" stop-color="#fbc0a8"/><stop offset="0.422" stop-color="#fcdccc"/><stop offset="0.463" stop-color="#f6ece8"/><stop offset="0.501" stop-color="#eeeeee"/><stop offset="0.539" stop-color="#e6ecf4"/><stop offset="0.590" stop-color="#d0e2f0"/><stop offset="0.642" stop-color="#b0d0e8"/><stop offset="0.693" stop-color="#88bade"/><stop offset="0.745" stop-color="#5e9ed0"/><stop offset="0.796" stop-color="#3a82c2"/><stop offset="0.847" stop-color="#2068b0"/><stop offset="0.898" stop-color="#1354a0"/><stop offset="0.940" stop-color="#0c4488"/><stop offset="0.981" stop-color="#0a3670"/><stop offset="1.000" stop-color="#0a3166"/></linearGradient></defs>
<rect x="641" y="65" width="10" height="108.4" fill="url(#cbar)"/>
<path d="M651 119.1h2" stroke="#222" stroke-width="0.8"/>
<text transform="translate(654,69.5) scale(0.9,1)" font-size="10.5">33</text><text transform="translate(654,122.5) scale(0.9,1)" font-size="10.5">0</text><text transform="translate(653.4,176) scale(0.9,1)" font-size="10.5">-32</text>
<text transform="translate(677,119) rotate(-90) scale(0.92,1)" font-size="10.6" text-anchor="middle">ρ<tspan font-size="6" dy="2">IPHE</tspan><tspan dy="-2"> (nΩ cm)</tspan></text>
<path d="M416.3 80.5L416.3 18.7" stroke="#eeeeee" stroke-width="1.05"/><path d="M416.3 14.2L419.1 19.2L413.5 19.2Z" fill="#eeeeee"/><path d="M416.3 80.5L477.2 80.5" stroke="#eeeeee" stroke-width="1.05"/><path d="M481.7 80.5L476.7 83.3L476.7 77.7Z" fill="#eeeeee"/><path d="M416.3 80.5L448.0 27.2" stroke="#eeeeee" stroke-width="1.05"/><path d="M450.3 23.3L450.2 29.0L445.3 26.2Z" fill="#eeeeee"/><path d="M416.3 80.5L469.8 49.5" stroke="#eeeeee" stroke-width="1.05"/><path d="M473.7 47.2L470.8 52.1L468.0 47.3Z" fill="#eeeeee"/><path d="M443.5 34.7A53.3 53.3 0 0 1 469.6 80.5" fill="none" stroke="#eeeeee" stroke-width="1.05"/><path d="M454.2 58.5A43.8 43.8 0 0 1 460.1 80.5" fill="none" stroke="#eeeeee" stroke-width="1.05" stroke-dasharray="2 1.3"/><circle cx="416.3" cy="80.5" r="1.3" fill="#333" stroke="#eeeeee" stroke-width="0.8"/>
<g fill="#eeeeee" font-size="10.5" class="w"><text x="449.8" y="20.4" font-style="italic">B</text><text x="477" y="49.2" font-style="italic">E</text><text x="408" y="52.5" font-style="italic">y</text><text x="448.5" y="88.3" font-style="italic">x</text><text x="482.8" y="84.6"><tspan font-style="italic">M</tspan><tspan font-size="6" dy="1.8">x</tspan></text></g>
<use href="#phi" transform="translate(442.7,51.0)" color="#eeeeee"/><text x="448.8" y="54.1" font-size="5.4" fill="#eeeeee" class="w s">B</text><use href="#phi" transform="translate(444.8,75.0)" color="#eeeeee"/><text x="450.9" y="78.1" font-size="5.4" fill="#eeeeee" class="w s">E</text>
<path d="M456.7 18.9V22.7M458.2 18.9V22.7" stroke="#d8d8d8" stroke-width="0.6"/>
<text transform="translate(4.4,273.3) scale(0.95,1)" font-size="12.2">c</text>
<defs><linearGradient id="cgr" x1="0" y1="0" x2="0" y2="1"><stop offset="0.0000" stop-color="#d73c2e"/><stop offset="0.0408" stop-color="#c52a2a"/><stop offset="0.0654" stop-color="#a01520"/><stop offset="0.0843" stop-color="#720a15"/><stop offset="0.1013" stop-color="#a01520"/><stop offset="0.1188" stop-color="#c82a2a"/><stop offset="0.1372" stop-color="#e45840"/><stop offset="0.1578" stop-color="#f4a080"/><stop offset="0.1874" stop-color="#fbe3d8"/><stop offset="0.2066" stop-color="#eef0f3"/><stop offset="0.2362" stop-color="#c5dbee"/><stop offset="0.2604" stop-color="#8fbfdf"/><stop offset="0.2851" stop-color="#5a9ccc"/><stop offset="0.2963" stop-color="#3a82c0"/><stop offset="0.3245" stop-color="#1f62a8"/><stop offset="0.3433" stop-color="#134985"/><stop offset="0.3577" stop-color="#0a3263"/><stop offset="0.3725" stop-color="#134a88"/><stop offset="0.3909" stop-color="#1a5ca0"/><stop offset="0.4191" stop-color="#5a9ccd"/><stop offset="0.4473" stop-color="#c0d8ea"/><stop offset="0.4711" stop-color="#f0ebe8"/><stop offset="0.4850" stop-color="#fcd8c4"/><stop offset="0.5137" stop-color="#f8a080"/><stop offset="0.5419" stop-color="#e85040"/><stop offset="0.5701" stop-color="#d02a2a"/><stop offset="0.6078" stop-color="#b81a22"/><stop offset="0.6212" stop-color="#950a1a"/><stop offset="0.6316" stop-color="#6a0012"/><stop offset="0.6437" stop-color="#950a1a"/><stop offset="0.6598" stop-color="#c0202a"/><stop offset="0.6835" stop-color="#e04a38"/><stop offset="0.7118" stop-color="#f8a888"/><stop offset="0.7355" stop-color="#fbe0d4"/><stop offset="0.7593" stop-color="#e0e8f0"/><stop offset="0.7826" stop-color="#c0d8ea"/><stop offset="0.8028" stop-color="#80b4d8"/><stop offset="0.8229" stop-color="#4a90c8"/><stop offset="0.8575" stop-color="#2060a8"/><stop offset="0.8812" stop-color="#154c8c"/><stop offset="0.9005" stop-color="#0a3060"/><stop offset="0.9171" stop-color="#154c8c"/><stop offset="0.9346" stop-color="#2a6ab0"/><stop offset="0.9507" stop-color="#5a98cc"/><stop offset="0.9691" stop-color="#90bce0"/><stop offset="0.9946" stop-color="#c8e0f0"/><stop offset="1.0000" stop-color="#d0e4f0"/></linearGradient><clipPath id="cclip"><rect x="30.2" y="273.9" width="222.5" height="223.1"/></clipPath></defs>
<rect x="30.2" y="273.9" width="222.5" height="223.1" fill="url(#cgr)"/>
<g clip-path="url(#cclip)"><path d="M197.1 478.2L202.9 497.0L197.1 515.8L191.3 497.0ZM178.6 458.0L184.4 476.8L178.6 495.6L172.8 476.8ZM160.0 437.9L165.8 456.7L160.0 475.5L154.2 456.7ZM141.5 417.7L147.3 436.5L141.5 455.3L135.7 436.5ZM122.9 397.5L128.7 416.3L122.9 435.1L117.1 416.3ZM104.4 377.4L110.2 396.2L104.4 415.0L98.6 396.2ZM85.8 357.2L91.6 376.0L85.8 394.8L80.0 376.0ZM67.3 337.0L73.1 355.8L67.3 374.6L61.5 355.8ZM48.7 316.8L54.5 335.6L48.7 354.4L42.9 335.6ZM30.2 296.7L36.0 315.5L30.2 334.3L24.4 315.5ZM234.2 276.5L240.0 295.3L234.2 314.1L228.4 295.3ZM215.7 256.3L221.5 275.1L215.7 293.9L209.9 275.1Z" fill="url(#hatchc)"/></g>
<rect x="30.2" y="273.9" width="90.5" height="83.8" fill="#000" fill-opacity="0.68"/>
<path d="M30.2 273.9V497.0H252.7V273.9H30.2" fill="none" stroke="#333" stroke-width="0.8"/>
<path d="M30.2 436.6h5M30.2 376.3h5M30.2 316h5M85.4 497v-4.6M141.1 497v-4.6M197.2 497v-4.6" stroke="#222" stroke-width="1"/>
<text transform="translate(23.6,501.4) scale(0.9,1)" font-size="10.5" text-anchor="end">0</text><text transform="translate(23.6,440) scale(0.9,1)" font-size="10.5" text-anchor="end">π/2</text><text transform="translate(23.6,379.7) scale(0.9,1)" font-size="10.5" text-anchor="end">π</text><text transform="translate(23.6,319.9) scale(0.9,1)" font-size="10.5" text-anchor="end">3π/2</text>
<text transform="translate(29.4,510.2) scale(0.9,1)" font-size="10.5" text-anchor="middle">0</text><text transform="translate(85.4,510.2) scale(0.9,1)" font-size="10.5" text-anchor="middle">π/2</text><text transform="translate(141.1,510.2) scale(0.9,1)" font-size="10.5" text-anchor="middle">π</text><text transform="translate(197.2,510.2) scale(0.9,1)" font-size="10.5" text-anchor="middle">3π/2</text><text transform="translate(252.7,510.2) scale(0.9,1)" font-size="10.5" text-anchor="middle">2π</text>
<use href="#phi" transform="translate(129.2,518.7)" color="#1a1a1a"/><text x="135.3" y="521.8" font-size="5.4" fill="#1a1a1a" class="s">B</text><text transform="translate(141.5,518.7) scale(0.9,1)" font-size="10.5">-</text><use href="#phi" transform="translate(147.6,518.7)" color="#1a1a1a"/><text x="153.7" y="521.8" font-size="5.4" fill="#1a1a1a" class="s">E</text>
<use href="#phi" transform="translate(0.4,393.2)" color="#1a1a1a"/><text x="6.5" y="396.3" font-size="5.4" fill="#1a1a1a" class="s">E</text>
<rect x="265" y="332.5" width="10" height="108.4" fill="url(#cbar)"/>
<path d="M275 386.8h2" stroke="#222" stroke-width="0.8"/>
<text transform="translate(277.4,336.3) scale(0.9,1)" font-size="10.5">2.16</text><text transform="translate(278,390.2) scale(0.9,1)" font-size="10.5">0</text><text transform="translate(278.3,444.4) scale(0.9,1)" font-size="10.5">-2.16</text>
<text transform="translate(300,386) rotate(-90) scale(0.92,1)" font-size="10.6" text-anchor="middle">ρ<tspan font-size="6" dy="2">sym</tspan><tspan dy="-2"> (</tspan><tspan font-style="italic">μ</tspan>Ω cm)</text>
<path d="M40.1 347.9L40.1 286.9" stroke="#eeeeee" stroke-width="1.05"/><path d="M40.1 282.4L42.9 287.4L37.3 287.4Z" fill="#eeeeee"/><path d="M40.1 347.9L101.9 347.9" stroke="#eeeeee" stroke-width="1.05"/><path d="M106.4 347.9L101.4 350.7L101.4 345.1Z" fill="#eeeeee"/><path d="M40.1 347.9L62.6 290.6" stroke="#eeeeee" stroke-width="1.05"/><path d="M64.2 286.4L65.0 292.1L59.8 290.0Z" fill="#eeeeee"/><path d="M40.1 347.9L93.9 317.3" stroke="#eeeeee" stroke-width="1.05"/><path d="M97.8 315.1L94.8 320.0L92.1 315.1Z" fill="#eeeeee"/><path d="M60.0 297.2A54.5 54.5 0 0 1 87.5 321.0" fill="none" stroke="#eeeeee" stroke-width="1.05"/><path d="M77.8 326.5A43.4 43.4 0 0 1 83.5 347.9" fill="none" stroke="#eeeeee" stroke-width="1.05" stroke-dasharray="2 1.3"/><circle cx="40.1" cy="347.9" r="1.3" fill="#333" stroke="#eeeeee" stroke-width="0.8"/>
<g fill="#eeeeee" font-size="10.5" class="w"><text x="64.9" y="287.1" font-style="italic">B</text><text x="101.2" y="317.4" font-style="italic">E</text><text x="31.2" y="319.6" font-style="italic">y</text><text x="71.5" y="356.2" font-style="italic">x</text><text x="106.8" y="351.8"><tspan font-style="italic">M</tspan><tspan font-size="6" dy="1.8">x</tspan></text></g>
<use href="#phi" transform="translate(55.8,320.8)" color="#eeeeee"/><text x="61.9" y="323.9" font-size="5.4" fill="#eeeeee" class="w s">B</text><text x="65.6" y="320.8" font-size="9.4" fill="#eeeeee" class="w">-</text><use href="#phi" transform="translate(69.4,320.8)" color="#eeeeee"/><text x="75.5" y="323.9" font-size="5.4" fill="#eeeeee" class="w s">E</text><use href="#phi" transform="translate(69.6,341.9)" color="#eeeeee"/><text x="75.7" y="345.0" font-size="5.4" fill="#eeeeee" class="w s">E</text>
<path d="M72.4 286.4V290.3M73.9 286.4V290.3" stroke="#d8d8d8" stroke-width="0.6"/>
<text transform="translate(333.1,273.2) scale(0.95,1)" font-size="12.2">d</text>
<path d="M369.6 275H684.2V373.2H369.6Z" fill="none" stroke="#5e5e5e" stroke-width="1"/>
<path d="M369.6 323.8h3M377.9 373.2v-2.8M454.6 373.2v-2.8M531.2 373.2v-2.8M607.8 373.2v-2.8" stroke="#5e5e5e" stroke-width="1"/>
<text transform="translate(365.6,278.6) scale(0.9,1)" font-size="10.5" text-anchor="end">2.4</text><text transform="translate(365.6,327) scale(0.9,1)" font-size="10.5" text-anchor="end">0</text><text transform="translate(365.6,376.6) scale(0.9,1)" font-size="10.5" text-anchor="end">-2.4</text>
<text transform="translate(378.2,384.6) scale(0.9,1)" font-size="10.5" text-anchor="middle">0</text><text transform="translate(454.6,384.6) scale(0.9,1)" font-size="10.5" text-anchor="middle">π/2</text><text transform="translate(531.2,384.6) scale(0.9,1)" font-size="10.5" text-anchor="middle">π</text><text transform="translate(607.8,384.6) scale(0.9,1)" font-size="10.5" text-anchor="middle">3π/2</text>
<use href="#phi" transform="translate(526.8,392.2)" color="#1a1a1a"/><text x="532.9" y="395.3" font-size="5.4" fill="#1a1a1a" class="s">E</text>
<text transform="translate(345.2,320.3) rotate(-90) scale(0.92,1)" font-size="10.6" text-anchor="middle">ρ<tspan font-size="6" dy="2">STR</tspan><tspan dy="-2"> (</tspan><tspan font-style="italic">μ</tspan>Ω cm)</text>
<path d="M378.2 327.9 L404.3 369.3 L430.3 347.1 L456.9 318.4 L483.6 276.9 L510.1 297.2 L536.4 326.4 L563.6 368.3 L589.5 348.2" fill="none" stroke="#1f7ccc" stroke-width="1"/>
<g fill="none" stroke="#1f7ccc" stroke-width="1"><rect x="376.2" y="325.9" width="4" height="4"/><rect x="402.3" y="367.3" width="4" height="4"/><rect x="428.3" y="345.1" width="4" height="4"/><rect x="454.9" y="316.4" width="4" height="4"/><rect x="481.6" y="274.9" width="4" height="4"/><rect x="508.1" y="295.2" width="4" height="4"/><rect x="534.4" y="324.4" width="4" height="4"/><rect x="561.6" y="366.3" width="4" height="4"/><rect x="587.5" y="346.2" width="4" height="4"/></g>
<path d="M633.1 282.3 L658.3 312.8" fill="none" stroke="#1f7ccc" stroke-width="1"/>
<g fill="none" stroke="#1f7ccc" stroke-width="1"><rect x="631.1" y="280.3" width="4" height="4"/><rect x="656.3" y="310.8" width="4" height="4"/></g>
<text transform="translate(341.4,398.5) scale(0.95,1)" font-size="12.2">e</text>
<g fill="none" stroke="#ff1a1a" stroke-width="1.1"><circle cx="377.9" cy="452.2" r="1.4"/><circle cx="386.1" cy="431.5" r="1.4"/><circle cx="394.4" cy="415.5" r="1.4"/><circle cx="402.7" cy="408.1" r="1.4"/><circle cx="411.0" cy="406.1" r="1.4"/><circle cx="423.7" cy="409.1" r="1.4"/><circle cx="427.5" cy="416.2" r="1.4"/><circle cx="436.5" cy="431.1" r="1.4"/><circle cx="444.3" cy="445.4" r="1.4"/><circle cx="452.3" cy="457.6" r="1.4"/><circle cx="460.5" cy="465.0" r="1.4"/><circle cx="468.9" cy="476.1" r="1.4"/><circle cx="477.1" cy="485.5" r="1.4"/><circle cx="485.5" cy="486.3" r="1.4"/><circle cx="493.7" cy="485.1" r="1.4"/><circle cx="502.1" cy="478.7" r="1.4"/><circle cx="510.3" cy="468.7" r="1.4"/><circle cx="518.7" cy="469.3" r="1.4"/><circle cx="535.2" cy="438" r="1.4"/><circle cx="543.7" cy="439" r="1.4"/><circle cx="551.9" cy="422.8" r="1.4"/><circle cx="559.9" cy="412.3" r="1.4"/><circle cx="568.5" cy="406.4" r="1.4"/><circle cx="576.5" cy="406.8" r="1.4"/><circle cx="585.1" cy="411.1" r="1.4"/><circle cx="592.9" cy="424" r="1.4"/><circle cx="601.5" cy="438.5" r="1.4"/><circle cx="609.6" cy="451.1" r="1.4"/><circle cx="613.9" cy="462" r="1.4"/><circle cx="626.4" cy="470.5" r="1.4"/><circle cx="634.8" cy="479.4" r="1.4"/><circle cx="643.2" cy="487.2" r="1.4"/><circle cx="651" cy="487.8" r="1.4"/><circle cx="659.7" cy="486.8" r="1.4"/><circle cx="667.9" cy="480.4" r="1.4"/><circle cx="676.4" cy="470.3" r="1.4"/></g>
<g fill="none" stroke="#0072bd" stroke-width="1"><rect x="384.6" y="439.7" width="3" height="3"/><rect x="392.9" y="440.4" width="3" height="3"/><rect x="396.8" y="425.9" width="3" height="3"/><rect x="409.6" y="412.8" width="3" height="3"/><rect x="417.8" y="407.1" width="3" height="3"/><rect x="426.3" y="406.1" width="3" height="3"/><rect x="434.5" y="408.5" width="3" height="3"/><rect x="442.6" y="416.6" width="3" height="3"/><rect x="450.8" y="430.7" width="3" height="3"/><rect x="459.0" y="445.7" width="3" height="3"/><rect x="462.9" y="457.4" width="3" height="3"/><rect x="475.2" y="467.4" width="3" height="3"/><rect x="484.0" y="476.2" width="3" height="3"/><rect x="492.2" y="485.4" width="3" height="3"/><rect x="500.6" y="486.9" width="3" height="3"/><rect x="502.6" y="485.4" width="3" height="3"/><rect x="517.2" y="478.5" width="3" height="3"/><rect x="525.4" y="471.1" width="3" height="3"/><rect x="533.7" y="453.3" width="3" height="3"/><rect x="541.8" y="431.7" width="3" height="3"/><rect x="550.4" y="415.4" width="3" height="3"/><rect x="558.4" y="406.3" width="3" height="3"/><rect x="561.7" y="406.3" width="3" height="3"/><rect x="565.6" y="407.2" width="3" height="3"/><rect x="569.5" y="415.4" width="3" height="3"/><rect x="591.4" y="427.2" width="3" height="3"/><rect x="599.8" y="440.7" width="3" height="3"/><rect x="608.3" y="451.6" width="3" height="3"/><rect x="616.7" y="462.5" width="3" height="3"/><rect x="624.9" y="472.9" width="3" height="3"/><rect x="633.3" y="483.1" width="3" height="3"/><rect x="641.7" y="488.0" width="3" height="3"/><rect x="649.5" y="486.3" width="3" height="3"/><rect x="658.2" y="480.0" width="3" height="3"/><rect x="666.4" y="469.9" width="3" height="3"/><rect x="674.9" y="469.9" width="3" height="3"/></g>
<path d="M386.1 450.1 L388.0 446.7 L390.0 443.4 L391.9 440.1 L393.9 436.9 L395.8 433.7 L397.8 430.7 L399.7 427.7 L401.7 425.0 L403.6 422.3 L405.6 419.9 L407.5 417.6 L409.4 415.6 L411.4 413.8 L413.3 412.2 L415.3 410.9 L417.2 409.8 L419.2 409.0 L421.1 408.4 L423.1 408.2 L425.0 408.2 L427.0 408.5 L428.9 409.0 L430.8 409.8 L432.8 410.9 L434.7 412.2 L436.7 413.8 L438.6 415.6 L440.6 417.7 L442.5 419.9 L444.5 422.4 L446.4 425.0 L448.4 427.8 L450.3 430.7 L452.3 433.8 L454.2 436.9 L456.1 440.2 L458.1 443.5 L460.0 446.8 L462.0 450.1 L463.9 453.5 L465.9 456.8 L467.8 460.0 L469.8 463.2 L471.7 466.3 L473.7 469.2 L475.6 472.1 L477.5 474.7 L479.5 477.2 L481.4 479.5 L483.4 481.6 L485.3 483.5 L487.3 485.1 L489.2 486.5 L491.2 487.7 L493.1 488.6 L495.1 489.2 L497.0 489.5 L498.9 489.6 L500.9 489.4 L502.8 488.9 L504.8 488.2 L506.7 487.1 L508.7 485.9 L510.6 484.4 L512.6 482.6 L514.5 480.6 L516.5 478.4 L518.4 476.0 L520.3 473.4 L522.3 470.7 L524.2 467.8 L526.2 464.8 L528.1 461.7 L530.1 458.4 L532.0 455.2 L534.0 451.8 L535.9 448.5 L537.9 445.2 L539.8 441.8 L541.8 438.6 L543.7 435.4 L545.6 432.3 L547.6 429.3 L549.5 426.4 L551.5 423.7 L553.4 421.2 L555.4 418.8 L557.3 416.7 L559.3 414.7 L561.2 413.0 L563.2 411.6 L565.1 410.3 L567.0 409.4 L569.0 408.7 L570.9 408.3 L572.9 408.1 L574.8 408.3 L576.8 408.7 L578.7 409.4 L580.7 410.3 L582.6 411.5 L584.6 413.0 L586.5 414.6 L588.4 416.6 L590.4 418.7 L592.3 421.1 L594.3 423.6 L596.2 426.3 L598.2 429.2 L600.1 432.1 L602.1 435.2 L604.0 438.4 L606.0 441.7 L607.9 445.0 L609.8 448.4 L611.8 451.7 L613.7 455.0 L615.7 458.3 L617.6 461.5 L619.6 464.6 L621.5 467.7 L623.5 470.6 L625.4 473.3 L627.4 475.9 L629.3 478.3 L631.3 480.5 L633.2 482.5 L635.1 484.3 L637.1 485.8 L639.0 487.1 L641.0 488.1 L642.9 488.9 L644.9 489.4 L646.8 489.6 L648.8 489.5 L650.7 489.2 L652.7 488.6 L654.6 487.7 L656.5 486.6 L658.5 485.2 L660.4 483.6 L662.4 481.7 L664.3 479.6 L666.3 477.3 L668.2 474.8 L670.2 472.2 L672.1 469.4 L674.1 466.4 L676.0 463.3" fill="none" stroke="#0072bd" stroke-width="1.1"/>
<path d="M377.9 452.6 L379.9 449.2 L381.9 445.8 L383.9 442.5 L385.9 439.1 L387.9 435.9 L389.9 432.7 L391.9 429.6 L393.9 426.7 L395.9 423.9 L397.9 421.3 L399.9 418.9 L401.9 416.7 L403.9 414.7 L405.9 413.0 L407.9 411.5 L409.9 410.3 L411.9 409.3 L413.9 408.7 L415.9 408.3 L417.9 408.2 L419.9 408.3 L421.9 408.8 L423.9 409.5 L425.9 410.6 L427.9 411.8 L429.9 413.4 L431.9 415.2 L433.9 417.2 L435.9 419.5 L437.9 421.9 L439.9 424.6 L441.9 427.4 L443.9 430.3 L445.9 433.4 L447.9 436.6 L449.9 439.9 L451.9 443.3 L453.9 446.6 L455.9 450.0 L457.9 453.4 L459.9 456.8 L461.9 460.1 L463.9 463.3 L465.9 466.4 L467.9 469.4 L469.9 472.2 L471.9 474.9 L473.9 477.4 L475.9 479.6 L477.9 481.7 L479.9 483.5 L481.9 485.1 L483.9 486.4 L485.9 487.5 L487.9 488.2 L489.9 488.7 L491.9 488.9 L493.9 488.9 L495.9 488.5 L497.9 487.9 L499.9 487.0 L501.9 485.8 L503.9 484.3 L505.9 482.6 L507.9 480.7 L509.9 478.5 L511.9 476.1 L513.9 473.5 L515.9 470.8 L517.9 467.9 L519.9 464.8 L521.9 461.6 L523.9 458.4 L525.9 455.1 L528.0 451.7 L530.0 448.3 L532.0 444.9 L534.0 441.5 L536.0 438.2 L538.0 435.0 L540.0 431.8 L542.0 428.8 L544.0 425.9 L546.0 423.2 L548.0 420.6 L550.0 418.3 L552.0 416.1 L554.0 414.2 L556.0 412.6 L558.0 411.2 L560.0 410.0 L562.0 409.1 L564.0 408.5 L566.0 408.2 L568.0 408.2 L570.0 408.4 L572.0 409.0 L574.0 409.8 L576.0 410.9 L578.0 412.2 L580.0 413.9 L582.0 415.7 L584.0 417.8 L586.0 420.1 L588.0 422.6 L590.0 425.3 L592.0 428.2 L594.0 431.2 L596.0 434.3 L598.0 437.5 L600.0 440.8 L602.0 444.2 L604.0 447.6 L606.0 451.0 L608.0 454.3 L610.0 457.7 L612.0 460.9 L614.0 464.1 L616.0 467.2 L618.0 470.2 L620.0 472.9 L622.0 475.6 L624.0 478.0 L626.0 480.2 L628.0 482.2 L630.0 484.0 L632.0 485.5 L634.0 486.7 L636.0 487.7 L638.0 488.4 L640.0 488.8 L642.0 489.0 L644.0 488.8 L646.0 488.4 L648.0 487.7 L650.0 486.7 L652.0 485.4 L654.0 483.9 L656.0 482.1 L658.0 480.1 L660.0 477.9 L662.0 475.4 L664.0 472.8 L666.0 470.0 L668.0 467.0 L670.0 464.0 L672.0 460.8 L674.0 457.5 L676.0 454.2" fill="none" stroke="#ff1a1a" stroke-width="1.1"/>
<path d="M369.5 400H683.3V498H369.5Z" fill="none" stroke="#5e5e5e" stroke-width="1"/>
<path d="M369.5 449.4h3M378.1 498v-2.8M454.4 498v-2.8M530.9 498v-2.8M608.1 498v-2.8" stroke="#5e5e5e" stroke-width="1"/>
<text transform="translate(367.2,402.9) scale(0.9,1)" font-size="10.5" text-anchor="end">50</text><text transform="translate(367.2,452.9) scale(0.9,1)" font-size="10.5" text-anchor="end">0</text><text transform="translate(367.2,502) scale(0.9,1)" font-size="10.5" text-anchor="end">-50</text>
<text transform="translate(378.2,510.3) scale(0.9,1)" font-size="10.5" text-anchor="middle">0</text><text transform="translate(454.4,510.6) scale(0.9,1)" font-size="10.5" text-anchor="middle">π/2</text><text transform="translate(530.9,510.6) scale(0.9,1)" font-size="10.5" text-anchor="middle">π</text><text transform="translate(608.1,510.6) scale(0.9,1)" font-size="10.5" text-anchor="middle">3π/2</text>
<use href="#phi" transform="translate(519.5,519.0)" color="#1a1a1a"/><text x="525.6" y="522.1" font-size="5.4" fill="#1a1a1a" class="s">B</text><text transform="translate(531.8,519) scale(0.9,1)" font-size="10.5">-</text><use href="#phi" transform="translate(537.9,519.0)" color="#1a1a1a"/><text x="544.0" y="522.1" font-size="5.4" fill="#1a1a1a" class="s">E</text>
<text transform="translate(347.8,446.7) rotate(-90) scale(0.92,1)" font-size="10.6" text-anchor="middle">ρ<tspan font-size="6" dy="2">PHE</tspan><tspan dy="-2"> (nΩ cm)</tspan></text>
<use href="#phi" transform="translate(613.5,415.2)" color="#1a1a1a"/><text x="619.6" y="418.3" font-size="5.4" fill="#1a1a1a" class="s">E</text><text transform="translate(624.6,415.3) scale(0.9,1)" font-size="10.5">= 0</text>
<use href="#phi" transform="translate(613.5,441.0)" color="#1a1a1a"/><text x="619.6" y="444.1" font-size="5.4" fill="#1a1a1a" class="s">E</text><text transform="translate(624.6,441.0) scale(0.9,1)" font-size="10.5">= π</text>
<circle cx="647.9" cy="408.5" r="2.7" fill="none" stroke="#ff1a1a" stroke-width="1"/>
<path d="M641.1 417.2H654.8" stroke="#ff1a1a" stroke-width="1.1"/>
<rect x="645.7" y="432.4" width="4.6" height="4.6" fill="none" stroke="#0072bd" stroke-width="0.95"/>
<path d="M641.1 445.2H654.8" stroke="#0072bd" stroke-width="1.1"/>
<text transform="translate(657.4,411.9) scale(0.88,1)" font-size="10.5">Data</text><text transform="translate(657.4,420.8) scale(0.88,1)" font-size="10.5">Fit</text><text transform="translate(657.4,438.3) scale(0.88,1)" font-size="10.5">Data</text><text transform="translate(657.4,448.9) scale(0.88,1)" font-size="10.5">Fit</text>
</svg>
</body></html>
